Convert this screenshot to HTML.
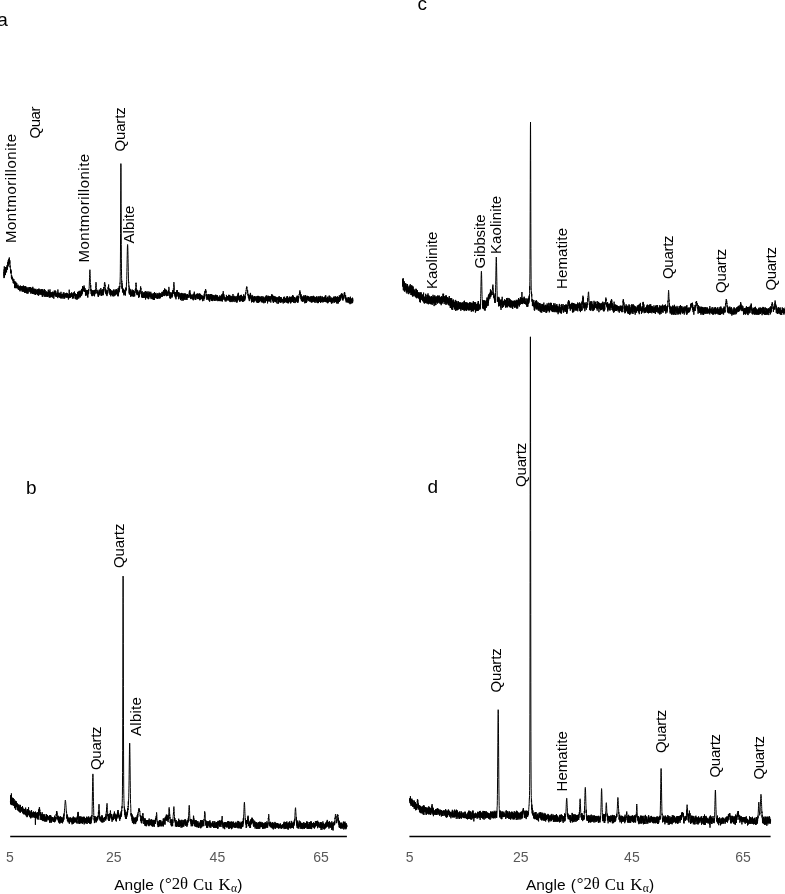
<!DOCTYPE html>
<html><head><meta charset="utf-8"><style>
html,body{margin:0;padding:0;background:#fff;width:785px;height:894px;overflow:hidden}
svg{position:absolute;left:0;top:0;display:block}
text{font-family:"Liberation Sans",sans-serif;fill:#000}
.tick{fill:#595959}
.ttl{fill:#000}
.serif{font-family:"Liberation Serif",serif}
</style></head><body>
<svg width="785" height="894" viewBox="0 0 785 894">
<defs><filter id="bl" x="-5%" y="-5%" width="110%" height="110%"><feGaussianBlur stdDeviation="0.35"/></filter></defs>
<g fill="none" stroke="#000" stroke-width="1.0" stroke-linejoin="round" filter="url(#bl)">
<polyline points="3.80,272.0 3.88,273.2 3.97,278.1 4.05,272.0 4.13,269.4 4.22,275.8 4.30,266.4 4.38,271.2 4.47,277.4 4.55,273.9 4.63,274.0 4.72,269.1 4.80,274.7 4.88,270.3 4.97,271.1 5.05,273.8 5.13,273.8 5.22,272.3 5.30,273.4 5.38,271.0 5.47,275.1 5.55,267.0 5.63,272.3 5.72,271.1 5.80,267.4 5.88,267.8 5.97,269.8 6.05,268.2 6.13,271.4 6.22,268.0 6.30,268.1 6.38,269.4 6.47,267.1 6.55,272.4 6.63,268.7 6.72,266.6 6.80,266.7 6.88,268.1 6.97,267.6 7.05,265.1 7.13,265.7 7.22,266.3 7.30,267.8 7.38,268.2 7.47,269.7 7.55,268.0 7.63,264.4 7.72,264.2 7.80,262.1 7.88,266.3 7.97,266.6 8.05,265.8 8.13,264.0 8.22,260.3 8.30,265.6 8.38,262.3 8.47,263.2 8.55,263.9 8.63,260.6 8.72,258.9 8.80,259.4 8.88,261.7 8.97,261.5 9.05,261.3 9.13,264.6 9.22,258.9 9.30,257.5 9.38,259.9 9.47,262.7 9.55,261.7 9.63,262.7 9.72,263.4 9.80,260.8 9.88,260.3 9.97,261.9 10.05,267.0 10.13,265.6 10.22,267.9 10.30,267.5 10.38,268.5 10.47,268.4 10.55,272.9 10.63,271.9 10.72,270.3 10.80,272.3 10.88,269.4 10.97,273.5 11.05,270.8 11.13,271.1 11.22,273.9 11.30,274.5 11.38,277.9 11.47,278.0 11.55,276.9 11.63,275.1 11.72,276.6 11.80,279.2 11.88,277.7 11.97,276.7 12.05,276.6 12.13,278.5 12.22,277.1 12.30,280.0 12.38,279.6 12.47,279.6 12.55,277.9 12.63,279.7 12.72,280.5 12.80,280.6 12.88,280.9 12.97,278.6 13.05,280.0 13.13,281.3 13.22,283.1 13.30,281.1 13.38,280.1 13.47,283.3 13.55,281.9 13.63,281.0 13.72,281.3 13.80,280.0 13.88,279.2 13.97,282.9 14.05,282.8 14.13,283.5 14.22,281.8 14.30,282.6 14.38,281.2 14.47,282.5 14.55,283.0 14.63,287.8 14.72,283.1 14.80,281.8 14.88,283.8 14.97,286.1 15.05,288.2 15.13,285.9 15.22,284.8 15.30,284.9 15.38,285.8 15.47,284.5 15.55,286.4 15.63,281.6 15.72,286.3 15.80,288.1 15.88,287.5 15.97,285.3 16.05,284.5 16.13,287.2 16.22,282.7 16.30,284.1 16.38,285.5 16.47,288.2 16.55,285.3 16.63,286.9 16.72,284.9 16.80,283.2 16.88,286.8 16.97,286.5 17.05,286.4 17.13,286.0 17.22,286.2 17.30,285.4 17.38,287.2 17.47,286.8 17.55,286.8 17.63,286.9 17.72,287.8 17.80,286.1 17.88,288.5 17.97,288.9 18.05,284.7 18.13,286.4 18.22,287.0 18.30,289.6 18.38,289.1 18.47,288.0 18.55,288.1 18.63,287.1 18.72,288.9 18.80,287.4 18.88,289.8 18.97,288.7 19.05,286.0 19.13,287.2 19.22,289.9 19.30,287.1 19.38,288.2 19.47,290.0 19.55,289.0 19.63,288.3 19.72,286.6 19.80,290.3 19.88,290.6 19.97,288.0 20.05,291.3 20.13,288.9 20.22,288.9 20.30,285.5 20.38,289.6 20.47,287.7 20.55,288.0 20.63,288.6 20.72,289.1 20.80,287.3 20.88,289.8 20.97,286.1 21.05,288.5 21.13,289.0 21.22,287.5 21.30,288.5 21.38,288.0 21.47,286.5 21.55,289.8 21.63,288.4 21.72,287.2 21.80,288.2 21.88,287.5 21.97,291.4 22.05,286.0 22.13,289.2 22.22,290.3 22.30,286.4 22.38,289.6 22.47,288.9 22.55,291.3 22.63,288.3 22.72,289.5 22.80,286.9 22.88,291.5 22.97,288.2 23.05,290.2 23.13,286.9 23.22,291.2 23.30,291.9 23.38,285.5 23.47,288.1 23.55,289.6 23.63,290.7 23.72,289.6 23.80,286.2 23.88,287.8 23.97,288.3 24.05,291.2 24.13,288.5 24.22,287.6 24.30,286.3 24.38,288.0 24.47,292.2 24.55,291.5 24.63,290.1 24.72,291.9 24.80,293.0 24.88,289.0 24.97,288.5 25.05,291.2 25.13,286.9 25.22,291.4 25.30,286.5 25.38,290.4 25.47,290.1 25.55,290.4 25.63,287.6 25.72,286.1 25.80,291.3 25.88,292.9 25.97,291.7 26.05,288.5 26.13,292.7 26.22,287.5 26.30,287.6 26.38,288.7 26.47,289.8 26.55,289.8 26.63,290.4 26.72,291.2 26.80,287.8 26.88,293.4 26.97,290.2 27.05,288.8 27.13,287.3 27.22,293.6 27.30,289.6 27.38,289.5 27.47,288.9 27.55,290.7 27.63,291.0 27.72,289.2 27.80,288.9 27.88,289.3 27.97,290.5 28.05,291.8 28.13,293.5 28.22,292.5 28.30,292.5 28.38,290.7 28.47,290.0 28.55,289.0 28.63,289.7 28.72,287.9 28.80,287.2 28.88,290.7 28.97,289.1 29.05,289.1 29.13,288.4 29.22,291.9 29.30,291.3 29.38,288.3 29.47,289.5 29.55,287.2 29.63,288.9 29.72,290.4 29.80,288.6 29.88,290.4 29.97,289.5 30.05,289.8 30.13,289.7 30.22,287.1 30.30,292.4 30.38,287.3 30.47,288.0 30.55,290.9 30.63,288.5 30.72,287.9 30.80,292.4 30.88,293.7 30.97,290.1 31.05,287.7 31.13,290.1 31.22,288.3 31.30,292.3 31.38,288.7 31.47,291.0 31.55,289.7 31.63,292.7 31.72,292.1 31.80,291.4 31.88,292.6 31.97,290.1 32.05,292.0 32.13,290.8 32.22,287.9 32.30,293.8 32.38,291.4 32.47,293.5 32.55,291.6 32.63,292.6 32.72,291.6 32.80,286.8 32.88,290.3 32.97,289.3 33.05,293.9 33.13,292.2 33.22,292.6 33.30,293.7 33.38,288.6 33.47,292.0 33.55,291.0 33.63,289.9 33.72,294.1 33.80,293.4 33.88,290.8 33.97,290.5 34.05,292.8 34.13,289.3 34.22,288.6 34.30,289.9 34.38,289.4 34.47,294.4 34.55,289.6 34.63,293.7 34.72,291.0 34.80,291.9 34.88,293.9 34.97,291.6 35.05,291.3 35.13,290.7 35.22,289.3 35.30,290.5 35.38,289.1 35.47,295.0 35.55,292.2 35.63,291.1 35.72,294.3 35.80,291.3 35.88,288.8 35.97,291.0 36.05,291.2 36.13,290.8 36.22,294.2 36.30,289.9 36.38,291.8 36.47,291.9 36.55,293.2 36.63,291.6 36.72,293.5 36.80,292.3 36.88,290.7 36.97,293.4 37.05,293.7 37.13,291.0 37.22,293.4 37.30,290.4 37.38,289.3 37.47,291.7 37.55,292.9 37.63,291.4 37.72,295.1 37.80,292.9 37.88,291.4 37.97,289.5 38.05,292.4 38.13,292.3 38.22,295.2 38.30,289.2 38.38,292.7 38.47,293.8 38.55,295.0 38.63,295.7 38.72,288.9 38.80,293.4 38.88,291.8 38.97,288.6 39.05,293.6 39.13,294.4 39.22,293.5 39.30,289.8 39.38,294.5 39.47,292.2 39.55,291.4 39.63,290.6 39.72,290.5 39.80,289.7 39.88,294.0 39.97,292.6 40.05,292.6 40.13,291.9 40.22,292.0 40.30,292.9 40.38,293.4 40.47,292.2 40.55,289.5 40.63,294.5 40.72,291.8 40.80,294.2 40.88,291.6 40.97,294.5 41.05,292.3 41.13,291.9 41.22,293.6 41.30,292.0 41.38,294.2 41.47,292.1 41.55,292.9 41.63,289.1 41.72,293.4 41.80,293.9 41.88,295.1 41.97,290.0 42.05,293.0 42.13,294.3 42.22,294.4 42.30,296.8 42.38,290.5 42.47,290.6 42.55,291.7 42.63,290.9 42.72,292.5 42.80,289.0 42.88,291.8 42.97,296.5 43.05,291.4 43.13,294.5 43.22,293.6 43.30,295.1 43.38,294.9 43.47,292.6 43.55,292.1 43.63,290.8 43.72,290.3 43.80,292.3 43.88,292.2 43.97,293.3 44.05,291.6 44.13,291.5 44.22,290.9 44.30,293.1 44.38,292.1 44.47,290.1 44.55,289.2 44.63,296.5 44.72,295.7 44.80,295.5 44.88,294.9 44.97,293.9 45.05,296.8 45.13,290.0 45.22,295.7 45.30,294.9 45.38,294.7 45.47,293.8 45.55,294.7 45.63,292.3 45.72,293.2 45.80,293.5 45.88,294.3 45.97,295.7 46.05,294.9 46.13,297.0 46.22,291.4 46.30,293.8 46.38,294.2 46.47,292.6 46.55,293.1 46.63,293.9 46.72,296.1 46.80,295.0 46.88,291.6 46.97,293.1 47.05,293.8 47.13,293.7 47.22,294.7 47.30,294.4 47.38,297.0 47.47,293.5 47.55,294.3 47.63,292.4 47.72,292.0 47.80,294.3 47.88,293.3 47.97,294.2 48.05,294.4 48.13,295.3 48.22,295.5 48.30,289.7 48.38,292.7 48.47,295.6 48.55,296.5 48.63,292.5 48.72,291.9 48.80,292.1 48.88,293.5 48.97,291.8 49.05,292.7 49.13,293.9 49.22,292.8 49.30,297.6 49.38,293.8 49.47,292.2 49.55,291.0 49.63,293.7 49.72,293.6 49.80,293.2 49.88,296.5 49.97,289.4 50.05,297.5 50.13,292.0 50.22,296.0 50.30,293.6 50.38,293.2 50.47,296.3 50.55,294.9 50.63,294.1 50.72,294.8 50.80,297.1 50.88,297.3 50.97,293.8 51.05,293.6 51.13,296.9 51.22,295.0 51.30,295.3 51.38,294.0 51.47,293.1 51.55,293.9 51.63,292.2 51.72,296.8 51.80,294.6 51.88,297.0 51.97,294.0 52.05,294.8 52.13,293.1 52.22,295.9 52.30,292.6 52.38,292.4 52.47,293.5 52.55,294.5 52.63,291.7 52.72,297.7 52.80,292.9 52.88,292.6 52.97,294.5 53.05,295.9 53.13,293.1 53.22,293.3 53.30,292.5 53.38,295.3 53.47,294.6 53.55,294.4 53.63,295.1 53.72,295.2 53.80,298.7 53.88,293.5 53.97,293.1 54.05,294.1 54.13,291.9 54.22,292.8 54.30,290.5 54.38,294.3 54.47,291.3 54.55,294.8 54.63,294.5 54.72,292.6 54.80,292.7 54.88,294.8 54.97,291.6 55.05,291.5 55.13,296.2 55.22,295.1 55.30,296.4 55.38,291.6 55.47,290.6 55.55,293.3 55.63,295.5 55.72,292.8 55.80,295.4 55.88,291.4 55.97,295.1 56.05,294.0 56.13,295.3 56.22,296.8 56.30,295.3 56.38,294.1 56.47,293.4 56.55,296.7 56.63,296.7 56.72,296.9 56.80,296.8 56.88,296.4 56.97,296.9 57.05,295.0 57.13,293.8 57.22,295.4 57.30,292.9 57.38,293.8 57.47,293.0 57.55,292.8 57.63,295.8 57.72,295.7 57.80,298.1 57.88,289.5 57.97,293.5 58.05,292.7 58.13,294.9 58.22,295.3 58.30,295.0 58.38,296.9 58.47,293.6 58.55,294.1 58.63,293.5 58.72,295.1 58.80,295.3 58.88,296.8 58.97,295.9 59.05,294.5 59.13,292.7 59.22,296.7 59.30,296.9 59.38,296.8 59.47,295.3 59.55,295.2 59.63,297.7 59.72,295.8 59.80,293.4 59.88,296.3 59.97,295.1 60.05,293.1 60.13,296.3 60.22,297.2 60.30,295.3 60.38,295.7 60.47,294.7 60.55,296.2 60.63,298.0 60.72,294.8 60.80,296.0 60.88,293.5 60.97,291.8 61.05,298.7 61.13,295.7 61.22,295.5 61.30,296.3 61.38,297.9 61.47,294.5 61.55,296.4 61.63,294.0 61.72,295.2 61.80,294.9 61.88,294.7 61.97,294.3 62.05,293.8 62.13,295.4 62.22,294.9 62.30,294.8 62.38,294.0 62.47,296.7 62.55,295.0 62.63,297.6 62.72,296.5 62.80,296.9 62.88,296.9 62.97,294.5 63.05,298.8 63.13,294.8 63.22,295.8 63.30,292.5 63.38,295.2 63.47,296.7 63.55,294.4 63.63,295.8 63.72,293.7 63.80,295.5 63.88,297.0 63.97,292.4 64.05,297.4 64.13,296.0 64.22,294.6 64.30,295.2 64.38,298.0 64.47,296.5 64.55,294.9 64.63,298.7 64.72,294.7 64.80,295.3 64.88,296.0 64.97,295.5 65.05,295.7 65.13,293.7 65.22,297.5 65.30,293.2 65.38,293.4 65.47,294.4 65.55,295.1 65.63,296.4 65.72,294.8 65.80,295.1 65.88,295.0 65.97,296.7 66.05,295.7 66.13,295.6 66.22,296.9 66.30,295.0 66.38,297.6 66.47,293.8 66.55,296.0 66.63,292.8 66.72,297.3 66.80,297.2 66.88,296.7 66.97,294.8 67.05,296.3 67.13,294.5 67.22,297.4 67.30,295.7 67.38,297.5 67.47,296.6 67.55,295.7 67.63,293.2 67.72,296.7 67.80,297.0 67.88,295.7 67.97,294.0 68.05,297.1 68.13,295.6 68.22,294.7 68.30,295.8 68.38,299.5 68.47,295.6 68.55,298.2 68.63,296.1 68.72,297.7 68.80,296.3 68.88,294.3 68.97,298.3 69.05,298.2 69.13,296.7 69.22,289.7 69.30,296.0 69.38,297.7 69.47,295.8 69.55,294.4 69.63,296.2 69.72,295.2 69.80,293.1 69.88,296.0 69.97,295.2 70.05,297.4 70.13,294.6 70.22,293.4 70.30,295.3 70.38,297.8 70.47,296.0 70.55,297.1 70.63,294.3 70.72,295.1 70.80,294.2 70.88,296.2 70.97,294.4 71.05,297.0 71.13,294.0 71.22,296.1 71.30,294.5 71.38,296.2 71.47,296.1 71.55,292.4 71.63,295.2 71.72,295.5 71.80,296.7 71.88,295.6 71.97,295.6 72.05,293.1 72.13,295.3 72.22,295.4 72.30,294.6 72.38,298.7 72.47,298.2 72.55,294.7 72.63,294.3 72.72,297.6 72.80,294.1 72.88,297.5 72.97,297.5 73.05,296.1 73.13,294.1 73.22,293.4 73.30,298.1 73.38,292.4 73.47,296.4 73.55,295.1 73.63,295.8 73.72,295.9 73.80,297.4 73.88,298.5 73.97,294.5 74.05,295.7 74.13,295.2 74.22,296.2 74.30,294.7 74.38,295.0 74.47,291.5 74.55,295.2 74.63,294.8 74.72,294.2 74.80,295.8 74.88,294.2 74.97,296.0 75.05,293.9 75.13,295.2 75.22,293.4 75.30,293.3 75.38,298.8 75.47,295.4 75.55,294.8 75.63,297.4 75.72,299.2 75.80,297.6 75.88,298.4 75.97,297.6 76.05,298.4 76.13,296.3 76.22,294.3 76.30,294.1 76.38,295.1 76.47,295.7 76.55,296.4 76.63,294.6 76.72,295.4 76.80,294.0 76.88,297.8 76.97,299.9 77.05,295.7 77.13,295.4 77.22,297.5 77.30,298.7 77.38,298.1 77.47,294.7 77.55,291.9 77.63,294.8 77.72,297.4 77.80,298.6 77.88,295.8 77.97,298.6 78.05,295.2 78.13,295.4 78.22,295.7 78.30,294.2 78.38,296.1 78.47,295.5 78.55,292.5 78.63,297.0 78.72,291.5 78.80,294.5 78.88,292.5 78.97,298.3 79.05,291.7 79.13,295.1 79.22,294.1 79.30,290.8 79.38,294.5 79.47,295.9 79.55,296.2 79.63,294.7 79.72,295.7 79.80,292.2 79.88,291.5 79.97,296.9 80.05,293.2 80.13,296.8 80.22,292.8 80.30,295.4 80.38,293.2 80.47,294.5 80.55,297.3 80.63,292.2 80.72,295.0 80.80,290.5 80.88,294.1 80.97,294.5 81.05,295.1 81.13,292.1 81.22,295.8 81.30,294.0 81.38,293.4 81.47,291.4 81.55,294.0 81.63,289.5 81.72,295.3 81.80,289.4 81.88,290.2 81.97,288.9 82.05,294.1 82.13,290.3 82.22,290.1 82.30,288.7 82.38,293.2 82.47,290.2 82.55,286.1 82.63,287.0 82.72,290.5 82.80,288.9 82.88,286.7 82.97,289.0 83.05,288.2 83.13,287.6 83.22,287.1 83.30,290.6 83.38,288.3 83.47,291.1 83.55,287.5 83.63,289.6 83.72,286.9 83.80,288.2 83.88,287.7 83.97,289.2 84.05,285.5 84.13,288.2 84.22,292.0 84.30,287.4 84.38,289.9 84.47,289.8 84.55,289.9 84.63,290.6 84.72,289.5 84.80,291.5 84.88,290.5 84.97,291.5 85.05,288.2 85.13,291.8 85.22,290.0 85.30,290.9 85.38,292.0 85.47,295.6 85.55,291.9 85.63,294.9 85.72,291.6 85.80,292.1 85.88,290.6 85.97,294.9 86.05,295.4 86.13,292.9 86.22,292.6 86.30,289.9 86.38,292.0 86.47,295.1 86.55,293.0 86.63,290.7 86.72,290.8 86.80,295.2 86.88,293.5 86.97,293.2 87.05,295.1 87.13,295.1 87.22,293.1 87.30,293.7 87.38,292.3 87.47,293.0 87.55,296.9 87.63,290.0 87.72,295.2 87.80,297.6 87.88,292.9 87.97,292.3 88.05,294.3 88.13,293.1 88.22,290.9 88.30,291.6 88.38,292.0 88.47,292.9 88.55,289.3 88.63,293.6 88.72,290.4 88.80,289.9 88.88,290.4 88.97,289.2 89.05,288.6 89.13,288.5 89.22,286.2 89.30,285.1 89.38,281.9 89.47,279.1 89.55,277.6 89.63,274.6 89.72,272.1 89.80,270.3 89.88,269.7 89.97,269.8 90.05,271.6 90.13,273.5 90.22,275.6 90.30,278.7 90.38,282.3 90.47,282.8 90.55,284.3 90.63,287.4 90.72,285.1 90.80,291.3 90.88,290.7 90.97,288.8 91.05,291.3 91.13,294.1 91.22,292.6 91.30,293.0 91.38,289.8 91.47,290.6 91.55,292.4 91.63,294.9 91.72,290.6 91.80,293.0 91.88,291.9 91.97,295.7 92.05,291.7 92.13,296.2 92.22,291.0 92.30,294.4 92.38,296.0 92.47,293.4 92.55,290.3 92.63,293.1 92.72,294.9 92.80,295.0 92.88,291.2 92.97,291.9 93.05,295.9 93.13,290.4 93.22,293.2 93.30,290.6 93.38,293.8 93.47,293.0 93.55,293.4 93.63,292.2 93.72,294.1 93.80,293.3 93.88,291.6 93.97,292.9 94.05,294.3 94.13,290.3 94.22,293.8 94.30,294.7 94.38,292.3 94.47,294.7 94.55,296.3 94.63,292.3 94.72,289.9 94.80,292.9 94.88,294.3 94.97,290.0 95.05,292.8 95.13,292.5 95.22,293.6 95.30,292.2 95.38,290.3 95.47,291.0 95.55,291.0 95.63,288.4 95.72,285.4 95.80,283.6 95.88,283.5 95.97,282.2 96.05,282.3 96.13,283.7 96.22,283.5 96.30,287.5 96.38,287.6 96.47,289.3 96.55,291.4 96.63,291.4 96.72,290.3 96.80,291.9 96.88,293.2 96.97,291.8 97.05,293.5 97.13,293.0 97.22,292.4 97.30,291.5 97.38,291.5 97.47,293.1 97.55,292.6 97.63,293.8 97.72,294.4 97.80,290.6 97.88,289.8 97.97,292.0 98.05,294.4 98.13,296.6 98.22,294.1 98.30,295.2 98.38,296.5 98.47,296.8 98.55,293.4 98.63,292.8 98.72,293.7 98.80,294.0 98.88,294.2 98.97,291.7 99.05,295.1 99.13,293.0 99.22,290.7 99.30,293.4 99.38,293.4 99.47,292.4 99.55,294.1 99.63,289.6 99.72,293.1 99.80,290.5 99.88,292.9 99.97,294.6 100.05,294.3 100.13,295.5 100.22,292.4 100.30,293.5 100.38,291.5 100.47,292.4 100.55,293.0 100.63,292.3 100.72,291.5 100.80,288.0 100.88,288.6 100.97,290.8 101.05,291.4 101.13,290.9 101.22,290.2 101.30,292.5 101.38,290.5 101.47,295.9 101.55,291.3 101.63,294.1 101.72,293.4 101.80,293.3 101.88,290.8 101.97,295.1 102.05,295.3 102.13,295.1 102.22,293.0 102.30,289.2 102.38,295.2 102.47,291.9 102.55,291.5 102.63,291.5 102.72,291.7 102.80,290.3 102.88,294.6 102.97,289.9 103.05,290.5 103.13,291.4 103.22,293.9 103.30,295.2 103.38,293.2 103.47,291.3 103.55,289.2 103.63,289.2 103.72,290.9 103.80,292.4 103.88,287.0 103.97,290.6 104.05,287.0 104.13,287.9 104.22,287.9 104.30,286.4 104.38,283.0 104.47,282.9 104.55,282.3 104.63,282.0 104.72,282.4 104.80,282.6 104.88,284.0 104.97,283.9 105.05,285.1 105.13,286.1 105.22,284.9 105.30,287.2 105.38,287.5 105.47,289.7 105.55,289.4 105.63,292.4 105.72,289.1 105.80,293.9 105.88,289.9 105.97,292.8 106.05,291.5 106.13,293.2 106.22,292.7 106.30,290.5 106.38,295.1 106.47,292.9 106.55,292.2 106.63,292.3 106.72,292.8 106.80,293.6 106.88,291.6 106.97,296.1 107.05,292.9 107.13,293.3 107.22,294.3 107.30,291.0 107.38,292.9 107.47,292.4 107.55,292.3 107.63,293.9 107.72,291.2 107.80,292.9 107.88,290.0 107.97,291.1 108.05,288.1 108.13,287.2 108.22,289.1 108.30,287.8 108.38,286.5 108.47,287.3 108.55,285.4 108.63,284.5 108.72,287.7 108.80,289.6 108.88,289.1 108.97,289.7 109.05,288.3 109.13,288.3 109.22,289.3 109.30,291.7 109.38,291.9 109.47,291.5 109.55,289.1 109.63,289.4 109.72,292.2 109.80,290.3 109.88,294.7 109.97,289.5 110.05,292.5 110.13,292.9 110.22,289.7 110.30,294.3 110.38,292.4 110.47,289.3 110.55,291.5 110.63,294.8 110.72,291.6 110.80,296.3 110.88,290.0 110.97,292.2 111.05,291.9 111.13,293.2 111.22,291.7 111.30,294.6 111.38,290.7 111.47,292.0 111.55,292.5 111.63,294.1 111.72,294.8 111.80,292.9 111.88,291.7 111.97,293.2 112.05,292.4 112.13,294.7 112.22,294.4 112.30,295.1 112.38,291.5 112.47,293.4 112.55,293.0 112.63,291.5 112.72,295.9 112.80,290.7 112.88,293.5 112.97,293.3 113.05,292.0 113.13,296.5 113.22,291.6 113.30,294.7 113.38,290.1 113.47,289.6 113.55,291.7 113.63,294.3 113.72,292.0 113.80,293.7 113.88,293.7 113.97,291.8 114.05,290.6 114.13,294.2 114.22,296.2 114.30,294.1 114.38,294.7 114.47,293.6 114.55,292.7 114.63,292.8 114.72,293.8 114.80,294.9 114.88,294.5 114.97,289.5 115.05,294.6 115.13,291.1 115.22,294.3 115.30,295.4 115.38,290.8 115.47,292.5 115.55,292.7 115.63,290.5 115.72,291.5 115.80,293.2 115.88,291.3 115.97,292.9 116.05,290.4 116.13,291.4 116.22,291.2 116.30,289.0 116.38,292.7 116.47,290.8 116.55,294.4 116.63,292.9 116.72,293.0 116.80,291.4 116.88,289.6 116.97,289.6 117.05,290.1 117.13,293.9 117.22,293.5 117.30,293.8 117.38,290.5 117.47,292.6 117.55,293.7 117.63,292.5 117.72,294.9 117.80,296.0 117.88,293.7 117.97,292.0 118.05,296.4 118.13,288.1 118.22,295.6 118.30,293.8 118.38,293.0 118.47,292.2 118.55,293.3 118.63,293.5 118.72,292.5 118.80,292.7 118.88,288.2 118.97,288.9 119.05,289.2 119.13,292.1 119.22,286.4 119.30,290.6 119.38,286.3 119.47,289.2 119.55,290.0 119.63,287.8 119.72,288.3 119.80,286.2 119.88,286.8 119.97,282.8 120.05,283.5 120.13,280.0 120.22,276.8 120.30,271.6 120.38,263.4 120.47,251.1 120.55,233.7 120.63,212.2 120.72,190.1 120.80,172.1 120.88,163.6 120.97,167.3 121.05,182.1 121.13,203.2 121.22,225.3 121.30,244.6 121.38,258.8 121.47,268.8 121.55,275.2 121.63,278.7 121.72,282.4 121.80,280.8 121.88,285.5 121.97,288.5 122.05,283.1 122.13,284.5 122.22,288.8 122.30,286.4 122.38,285.9 122.47,292.3 122.55,290.2 122.63,290.6 122.72,291.6 122.80,288.9 122.88,290.3 122.97,291.5 123.05,289.8 123.13,292.2 123.22,292.9 123.30,290.4 123.38,291.6 123.47,291.3 123.55,288.7 123.63,294.3 123.72,291.8 123.80,292.5 123.88,291.9 123.97,295.4 124.05,294.2 124.13,293.7 124.22,293.0 124.30,290.2 124.38,291.7 124.47,292.1 124.55,290.8 124.63,291.5 124.72,294.7 124.80,294.3 124.88,290.4 124.97,289.7 125.05,292.9 125.13,292.5 125.22,291.3 125.30,292.4 125.38,292.8 125.47,295.5 125.55,292.3 125.63,292.2 125.72,290.5 125.80,291.0 125.88,287.5 125.97,290.0 126.05,288.2 126.13,289.1 126.22,290.3 126.30,286.9 126.38,286.9 126.47,283.0 126.55,284.0 126.63,281.9 126.72,279.5 126.80,275.8 126.88,271.7 126.97,267.4 127.05,263.2 127.13,259.5 127.22,255.4 127.30,251.4 127.38,248.0 127.47,245.8 127.55,244.6 127.63,244.5 127.72,245.6 127.80,247.7 127.88,250.7 127.97,254.4 128.05,258.5 128.13,262.7 128.22,267.0 128.30,271.4 128.38,275.0 128.47,278.9 128.55,281.9 128.63,282.8 128.72,281.8 128.80,285.9 128.88,286.7 128.97,285.6 129.05,288.8 129.13,293.4 129.22,289.8 129.30,287.4 129.38,294.4 129.47,293.5 129.55,292.9 129.63,288.3 129.72,289.7 129.80,294.1 129.88,292.0 129.97,294.0 130.05,291.1 130.13,294.5 130.22,294.7 130.30,291.8 130.38,292.1 130.47,289.4 130.55,295.7 130.63,291.6 130.72,291.0 130.80,296.9 130.88,295.6 130.97,295.1 131.05,290.5 131.13,294.2 131.22,294.0 131.30,296.0 131.38,293.5 131.47,292.4 131.55,294.4 131.63,292.3 131.72,295.9 131.80,292.9 131.88,293.7 131.97,294.1 132.05,294.4 132.13,289.5 132.22,292.0 132.30,293.2 132.38,296.1 132.47,294.7 132.55,291.3 132.63,296.0 132.72,291.1 132.80,296.4 132.88,293.5 132.97,290.2 133.05,293.7 133.13,292.6 133.22,295.4 133.30,293.9 133.38,291.1 133.47,291.5 133.55,290.3 133.63,296.2 133.72,294.8 133.80,296.7 133.88,295.5 133.97,294.2 134.05,291.2 134.13,294.4 134.22,293.3 134.30,295.2 134.38,295.0 134.47,292.4 134.55,295.1 134.63,294.3 134.72,296.3 134.80,293.2 134.88,291.2 134.97,291.5 135.05,293.2 135.13,292.2 135.22,291.6 135.30,289.1 135.38,291.2 135.47,291.2 135.55,289.0 135.63,287.5 135.72,286.6 135.80,284.5 135.88,283.3 135.97,283.9 136.05,282.7 136.13,284.2 136.22,285.2 136.30,284.9 136.38,287.4 136.47,291.5 136.55,290.6 136.63,290.2 136.72,293.8 136.80,291.0 136.88,294.1 136.97,294.6 137.05,293.5 137.13,289.8 137.22,295.2 137.30,293.9 137.38,293.8 137.47,293.4 137.55,290.8 137.63,292.5 137.72,294.2 137.80,294.6 137.88,290.6 137.97,293.4 138.05,292.1 138.13,293.3 138.22,292.8 138.30,294.0 138.38,294.9 138.47,293.4 138.55,294.7 138.63,293.3 138.72,297.9 138.80,296.4 138.88,292.6 138.97,292.3 139.05,296.6 139.13,294.9 139.22,294.7 139.30,296.8 139.38,292.5 139.47,292.9 139.55,292.3 139.63,294.6 139.72,293.1 139.80,290.5 139.88,294.1 139.97,293.3 140.05,290.6 140.13,291.2 140.22,292.0 140.30,290.9 140.38,289.5 140.47,287.6 140.55,288.3 140.63,286.4 140.72,287.4 140.80,289.7 140.88,289.2 140.97,288.2 141.05,291.5 141.13,291.3 141.22,293.3 141.30,293.5 141.38,292.0 141.47,296.6 141.55,295.0 141.63,295.7 141.72,294.6 141.80,296.9 141.88,294.6 141.97,296.3 142.05,297.7 142.13,291.1 142.22,294.6 142.30,297.5 142.38,296.8 142.47,295.0 142.55,296.8 142.63,297.7 142.72,296.8 142.80,297.2 142.88,294.8 142.97,294.9 143.05,292.7 143.13,292.9 143.22,295.5 143.30,296.3 143.38,292.8 143.47,294.8 143.55,297.7 143.63,293.8 143.72,295.9 143.80,296.1 143.88,294.1 143.97,297.8 144.05,292.4 144.13,295.0 144.22,292.2 144.30,292.2 144.38,297.2 144.47,294.3 144.55,295.6 144.63,297.6 144.72,293.4 144.80,294.9 144.88,295.6 144.97,294.1 145.05,296.0 145.13,292.9 145.22,292.4 145.30,291.0 145.38,294.2 145.47,298.0 145.55,299.5 145.63,296.1 145.72,294.1 145.80,294.9 145.88,297.3 145.97,294.6 146.05,298.2 146.13,293.2 146.22,293.2 146.30,297.2 146.38,291.6 146.47,293.9 146.55,294.9 146.63,293.3 146.72,295.8 146.80,296.5 146.88,292.4 146.97,297.0 147.05,294.2 147.13,293.2 147.22,294.9 147.30,295.2 147.38,297.8 147.47,296.8 147.55,295.3 147.63,295.2 147.72,297.2 147.80,294.5 147.88,291.4 147.97,298.3 148.05,298.4 148.13,298.8 148.22,295.1 148.30,295.2 148.38,299.2 148.47,296.5 148.55,293.5 148.63,293.7 148.72,294.3 148.80,298.8 148.88,293.7 148.97,297.1 149.05,291.6 149.13,295.9 149.22,293.2 149.30,295.6 149.38,294.2 149.47,296.1 149.55,292.4 149.63,296.2 149.72,295.1 149.80,296.2 149.88,294.8 149.97,296.5 150.05,296.6 150.13,296.2 150.22,295.2 150.30,297.6 150.38,296.8 150.47,295.4 150.55,296.0 150.63,296.4 150.72,294.8 150.80,291.8 150.88,296.3 150.97,293.4 151.05,296.9 151.13,299.1 151.22,294.2 151.30,296.9 151.38,296.2 151.47,297.1 151.55,295.3 151.63,294.8 151.72,294.2 151.80,293.7 151.88,297.1 151.97,298.5 152.05,298.2 152.13,295.0 152.22,294.4 152.30,295.9 152.38,298.9 152.47,299.0 152.55,294.7 152.63,298.3 152.72,294.6 152.80,299.4 152.88,296.4 152.97,297.6 153.05,296.4 153.13,293.8 153.22,293.0 153.30,294.9 153.38,295.0 153.47,299.5 153.55,294.6 153.63,293.8 153.72,297.3 153.80,295.2 153.88,296.6 153.97,296.4 154.05,299.9 154.13,295.7 154.22,297.2 154.30,299.9 154.38,296.3 154.47,292.0 154.55,296.1 154.63,294.8 154.72,297.4 154.80,294.0 154.88,297.2 154.97,297.0 155.05,296.7 155.13,297.7 155.22,296.1 155.30,293.9 155.38,295.9 155.47,298.1 155.55,293.4 155.63,294.7 155.72,294.4 155.80,294.1 155.88,293.0 155.97,292.9 156.05,294.3 156.13,294.1 156.22,297.2 156.30,296.5 156.38,295.1 156.47,297.7 156.55,295.1 156.63,297.0 156.72,296.6 156.80,298.6 156.88,294.4 156.97,297.4 157.05,297.0 157.13,297.6 157.22,297.3 157.30,295.2 157.38,296.9 157.47,296.6 157.55,298.8 157.63,294.8 157.72,293.2 157.80,295.6 157.88,294.2 157.97,296.5 158.05,294.6 158.13,297.1 158.22,296.5 158.30,295.2 158.38,297.6 158.47,297.7 158.55,297.1 158.63,297.8 158.72,298.5 158.80,296.0 158.88,293.6 158.97,294.3 159.05,295.1 159.13,297.6 159.22,292.7 159.30,295.4 159.38,298.3 159.47,293.1 159.55,293.8 159.63,298.3 159.72,294.6 159.80,295.4 159.88,294.6 159.97,294.7 160.05,296.2 160.13,295.3 160.22,295.6 160.30,293.6 160.38,296.6 160.47,296.5 160.55,298.2 160.63,295.6 160.72,294.0 160.80,293.3 160.88,296.2 160.97,294.5 161.05,293.9 161.13,294.6 161.22,295.8 161.30,296.0 161.38,295.9 161.47,296.2 161.55,294.6 161.63,294.5 161.72,297.0 161.80,294.0 161.88,296.3 161.97,291.9 162.05,297.0 162.13,295.2 162.22,293.3 162.30,292.3 162.38,291.9 162.47,293.9 162.55,296.1 162.63,295.6 162.72,294.5 162.80,292.7 162.88,294.2 162.97,293.5 163.05,291.7 163.13,292.2 163.22,292.6 163.30,294.5 163.38,293.2 163.47,293.2 163.55,291.8 163.63,290.1 163.72,292.4 163.80,295.7 163.88,294.8 163.97,294.2 164.05,292.7 164.13,296.1 164.22,294.5 164.30,294.8 164.38,295.7 164.47,289.6 164.55,293.7 164.63,288.4 164.72,290.5 164.80,290.0 164.88,289.0 164.97,292.4 165.05,289.8 165.13,291.3 165.22,291.4 165.30,289.8 165.38,290.7 165.47,293.4 165.55,294.4 165.63,295.2 165.72,291.8 165.80,292.8 165.88,290.3 165.97,292.6 166.05,293.6 166.13,291.9 166.22,295.8 166.30,290.8 166.38,293.1 166.47,289.8 166.55,295.5 166.63,296.2 166.72,292.1 166.80,294.1 166.88,294.0 166.97,294.3 167.05,291.3 167.13,293.5 167.22,291.9 167.30,292.2 167.38,292.9 167.47,295.0 167.55,295.6 167.63,294.5 167.72,292.5 167.80,295.3 167.88,295.7 167.97,294.5 168.05,294.7 168.13,295.5 168.22,293.4 168.30,290.4 168.38,293.6 168.47,291.5 168.55,289.8 168.63,289.6 168.72,288.3 168.80,287.2 168.88,286.9 168.97,287.5 169.05,288.5 169.13,288.4 169.22,290.2 169.30,290.4 169.38,291.1 169.47,293.8 169.55,292.3 169.63,292.5 169.72,293.0 169.80,298.2 169.88,295.4 169.97,293.3 170.05,295.3 170.13,295.0 170.22,296.2 170.30,294.6 170.38,298.5 170.47,296.8 170.55,296.2 170.63,295.7 170.72,298.4 170.80,294.4 170.88,292.1 170.97,297.6 171.05,294.5 171.13,295.3 171.22,296.7 171.30,293.7 171.38,293.9 171.47,295.4 171.55,296.8 171.63,294.9 171.72,295.1 171.80,292.8 171.88,294.0 171.97,296.0 172.05,295.3 172.13,295.8 172.22,297.4 172.30,294.3 172.38,294.5 172.47,292.1 172.55,293.6 172.63,295.9 172.72,292.4 172.80,290.2 172.88,293.8 172.97,292.3 173.05,292.8 173.13,293.4 173.22,290.0 173.30,293.6 173.38,287.9 173.47,287.6 173.55,287.4 173.63,286.1 173.72,283.4 173.80,283.3 173.88,282.2 173.97,283.1 174.05,283.1 174.13,284.6 174.22,286.1 174.30,286.1 174.38,290.4 174.47,291.7 174.55,292.1 174.63,294.9 174.72,292.0 174.80,295.3 174.88,296.5 174.97,292.1 175.05,294.0 175.13,295.2 175.22,294.5 175.30,294.2 175.38,297.7 175.47,295.4 175.55,292.2 175.63,296.3 175.72,293.9 175.80,294.2 175.88,293.2 175.97,299.3 176.05,296.0 176.13,294.9 176.22,295.7 176.30,294.2 176.38,293.6 176.47,296.5 176.55,291.9 176.63,296.3 176.72,293.6 176.80,294.5 176.88,290.0 176.97,292.9 177.05,291.2 177.13,293.5 177.22,293.4 177.30,290.2 177.38,290.3 177.47,291.1 177.55,294.4 177.63,292.1 177.72,292.3 177.80,292.1 177.88,296.2 177.97,294.0 178.05,292.2 178.13,296.5 178.22,296.1 178.30,296.6 178.38,295.2 178.47,295.3 178.55,299.2 178.63,295.9 178.72,292.5 178.80,293.9 178.88,296.5 178.97,295.6 179.05,296.6 179.13,292.7 179.22,296.2 179.30,295.3 179.38,294.1 179.47,296.5 179.55,296.5 179.63,295.1 179.72,296.9 179.80,297.3 179.88,298.5 179.97,297.8 180.05,296.0 180.13,293.7 180.22,295.7 180.30,296.4 180.38,296.7 180.47,300.1 180.55,297.9 180.63,295.6 180.72,296.3 180.80,293.3 180.88,299.0 180.97,297.3 181.05,298.4 181.13,295.4 181.22,295.6 181.30,297.5 181.38,296.6 181.47,298.5 181.55,294.1 181.63,292.9 181.72,297.8 181.80,296.0 181.88,300.7 181.97,298.6 182.05,298.8 182.13,295.3 182.22,298.1 182.30,296.4 182.38,295.7 182.47,293.4 182.55,296.5 182.63,296.8 182.72,297.7 182.80,296.7 182.88,299.0 182.97,300.1 183.05,294.4 183.13,300.7 183.22,298.5 183.30,294.2 183.38,295.8 183.47,293.6 183.55,295.1 183.63,298.8 183.72,296.0 183.80,296.0 183.88,297.9 183.97,294.4 184.05,294.7 184.13,299.1 184.22,296.1 184.30,293.4 184.38,294.3 184.47,297.5 184.55,299.0 184.63,293.8 184.72,299.4 184.80,296.7 184.88,294.0 184.97,296.6 185.05,300.0 185.13,297.4 185.22,296.6 185.30,294.9 185.38,296.3 185.47,297.3 185.55,293.6 185.63,293.5 185.72,294.2 185.80,295.3 185.88,296.9 185.97,296.0 186.05,296.8 186.13,297.0 186.22,299.5 186.30,298.5 186.38,297.3 186.47,294.6 186.55,297.8 186.63,298.5 186.72,298.5 186.80,295.5 186.88,295.4 186.97,300.0 187.05,295.3 187.13,297.1 187.22,294.2 187.30,297.6 187.38,297.2 187.47,294.0 187.55,296.6 187.63,296.4 187.72,294.4 187.80,297.5 187.88,298.0 187.97,296.9 188.05,297.0 188.13,296.2 188.22,296.0 188.30,296.1 188.38,296.9 188.47,295.4 188.55,297.6 188.63,297.3 188.72,295.7 188.80,297.1 188.88,294.6 188.97,294.1 189.05,293.3 189.13,292.9 189.22,293.2 189.30,291.5 189.38,291.3 189.47,293.1 189.55,291.2 189.63,291.8 189.72,293.7 189.80,292.8 189.88,290.2 189.97,296.2 190.05,292.9 190.13,297.8 190.22,294.1 190.30,298.0 190.38,295.1 190.47,298.0 190.55,296.6 190.63,295.3 190.72,299.1 190.80,295.5 190.88,297.3 190.97,295.6 191.05,296.1 191.13,297.4 191.22,298.2 191.30,298.0 191.38,296.8 191.47,297.7 191.55,296.2 191.63,294.6 191.72,296.1 191.80,297.9 191.88,295.3 191.97,299.1 192.05,297.2 192.13,296.3 192.22,297.6 192.30,296.9 192.38,297.0 192.47,297.8 192.55,299.4 192.63,297.9 192.72,296.4 192.80,294.6 192.88,295.7 192.97,294.8 193.05,296.2 193.13,298.8 193.22,297.1 193.30,300.3 193.38,293.7 193.47,296.4 193.55,295.3 193.63,297.6 193.72,297.0 193.80,295.1 193.88,294.0 193.97,297.1 194.05,294.4 194.13,295.3 194.22,294.6 194.30,291.7 194.38,295.8 194.47,296.8 194.55,293.4 194.63,297.3 194.72,295.1 194.80,296.7 194.88,299.1 194.97,299.5 195.05,296.5 195.13,296.6 195.22,297.6 195.30,297.0 195.38,299.7 195.47,295.2 195.55,300.0 195.63,298.2 195.72,299.9 195.80,299.3 195.88,298.0 195.97,297.0 196.05,296.4 196.13,294.1 196.22,296.0 196.30,295.1 196.38,296.1 196.47,296.3 196.55,297.4 196.63,295.1 196.72,293.8 196.80,296.8 196.88,297.5 196.97,297.0 197.05,297.1 197.13,298.5 197.22,295.8 197.30,299.1 197.38,297.7 197.47,295.7 197.55,293.8 197.63,298.0 197.72,293.6 197.80,296.8 197.88,297.4 197.97,298.7 198.05,296.9 198.13,297.4 198.22,298.5 198.30,293.8 198.38,297.1 198.47,298.2 198.55,294.4 198.63,295.5 198.72,297.7 198.80,299.1 198.88,296.8 198.97,295.5 199.05,296.1 199.13,298.0 199.22,297.2 199.30,293.7 199.38,297.7 199.47,300.0 199.55,297.7 199.63,293.6 199.72,295.7 199.80,300.3 199.88,293.9 199.97,296.0 200.05,293.9 200.13,297.2 200.22,298.9 200.30,297.3 200.38,297.9 200.47,299.2 200.55,299.6 200.63,299.3 200.72,296.5 200.80,294.7 200.88,294.8 200.97,298.3 201.05,297.1 201.13,297.0 201.22,295.5 201.30,296.8 201.38,299.2 201.47,297.6 201.55,298.2 201.63,296.8 201.72,296.1 201.80,295.1 201.88,298.3 201.97,296.7 202.05,297.4 202.13,298.2 202.22,298.9 202.30,297.4 202.38,297.7 202.47,295.8 202.55,298.5 202.63,301.2 202.72,300.3 202.80,297.3 202.88,296.7 202.97,296.8 203.05,296.2 203.13,297.5 203.22,298.7 203.30,296.6 203.38,298.9 203.47,297.0 203.55,298.5 203.63,296.4 203.72,298.1 203.80,300.7 203.88,299.6 203.97,297.5 204.05,298.3 204.13,294.4 204.22,296.2 204.30,296.7 204.38,293.4 204.47,294.9 204.55,295.9 204.63,298.6 204.72,297.3 204.80,295.2 204.88,291.5 204.97,293.1 205.05,293.1 205.13,291.0 205.22,292.1 205.30,290.4 205.38,290.2 205.47,289.4 205.55,290.6 205.63,289.3 205.72,289.6 205.80,290.4 205.88,292.8 205.97,290.7 206.05,293.2 206.13,296.4 206.22,294.4 206.30,294.7 206.38,295.9 206.47,294.7 206.55,294.0 206.63,296.8 206.72,298.4 206.80,299.8 206.88,299.1 206.97,297.3 207.05,298.0 207.13,296.8 207.22,294.5 207.30,299.5 207.38,296.2 207.47,296.7 207.55,298.7 207.63,295.9 207.72,296.4 207.80,297.9 207.88,296.3 207.97,296.0 208.05,297.1 208.13,297.8 208.22,297.7 208.30,294.1 208.38,298.7 208.47,297.5 208.55,298.6 208.63,295.9 208.72,294.8 208.80,298.9 208.88,300.3 208.97,298.0 209.05,300.4 209.13,294.5 209.22,299.0 209.30,296.8 209.38,294.8 209.47,297.2 209.55,296.5 209.63,301.7 209.72,297.0 209.80,297.1 209.88,299.5 209.97,296.6 210.05,296.5 210.13,297.8 210.22,298.6 210.30,297.5 210.38,294.0 210.47,296.6 210.55,296.4 210.63,295.8 210.72,297.5 210.80,295.9 210.88,299.2 210.97,296.4 211.05,297.0 211.13,296.1 211.22,300.8 211.30,294.0 211.38,299.0 211.47,295.6 211.55,300.7 211.63,297.3 211.72,299.4 211.80,296.4 211.88,298.5 211.97,296.3 212.05,298.6 212.13,298.1 212.22,298.5 212.30,299.5 212.38,294.9 212.47,301.1 212.55,295.5 212.63,294.8 212.72,299.5 212.80,299.2 212.88,296.1 212.97,295.0 213.05,300.8 213.13,299.4 213.22,296.0 213.30,296.5 213.38,298.3 213.47,297.3 213.55,297.6 213.63,296.8 213.72,299.6 213.80,298.6 213.88,295.1 213.97,298.8 214.05,298.6 214.13,297.7 214.22,297.2 214.30,298.0 214.38,296.4 214.47,297.0 214.55,297.6 214.63,298.4 214.72,301.0 214.80,295.8 214.88,297.9 214.97,299.3 215.05,300.7 215.13,295.5 215.22,294.9 215.30,299.1 215.38,298.1 215.47,298.5 215.55,295.4 215.63,297.9 215.72,298.6 215.80,294.7 215.88,299.2 215.97,296.9 216.05,300.6 216.13,298.4 216.22,296.3 216.30,295.8 216.38,298.6 216.47,297.9 216.55,299.3 216.63,295.5 216.72,297.9 216.80,299.7 216.88,297.2 216.97,298.5 217.05,300.5 217.13,295.1 217.22,298.5 217.30,296.7 217.38,299.6 217.47,300.1 217.55,295.7 217.63,298.6 217.72,298.2 217.80,300.3 217.88,301.2 217.97,299.2 218.05,297.2 218.13,298.5 218.22,296.7 218.30,298.7 218.38,297.3 218.47,298.9 218.55,301.0 218.63,297.3 218.72,297.6 218.80,300.4 218.88,299.6 218.97,300.0 219.05,299.0 219.13,298.0 219.22,297.1 219.30,298.7 219.38,298.8 219.47,301.1 219.55,297.2 219.63,297.3 219.72,300.0 219.80,295.4 219.88,301.0 219.97,299.7 220.05,300.0 220.13,300.9 220.22,299.0 220.30,297.8 220.38,300.1 220.47,297.3 220.55,296.9 220.63,297.3 220.72,298.0 220.80,295.9 220.88,298.1 220.97,297.0 221.05,301.3 221.13,300.2 221.22,300.0 221.30,299.3 221.38,300.4 221.47,294.9 221.55,294.5 221.63,300.9 221.72,295.3 221.80,297.6 221.88,296.5 221.97,295.6 222.05,299.9 222.13,300.1 222.22,300.3 222.30,299.9 222.38,301.5 222.47,300.8 222.55,296.4 222.63,298.3 222.72,297.5 222.80,296.1 222.88,293.4 222.97,296.9 223.05,294.1 223.13,295.8 223.22,291.2 223.30,292.9 223.38,293.7 223.47,293.7 223.55,294.1 223.63,294.8 223.72,296.4 223.80,298.9 223.88,294.3 223.97,300.0 224.05,298.3 224.13,297.9 224.22,297.7 224.30,298.4 224.38,297.7 224.47,296.6 224.55,299.1 224.63,297.8 224.72,299.4 224.80,300.0 224.88,300.1 224.97,299.9 225.05,300.9 225.13,301.4 225.22,298.7 225.30,298.2 225.38,299.5 225.47,300.3 225.55,299.0 225.63,299.3 225.72,299.1 225.80,298.0 225.88,297.2 225.97,297.1 226.05,301.5 226.13,297.6 226.22,299.1 226.30,298.0 226.38,294.9 226.47,296.3 226.55,300.1 226.63,298.1 226.72,300.3 226.80,299.1 226.88,298.7 226.97,298.8 227.05,299.7 227.13,299.4 227.22,299.6 227.30,297.3 227.38,296.0 227.47,299.2 227.55,299.0 227.63,296.4 227.72,298.0 227.80,300.4 227.88,300.2 227.97,299.1 228.05,299.4 228.13,296.8 228.22,300.4 228.30,300.2 228.38,296.7 228.47,299.3 228.55,296.9 228.63,294.8 228.72,298.9 228.80,298.7 228.88,297.9 228.97,295.6 229.05,295.9 229.13,300.6 229.22,300.2 229.30,297.1 229.38,297.3 229.47,301.4 229.55,300.6 229.63,298.8 229.72,294.9 229.80,300.7 229.88,295.7 229.97,296.4 230.05,298.7 230.13,299.3 230.22,302.1 230.30,298.0 230.38,296.5 230.47,299.9 230.55,298.7 230.63,298.3 230.72,296.7 230.80,296.1 230.88,299.9 230.97,298.2 231.05,297.2 231.13,299.7 231.22,301.7 231.30,300.2 231.38,298.4 231.47,299.1 231.55,297.7 231.63,300.5 231.72,300.5 231.80,295.9 231.88,299.3 231.97,300.1 232.05,298.1 232.13,302.1 232.22,297.3 232.30,299.7 232.38,296.5 232.47,298.6 232.55,297.6 232.63,299.0 232.72,298.7 232.80,298.7 232.88,300.7 232.97,294.0 233.05,300.6 233.13,299.3 233.22,300.4 233.30,296.5 233.38,298.6 233.47,298.7 233.55,299.0 233.63,297.9 233.72,296.8 233.80,299.3 233.88,301.8 233.97,299.5 234.05,295.8 234.13,298.6 234.22,300.0 234.30,298.0 234.38,297.6 234.47,298.4 234.55,297.9 234.63,298.5 234.72,296.6 234.80,299.2 234.88,297.1 234.97,300.0 235.05,302.1 235.13,297.3 235.22,299.0 235.30,297.1 235.38,299.4 235.47,299.6 235.55,297.9 235.63,299.3 235.72,301.0 235.80,297.5 235.88,300.5 235.97,296.1 236.05,300.8 236.13,299.9 236.22,299.5 236.30,297.8 236.38,297.7 236.47,299.3 236.55,299.7 236.63,299.2 236.72,299.7 236.80,302.5 236.88,299.7 236.97,302.4 237.05,298.0 237.13,295.9 237.22,298.7 237.30,297.7 237.38,300.6 237.47,299.6 237.55,298.4 237.63,296.4 237.72,300.8 237.80,298.4 237.88,294.9 237.97,299.8 238.05,293.5 238.13,295.6 238.22,294.7 238.30,295.9 238.38,292.8 238.47,295.7 238.55,298.0 238.63,296.3 238.72,296.3 238.80,296.6 238.88,299.7 238.97,298.0 239.05,297.5 239.13,299.4 239.22,297.5 239.30,300.3 239.38,297.4 239.47,297.4 239.55,299.4 239.63,298.2 239.72,295.9 239.80,298.9 239.88,302.0 239.97,296.1 240.05,301.0 240.13,297.3 240.22,300.6 240.30,295.2 240.38,299.4 240.47,298.9 240.55,299.1 240.63,297.7 240.72,299.5 240.80,300.3 240.88,300.8 240.97,297.6 241.05,300.7 241.13,295.5 241.22,296.9 241.30,294.8 241.38,295.1 241.47,295.7 241.55,295.4 241.63,296.2 241.72,300.3 241.80,297.9 241.88,299.0 241.97,299.0 242.05,300.5 242.13,298.0 242.22,299.0 242.30,296.9 242.38,301.9 242.47,299.5 242.55,299.2 242.63,296.3 242.72,296.3 242.80,298.8 242.88,299.5 242.97,297.2 243.05,298.4 243.13,301.5 243.22,298.9 243.30,297.4 243.38,297.0 243.47,299.2 243.55,301.4 243.63,297.2 243.72,294.3 243.80,297.3 243.88,299.6 243.97,299.9 244.05,296.8 244.13,297.9 244.22,301.1 244.30,297.9 244.38,296.1 244.47,300.0 244.55,297.3 244.63,299.1 244.72,296.0 244.80,295.6 244.88,300.3 244.97,297.5 245.05,296.3 245.13,298.5 245.22,298.2 245.30,297.0 245.38,295.5 245.47,293.2 245.55,292.9 245.63,292.2 245.72,292.5 245.80,294.1 245.88,292.6 245.97,291.5 246.05,290.3 246.13,290.1 246.22,290.5 246.30,289.2 246.38,287.9 246.47,288.9 246.55,287.7 246.63,288.1 246.72,286.5 246.80,288.4 246.88,287.4 246.97,288.4 247.05,288.9 247.13,289.0 247.22,289.3 247.30,290.2 247.38,290.2 247.47,292.8 247.55,292.5 247.63,290.2 247.72,292.2 247.80,292.9 247.88,295.5 247.97,294.5 248.05,293.8 248.13,294.5 248.22,294.1 248.30,296.4 248.38,297.7 248.47,295.0 248.55,294.9 248.63,296.7 248.72,297.5 248.80,296.1 248.88,297.3 248.97,299.2 249.05,299.4 249.13,297.6 249.22,294.9 249.30,301.1 249.38,297.7 249.47,296.3 249.55,298.8 249.63,296.5 249.72,299.7 249.80,298.8 249.88,296.8 249.97,297.7 250.05,298.6 250.13,295.0 250.22,294.7 250.30,295.0 250.38,292.9 250.47,296.6 250.55,293.7 250.63,298.2 250.72,298.5 250.80,298.3 250.88,296.8 250.97,297.1 251.05,296.0 251.13,296.2 251.22,297.0 251.30,300.5 251.38,301.0 251.47,298.7 251.55,302.4 251.63,297.3 251.72,300.6 251.80,299.4 251.88,300.9 251.97,294.9 252.05,297.4 252.13,300.0 252.22,298.5 252.30,299.1 252.38,297.4 252.47,300.7 252.55,301.9 252.63,295.7 252.72,298.8 252.80,296.6 252.88,298.9 252.97,300.1 253.05,298.7 253.13,297.8 253.22,297.6 253.30,296.9 253.38,301.8 253.47,302.1 253.55,298.6 253.63,296.7 253.72,298.6 253.80,302.5 253.88,297.6 253.97,301.8 254.05,298.0 254.13,299.6 254.22,299.4 254.30,298.9 254.38,297.3 254.47,300.7 254.55,296.1 254.63,299.5 254.72,299.8 254.80,300.4 254.88,298.9 254.97,299.1 255.05,296.6 255.13,300.2 255.22,300.2 255.30,298.9 255.38,299.6 255.47,298.9 255.55,299.5 255.63,299.8 255.72,299.4 255.80,296.9 255.88,299.6 255.97,299.6 256.05,301.1 256.13,296.3 256.22,299.2 256.30,299.3 256.38,302.1 256.47,301.3 256.55,298.8 256.63,301.4 256.72,299.9 256.80,299.3 256.88,297.8 256.97,301.3 257.05,298.6 257.13,302.9 257.22,296.0 257.30,297.5 257.38,299.5 257.47,301.2 257.55,297.0 257.63,298.9 257.72,296.5 257.80,295.9 257.88,302.9 257.97,298.8 258.05,301.3 258.13,300.7 258.22,295.9 258.30,297.8 258.38,297.9 258.47,300.5 258.55,302.7 258.63,297.3 258.72,299.2 258.80,301.9 258.88,298.9 258.97,296.6 259.05,298.7 259.13,301.4 259.22,296.4 259.30,296.8 259.38,301.0 259.47,297.5 259.55,301.9 259.63,298.6 259.72,302.2 259.80,298.6 259.88,299.6 259.97,300.3 260.05,297.6 260.13,300.3 260.22,299.3 260.30,298.0 260.38,299.3 260.47,297.0 260.55,300.8 260.63,296.9 260.72,298.9 260.80,298.6 260.88,296.6 260.97,301.0 261.05,297.7 261.13,297.5 261.22,299.9 261.30,301.2 261.38,299.2 261.47,301.2 261.55,301.9 261.63,298.3 261.72,298.6 261.80,300.6 261.88,296.0 261.97,296.8 262.05,302.6 262.13,298.8 262.22,301.7 262.30,300.3 262.38,300.4 262.47,300.8 262.55,299.5 262.63,300.9 262.72,298.6 262.80,297.7 262.88,300.4 262.97,297.6 263.05,296.4 263.13,302.6 263.22,302.1 263.30,297.4 263.38,299.9 263.47,297.5 263.55,298.5 263.63,299.2 263.72,299.1 263.80,299.6 263.88,303.3 263.97,301.0 264.05,302.0 264.13,299.3 264.22,298.3 264.30,297.8 264.38,298.0 264.47,299.8 264.55,299.4 264.63,300.1 264.72,300.3 264.80,300.7 264.88,300.7 264.97,297.3 265.05,302.9 265.13,300.4 265.22,301.2 265.30,300.3 265.38,296.4 265.47,302.2 265.55,297.3 265.63,299.3 265.72,301.5 265.80,300.6 265.88,298.5 265.97,300.5 266.05,300.9 266.13,299.1 266.22,300.5 266.30,295.3 266.38,299.2 266.47,299.6 266.55,299.5 266.63,300.5 266.72,300.9 266.80,300.8 266.88,299.7 266.97,298.7 267.05,296.6 267.13,299.8 267.22,299.4 267.30,298.1 267.38,300.9 267.47,299.9 267.55,303.4 267.63,298.8 267.72,296.9 267.80,298.6 267.88,296.9 267.97,295.6 268.05,298.8 268.13,298.2 268.22,300.1 268.30,297.4 268.38,296.0 268.47,300.7 268.55,301.3 268.63,299.2 268.72,300.6 268.80,296.3 268.88,296.0 268.97,297.9 269.05,297.2 269.13,299.4 269.22,301.5 269.30,299.6 269.38,298.3 269.47,300.0 269.55,301.2 269.63,296.4 269.72,298.8 269.80,299.7 269.88,297.8 269.97,300.1 270.05,298.9 270.13,296.1 270.22,297.5 270.30,300.3 270.38,301.0 270.47,300.4 270.55,299.4 270.63,298.6 270.72,298.1 270.80,302.6 270.88,299.1 270.97,296.7 271.05,298.7 271.13,297.3 271.22,296.6 271.30,299.5 271.38,298.4 271.47,295.0 271.55,295.2 271.63,295.3 271.72,294.3 271.80,295.0 271.88,297.3 271.97,295.1 272.05,297.7 272.13,294.6 272.22,297.8 272.30,295.4 272.38,297.0 272.47,301.0 272.55,300.2 272.63,296.5 272.72,300.2 272.80,300.0 272.88,297.5 272.97,298.9 273.05,300.5 273.13,302.1 273.22,301.2 273.30,300.2 273.38,302.9 273.47,295.9 273.55,298.9 273.63,300.4 273.72,295.9 273.80,296.3 273.88,298.9 273.97,300.1 274.05,300.1 274.13,300.2 274.22,298.8 274.30,299.2 274.38,301.4 274.47,301.6 274.55,301.3 274.63,296.3 274.72,301.1 274.80,301.0 274.88,297.4 274.97,297.3 275.05,298.7 275.13,299.5 275.22,302.2 275.30,299.8 275.38,300.3 275.47,301.7 275.55,300.9 275.63,296.6 275.72,301.5 275.80,297.8 275.88,301.7 275.97,298.7 276.05,297.2 276.13,297.0 276.22,300.2 276.30,299.8 276.38,301.2 276.47,299.5 276.55,299.7 276.63,300.1 276.72,297.6 276.80,303.3 276.88,299.9 276.97,299.1 277.05,299.2 277.13,298.2 277.22,299.4 277.30,299.5 277.38,299.5 277.47,298.8 277.55,297.4 277.63,299.3 277.72,299.7 277.80,299.2 277.88,299.2 277.97,301.4 278.05,304.0 278.13,297.8 278.22,298.3 278.30,298.5 278.38,297.5 278.47,299.4 278.55,303.1 278.63,297.6 278.72,298.1 278.80,300.0 278.88,301.5 278.97,298.7 279.05,301.9 279.13,296.0 279.22,299.6 279.30,298.5 279.38,301.9 279.47,301.8 279.55,299.9 279.63,300.8 279.72,302.3 279.80,297.3 279.88,300.0 279.97,301.3 280.05,301.4 280.13,299.8 280.22,300.6 280.30,299.6 280.38,300.3 280.47,301.1 280.55,297.1 280.63,298.5 280.72,300.1 280.80,303.0 280.88,300.1 280.97,302.2 281.05,299.2 281.13,301.5 281.22,301.9 281.30,298.6 281.38,301.6 281.47,297.4 281.55,299.6 281.63,297.9 281.72,299.2 281.80,299.1 281.88,300.3 281.97,299.4 282.05,299.0 282.13,300.6 282.22,299.1 282.30,299.0 282.38,299.3 282.47,299.7 282.55,299.7 282.63,302.2 282.72,301.2 282.80,301.1 282.88,299.1 282.97,300.9 283.05,300.1 283.13,303.1 283.22,303.5 283.30,302.2 283.38,299.6 283.47,299.2 283.55,297.9 283.63,296.9 283.72,298.2 283.80,302.3 283.88,300.3 283.97,301.3 284.05,297.7 284.13,299.6 284.22,297.9 284.30,301.8 284.38,300.6 284.47,300.3 284.55,302.5 284.63,296.7 284.72,302.6 284.80,298.5 284.88,301.1 284.97,298.3 285.05,300.4 285.13,301.2 285.22,298.5 285.30,302.1 285.38,301.7 285.47,300.1 285.55,300.2 285.63,298.3 285.72,299.0 285.80,299.5 285.88,300.4 285.97,299.4 286.05,301.0 286.13,300.2 286.22,301.1 286.30,302.2 286.38,300.7 286.47,302.3 286.55,297.5 286.63,299.7 286.72,302.4 286.80,297.8 286.88,300.0 286.97,299.7 287.05,296.1 287.13,300.2 287.22,298.8 287.30,297.3 287.38,301.4 287.47,303.2 287.55,296.1 287.63,300.9 287.72,301.3 287.80,302.8 287.88,300.1 287.97,298.7 288.05,298.2 288.13,300.3 288.22,298.5 288.30,302.3 288.38,300.4 288.47,298.4 288.55,303.3 288.63,298.1 288.72,298.5 288.80,298.6 288.88,300.9 288.97,299.9 289.05,297.3 289.13,298.1 289.22,302.1 289.30,299.7 289.38,299.8 289.47,296.6 289.55,297.4 289.63,300.6 289.72,300.0 289.80,298.0 289.88,298.0 289.97,300.7 290.05,300.8 290.13,297.1 290.22,302.3 290.30,301.2 290.38,298.2 290.47,300.0 290.55,299.6 290.63,303.4 290.72,297.5 290.80,302.9 290.88,299.7 290.97,299.3 291.05,297.0 291.13,299.7 291.22,296.5 291.30,300.4 291.38,297.5 291.47,299.1 291.55,302.0 291.63,300.0 291.72,298.5 291.80,302.1 291.88,300.5 291.97,300.9 292.05,299.8 292.13,299.1 292.22,301.6 292.30,299.7 292.38,300.8 292.47,299.9 292.55,295.2 292.63,300.0 292.72,301.8 292.80,297.0 292.88,300.4 292.97,301.9 293.05,299.4 293.13,298.4 293.22,300.9 293.30,300.7 293.38,298.7 293.47,295.7 293.55,296.6 293.63,297.3 293.72,302.9 293.80,297.3 293.88,298.1 293.97,298.5 294.05,300.6 294.13,299.2 294.22,298.9 294.30,300.1 294.38,300.2 294.47,297.1 294.55,299.6 294.63,298.5 294.72,297.5 294.80,297.1 294.88,299.1 294.97,303.1 295.05,300.7 295.13,302.6 295.22,297.8 295.30,298.6 295.38,300.9 295.47,300.5 295.55,300.0 295.63,298.9 295.72,301.2 295.80,301.0 295.88,299.1 295.97,301.5 296.05,299.5 296.13,300.7 296.22,298.8 296.30,298.8 296.38,298.9 296.47,296.7 296.55,297.2 296.63,301.3 296.72,299.3 296.80,298.4 296.88,300.9 296.97,300.9 297.05,301.7 297.13,296.3 297.22,295.6 297.30,297.7 297.38,302.6 297.47,296.3 297.55,300.1 297.63,297.5 297.72,299.5 297.80,302.2 297.88,297.3 297.97,302.6 298.05,298.6 298.13,298.4 298.22,300.5 298.30,298.7 298.38,297.7 298.47,300.7 298.55,296.2 298.63,298.0 298.72,297.6 298.80,298.3 298.88,295.6 298.97,295.3 299.05,294.3 299.13,294.5 299.22,294.4 299.30,294.5 299.38,293.9 299.47,294.3 299.55,293.0 299.63,291.9 299.72,292.5 299.80,292.3 299.88,290.4 299.97,294.3 300.05,292.5 300.13,292.2 300.22,292.2 300.30,296.3 300.38,295.8 300.47,294.6 300.55,296.3 300.63,297.0 300.72,296.7 300.80,295.2 300.88,299.3 300.97,296.8 301.05,294.2 301.13,294.8 301.22,296.6 301.30,296.5 301.38,301.2 301.47,300.3 301.55,298.9 301.63,299.3 301.72,296.6 301.80,296.4 301.88,298.4 301.97,297.4 302.05,297.9 302.13,296.5 302.22,301.1 302.30,296.8 302.38,297.7 302.47,300.3 302.55,298.8 302.63,301.7 302.72,301.2 302.80,301.8 302.88,298.0 302.97,299.1 303.05,299.1 303.13,298.1 303.22,299.5 303.30,298.7 303.38,301.3 303.47,299.8 303.55,296.8 303.63,298.9 303.72,295.4 303.80,298.4 303.88,298.0 303.97,300.5 304.05,298.3 304.13,299.1 304.22,297.7 304.30,300.3 304.38,298.3 304.47,297.1 304.55,300.0 304.63,296.6 304.72,298.2 304.80,303.3 304.88,298.8 304.97,295.4 305.05,298.4 305.13,297.3 305.22,300.4 305.30,303.0 305.38,302.5 305.47,300.3 305.55,300.6 305.63,295.2 305.72,300.3 305.80,299.3 305.88,300.3 305.97,299.3 306.05,297.8 306.13,303.0 306.22,298.1 306.30,302.4 306.38,298.5 306.47,298.9 306.55,299.5 306.63,297.5 306.72,301.4 306.80,301.0 306.88,301.6 306.97,295.9 307.05,299.3 307.13,300.3 307.22,296.9 307.30,296.7 307.38,297.4 307.47,295.9 307.55,297.4 307.63,297.4 307.72,299.7 307.80,299.1 307.88,297.1 307.97,299.0 308.05,298.1 308.13,300.4 308.22,298.7 308.30,296.7 308.38,298.5 308.47,298.4 308.55,298.2 308.63,299.0 308.72,296.2 308.80,301.1 308.88,299.9 308.97,299.5 309.05,297.2 309.13,298.2 309.22,297.6 309.30,298.2 309.38,299.9 309.47,300.1 309.55,301.4 309.63,300.0 309.72,299.0 309.80,299.6 309.88,298.8 309.97,298.0 310.05,300.7 310.13,297.1 310.22,301.5 310.30,298.8 310.38,296.5 310.47,299.2 310.55,300.1 310.63,300.8 310.72,297.2 310.80,300.4 310.88,299.5 310.97,299.6 311.05,302.1 311.13,298.6 311.22,300.0 311.30,296.1 311.38,302.6 311.47,298.7 311.55,301.5 311.63,299.5 311.72,299.2 311.80,300.0 311.88,299.8 311.97,297.6 312.05,299.2 312.13,298.1 312.22,296.1 312.30,296.3 312.38,296.7 312.47,300.7 312.55,301.0 312.63,302.3 312.72,296.9 312.80,301.3 312.88,297.8 312.97,299.0 313.05,298.0 313.13,300.7 313.22,297.0 313.30,300.4 313.38,295.8 313.47,301.5 313.55,301.5 313.63,296.2 313.72,301.4 313.80,298.7 313.88,299.8 313.97,300.2 314.05,297.7 314.13,299.0 314.22,301.7 314.30,297.2 314.38,300.5 314.47,297.4 314.55,296.9 314.63,302.3 314.72,296.7 314.80,299.5 314.88,299.6 314.97,298.7 315.05,300.5 315.13,302.8 315.22,298.4 315.30,301.1 315.38,301.0 315.47,298.2 315.55,299.5 315.63,297.2 315.72,298.2 315.80,299.2 315.88,299.4 315.97,299.6 316.05,299.0 316.13,300.0 316.22,301.0 316.30,299.3 316.38,300.4 316.47,298.4 316.55,298.7 316.63,296.3 316.72,302.5 316.80,297.1 316.88,300.1 316.97,300.5 317.05,298.2 317.13,299.3 317.22,301.0 317.30,300.2 317.38,299.0 317.47,301.1 317.55,302.6 317.63,299.8 317.72,299.3 317.80,298.6 317.88,303.2 317.97,301.3 318.05,296.5 318.13,301.1 318.22,300.2 318.30,300.4 318.38,297.3 318.47,302.9 318.55,299.9 318.63,298.2 318.72,298.0 318.80,296.6 318.88,299.0 318.97,297.8 319.05,296.7 319.13,296.5 319.22,300.4 319.30,299.9 319.38,301.9 319.47,298.7 319.55,298.9 319.63,299.3 319.72,298.3 319.80,300.6 319.88,301.0 319.97,301.5 320.05,296.7 320.13,298.8 320.22,297.7 320.30,297.8 320.38,295.9 320.47,296.2 320.55,300.9 320.63,302.9 320.72,298.9 320.80,299.3 320.88,298.6 320.97,301.8 321.05,298.7 321.13,299.3 321.22,298.7 321.30,299.9 321.38,302.1 321.47,300.0 321.55,298.9 321.63,301.7 321.72,301.1 321.80,300.6 321.88,298.4 321.97,296.5 322.05,300.0 322.13,296.5 322.22,299.6 322.30,300.4 322.38,301.3 322.47,301.4 322.55,297.9 322.63,299.8 322.72,300.6 322.80,297.2 322.88,302.5 322.97,300.5 323.05,300.7 323.13,301.0 323.22,298.3 323.30,299.6 323.38,301.9 323.47,301.4 323.55,299.5 323.63,297.6 323.72,301.8 323.80,301.5 323.88,298.2 323.97,301.0 324.05,299.3 324.13,299.5 324.22,297.0 324.30,299.1 324.38,297.4 324.47,301.4 324.55,300.5 324.63,296.7 324.72,298.6 324.80,299.0 324.88,297.6 324.97,301.7 325.05,300.4 325.13,301.5 325.22,297.2 325.30,297.3 325.38,295.5 325.47,296.7 325.55,300.6 325.63,300.3 325.72,302.1 325.80,295.4 325.88,299.6 325.97,300.2 326.05,300.4 326.13,298.0 326.22,299.7 326.30,297.8 326.38,300.1 326.47,301.1 326.55,298.1 326.63,302.0 326.72,298.8 326.80,302.4 326.88,302.5 326.97,300.3 327.05,301.1 327.13,297.8 327.22,299.3 327.30,302.2 327.38,299.4 327.47,299.4 327.55,297.1 327.63,298.5 327.72,303.3 327.80,298.7 327.88,298.9 327.97,297.1 328.05,296.5 328.13,300.2 328.22,302.6 328.30,301.6 328.38,300.3 328.47,301.7 328.55,300.4 328.63,299.5 328.72,299.7 328.80,298.5 328.88,298.0 328.97,300.0 329.05,298.5 329.13,298.7 329.22,295.5 329.30,297.8 329.38,301.8 329.47,298.3 329.55,299.1 329.63,300.6 329.72,300.4 329.80,299.0 329.88,296.0 329.97,297.1 330.05,300.1 330.13,298.3 330.22,299.6 330.30,300.6 330.38,300.1 330.47,300.2 330.55,299.4 330.63,299.4 330.72,302.0 330.80,299.5 330.88,297.6 330.97,302.2 331.05,298.8 331.13,297.5 331.22,297.8 331.30,301.5 331.38,303.3 331.47,299.7 331.55,303.5 331.63,299.4 331.72,298.7 331.80,300.8 331.88,301.3 331.97,298.8 332.05,299.6 332.13,300.4 332.22,301.7 332.30,297.9 332.38,298.9 332.47,300.1 332.55,298.6 332.63,299.0 332.72,299.7 332.80,303.2 332.88,299.8 332.97,298.8 333.05,297.8 333.13,298.7 333.22,299.6 333.30,300.9 333.38,300.5 333.47,301.5 333.55,299.9 333.63,296.7 333.72,300.5 333.80,298.9 333.88,301.1 333.97,298.6 334.05,299.7 334.13,300.8 334.22,301.6 334.30,302.8 334.38,297.7 334.47,301.8 334.55,297.3 334.63,300.8 334.72,302.1 334.80,299.9 334.88,298.4 334.97,302.2 335.05,300.8 335.13,296.0 335.22,301.9 335.30,298.2 335.38,301.7 335.47,297.2 335.55,300.1 335.63,297.0 335.72,299.2 335.80,300.4 335.88,300.6 335.97,301.1 336.05,297.9 336.13,301.5 336.22,300.5 336.30,298.9 336.38,297.1 336.47,303.4 336.55,301.4 336.63,301.2 336.72,297.1 336.80,299.2 336.88,298.4 336.97,302.1 337.05,297.6 337.13,297.2 337.22,296.5 337.30,298.8 337.38,300.2 337.47,296.6 337.55,299.5 337.63,300.8 337.72,298.7 337.80,303.5 337.88,300.1 337.97,298.9 338.05,303.5 338.13,299.5 338.22,297.3 338.30,302.2 338.38,302.6 338.47,299.8 338.55,297.6 338.63,299.8 338.72,300.8 338.80,297.1 338.88,299.4 338.97,299.4 339.05,298.3 339.13,298.6 339.22,298.7 339.30,295.3 339.38,296.6 339.47,300.8 339.55,301.9 339.63,296.0 339.72,297.3 339.80,300.0 339.88,298.2 339.97,299.2 340.05,297.8 340.13,297.2 340.22,300.7 340.30,298.5 340.38,299.9 340.47,297.1 340.55,295.2 340.63,300.0 340.72,297.5 340.80,296.3 340.88,296.9 340.97,295.2 341.05,296.1 341.13,293.9 341.22,297.7 341.30,296.0 341.38,295.4 341.47,296.6 341.55,296.7 341.63,293.3 341.72,296.1 341.80,296.2 341.88,294.5 341.97,296.8 342.05,296.7 342.13,297.3 342.22,298.9 342.30,296.0 342.38,293.8 342.47,296.9 342.55,296.6 342.63,300.1 342.72,298.3 342.80,296.6 342.88,299.0 342.97,300.5 343.05,298.5 343.13,297.6 343.22,297.6 343.30,296.5 343.38,297.0 343.47,298.6 343.55,296.5 343.63,296.6 343.72,296.9 343.80,298.4 343.88,295.5 343.97,294.8 344.05,296.4 344.13,293.6 344.22,293.2 344.30,292.8 344.38,294.2 344.47,292.1 344.55,293.1 344.63,295.1 344.72,292.5 344.80,294.3 344.88,295.2 344.97,296.3 345.05,295.1 345.13,295.1 345.22,298.6 345.30,295.9 345.38,297.4 345.47,298.5 345.55,298.5 345.63,295.3 345.72,298.4 345.80,300.4 345.88,297.2 345.97,299.3 346.05,297.9 346.13,300.2 346.22,302.4 346.30,300.0 346.38,301.6 346.47,298.4 346.55,300.5 346.63,299.8 346.72,301.8 346.80,301.6 346.88,300.2 346.97,298.1 347.05,298.7 347.13,301.3 347.22,301.9 347.30,302.3 347.38,299.7 347.47,299.9 347.55,301.9 347.63,300.7 347.72,299.2 347.80,301.5 347.88,300.8 347.97,302.6 348.05,302.0 348.13,297.2 348.22,300.3 348.30,297.9 348.38,297.2 348.47,300.0 348.55,300.3 348.63,302.0 348.72,301.1 348.80,301.7 348.88,297.8 348.97,298.4 349.05,302.9 349.13,301.2 349.22,303.3 349.30,301.0 349.38,298.6 349.47,301.2 349.55,300.0 349.63,297.7 349.72,298.4 349.80,303.0 349.88,298.3 349.97,299.0 350.05,304.2 350.13,302.4 350.22,300.6 350.30,299.8 350.38,296.7 350.47,302.4 350.55,299.3 350.63,302.3 350.72,302.3 350.80,300.1 350.88,299.6 350.97,303.8 351.05,303.5 351.13,298.9 351.22,302.9 351.30,298.4 351.38,302.4 351.47,300.8 351.55,300.6 351.63,300.3 351.72,302.3 351.80,299.0 351.88,301.1 351.97,301.2 352.05,301.3 352.13,299.6 352.22,303.2 352.30,299.3 352.38,301.3 352.47,297.7 352.55,302.8 352.63,302.7 352.72,298.4 352.80,300.4 352.88,301.3 352.97,300.6"/>
<polyline points="402.60,278.9 402.68,286.6 402.77,284.4 402.85,279.5 402.93,278.9 403.02,285.0 403.10,282.2 403.18,278.2 403.27,286.8 403.35,290.3 403.43,280.8 403.52,285.5 403.60,281.3 403.68,287.2 403.77,281.8 403.85,286.1 403.93,281.5 404.02,285.9 404.10,281.4 404.18,286.7 404.27,283.8 404.35,291.2 404.43,285.9 404.52,290.6 404.60,285.9 404.68,291.6 404.77,286.2 404.85,289.8 404.93,283.5 405.02,283.0 405.10,289.9 405.18,290.5 405.27,285.5 405.35,285.9 405.43,286.3 405.52,290.0 405.60,285.4 405.68,288.8 405.77,283.3 405.85,287.2 405.93,287.2 406.02,284.8 406.10,284.0 406.18,288.2 406.27,292.5 406.35,286.6 406.43,285.9 406.52,290.1 406.60,286.7 406.68,287.7 406.77,291.5 406.85,288.9 406.93,289.0 407.02,293.6 407.10,291.8 407.18,287.8 407.27,291.2 407.35,292.1 407.43,290.6 407.52,284.0 407.60,287.4 407.68,287.7 407.77,287.2 407.85,286.2 407.93,289.4 408.02,290.8 408.10,290.1 408.18,290.8 408.27,289.7 408.35,287.4 408.43,289.6 408.52,292.6 408.60,294.0 408.68,294.2 408.77,289.1 408.85,289.9 408.93,287.7 409.02,288.9 409.10,289.7 409.18,286.4 409.27,285.5 409.35,292.5 409.43,289.5 409.52,290.9 409.60,287.9 409.68,292.8 409.77,292.0 409.85,293.3 409.93,290.8 410.02,289.8 410.10,286.5 410.18,289.3 410.27,284.2 410.35,291.1 410.43,286.1 410.52,290.4 410.60,288.5 410.68,292.2 410.77,290.9 410.85,289.3 410.93,295.0 411.02,289.5 411.10,291.6 411.18,286.4 411.27,288.5 411.35,286.3 411.43,286.1 411.52,289.3 411.60,294.8 411.68,293.3 411.77,285.1 411.85,289.8 411.93,290.2 412.02,295.3 412.10,293.7 412.18,290.9 412.27,292.4 412.35,292.3 412.43,293.6 412.52,292.4 412.60,287.3 412.68,296.6 412.77,286.1 412.85,289.8 412.93,290.7 413.02,286.8 413.10,288.7 413.18,294.7 413.27,296.2 413.35,294.7 413.43,288.9 413.52,291.8 413.60,289.2 413.68,294.5 413.77,293.5 413.85,288.9 413.93,291.4 414.02,293.3 414.10,292.7 414.18,290.3 414.27,290.9 414.35,293.0 414.43,290.4 414.52,294.6 414.60,292.8 414.68,295.0 414.77,292.0 414.85,291.0 414.93,296.2 415.02,293.4 415.10,294.1 415.18,296.4 415.27,295.2 415.35,295.6 415.43,294.6 415.52,295.1 415.60,297.1 415.68,292.5 415.77,291.9 415.85,293.1 415.93,288.7 416.02,295.4 416.10,297.6 416.18,296.5 416.27,293.7 416.35,289.2 416.43,296.9 416.52,296.6 416.60,291.0 416.68,295.9 416.77,298.3 416.85,291.9 416.93,292.2 417.02,290.2 417.10,294.8 417.18,294.6 417.27,290.3 417.35,292.0 417.43,293.6 417.52,296.2 417.60,293.6 417.68,297.6 417.77,296.4 417.85,295.4 417.93,297.5 418.02,296.5 418.10,292.9 418.18,293.4 418.27,294.7 418.35,293.6 418.43,296.4 418.52,292.3 418.60,296.9 418.68,296.4 418.77,296.4 418.85,298.1 418.93,294.7 419.02,299.1 419.10,294.1 419.18,298.1 419.27,293.1 419.35,292.4 419.43,297.7 419.52,298.7 419.60,296.0 419.68,295.3 419.77,302.1 419.85,298.6 419.93,300.2 420.02,295.8 420.10,301.1 420.18,295.7 420.27,300.1 420.35,297.1 420.43,302.5 420.52,300.2 420.60,299.0 420.68,293.4 420.77,299.8 420.85,292.1 420.93,293.8 421.02,296.6 421.10,292.7 421.18,296.9 421.27,298.9 421.35,296.6 421.43,296.8 421.52,295.9 421.60,295.7 421.68,299.1 421.77,300.1 421.85,300.0 421.93,295.5 422.02,298.9 422.10,297.0 422.18,298.4 422.27,299.2 422.35,297.0 422.43,294.6 422.52,301.1 422.60,297.9 422.68,296.6 422.77,298.3 422.85,295.7 422.93,294.6 423.02,297.2 423.10,296.7 423.18,301.5 423.27,298.5 423.35,297.0 423.43,299.8 423.52,301.3 423.60,292.6 423.68,299.7 423.77,296.6 423.85,300.9 423.93,297.1 424.02,302.9 424.10,300.5 424.18,296.6 424.27,297.5 424.35,303.6 424.43,300.1 424.52,300.2 424.60,298.1 424.68,297.3 424.77,299.7 424.85,301.8 424.93,299.0 425.02,299.8 425.10,300.0 425.18,299.6 425.27,300.7 425.35,300.4 425.43,298.0 425.52,303.1 425.60,299.7 425.68,293.8 425.77,297.7 425.85,299.5 425.93,297.5 426.02,297.8 426.10,301.8 426.18,296.5 426.27,297.9 426.35,297.3 426.43,300.7 426.52,301.1 426.60,298.7 426.68,303.4 426.77,298.8 426.85,298.8 426.93,296.2 427.02,295.1 427.10,296.2 427.18,296.3 427.27,294.8 427.35,296.4 427.43,301.2 427.52,303.6 427.60,303.2 427.68,295.3 427.77,298.1 427.85,299.2 427.93,295.3 428.02,293.4 428.10,298.9 428.18,300.8 428.27,300.8 428.35,304.3 428.43,299.0 428.52,296.8 428.60,298.9 428.68,302.3 428.77,295.5 428.85,302.3 428.93,295.7 429.02,301.4 429.10,299.6 429.18,303.9 429.27,296.5 429.35,300.7 429.43,300.0 429.52,302.8 429.60,300.8 429.68,301.2 429.77,297.4 429.85,296.5 429.93,300.2 430.02,301.4 430.10,297.1 430.18,300.1 430.27,298.2 430.35,302.6 430.43,304.2 430.52,300.7 430.60,297.1 430.68,302.7 430.77,302.1 430.85,298.4 430.93,301.7 431.02,299.6 431.10,300.7 431.18,301.7 431.27,296.3 431.35,303.8 431.43,296.0 431.52,298.9 431.60,301.0 431.68,301.1 431.77,304.2 431.85,300.1 431.93,302.5 432.02,298.7 432.10,298.3 432.18,304.9 432.27,301.4 432.35,297.2 432.43,301.8 432.52,301.1 432.60,300.1 432.68,299.9 432.77,300.1 432.85,302.8 432.93,301.5 433.02,294.8 433.10,299.1 433.18,302.1 433.27,296.5 433.35,298.6 433.43,296.9 433.52,301.4 433.60,303.4 433.68,299.5 433.77,296.9 433.85,301.7 433.93,298.6 434.02,301.7 434.10,306.1 434.18,299.0 434.27,302.7 434.35,296.9 434.43,300.6 434.52,299.7 434.60,298.8 434.68,299.8 434.77,295.3 434.85,303.3 434.93,296.6 435.02,300.5 435.10,301.6 435.18,305.2 435.27,296.6 435.35,296.8 435.43,300.5 435.52,297.9 435.60,302.2 435.68,297.9 435.77,299.5 435.85,299.0 435.93,305.0 436.02,298.6 436.10,301.1 436.18,300.5 436.27,296.8 436.35,297.8 436.43,298.6 436.52,301.8 436.60,299.3 436.68,302.2 436.77,302.0 436.85,300.8 436.93,296.2 437.02,298.8 437.10,302.9 437.18,297.3 437.27,300.2 437.35,301.7 437.43,299.0 437.52,297.8 437.60,303.6 437.68,299.9 437.77,298.6 437.85,295.4 437.93,299.7 438.02,295.8 438.10,297.5 438.18,302.8 438.27,296.3 438.35,298.8 438.43,300.4 438.52,300.2 438.60,299.2 438.68,298.7 438.77,298.3 438.85,297.9 438.93,301.1 439.02,302.4 439.10,300.6 439.18,300.3 439.27,297.3 439.35,295.6 439.43,299.6 439.52,299.4 439.60,300.8 439.68,299.3 439.77,299.0 439.85,303.6 439.93,297.6 440.02,301.5 440.10,301.1 440.18,302.6 440.27,300.5 440.35,301.0 440.43,298.6 440.52,300.5 440.60,303.7 440.68,298.0 440.77,299.8 440.85,297.2 440.93,300.8 441.02,297.1 441.10,301.5 441.18,305.2 441.27,297.6 441.35,296.1 441.43,301.7 441.52,303.8 441.60,297.8 441.68,302.6 441.77,300.1 441.85,299.3 441.93,298.8 442.02,298.3 442.10,300.8 442.18,301.3 442.27,303.5 442.35,301.5 442.43,302.4 442.52,301.0 442.60,297.3 442.68,300.5 442.77,300.9 442.85,299.3 442.93,293.7 443.02,295.4 443.10,299.0 443.18,298.4 443.27,295.7 443.35,300.2 443.43,299.1 443.52,295.3 443.60,293.8 443.68,298.7 443.77,302.2 443.85,299.1 443.93,298.8 444.02,301.2 444.10,298.2 444.18,304.1 444.27,297.1 444.35,299.5 444.43,297.6 444.52,299.5 444.60,300.0 444.68,302.1 444.77,301.9 444.85,296.0 444.93,299.3 445.02,296.7 445.10,296.5 445.18,296.9 445.27,297.5 445.35,296.8 445.43,298.7 445.52,302.3 445.60,298.1 445.68,297.5 445.77,304.7 445.85,295.3 445.93,296.1 446.02,303.0 446.10,296.9 446.18,296.6 446.27,296.6 446.35,298.1 446.43,295.6 446.52,300.2 446.60,300.6 446.68,299.1 446.77,299.6 446.85,304.6 446.93,298.2 447.02,300.7 447.10,300.3 447.18,303.6 447.27,302.1 447.35,302.7 447.43,299.3 447.52,297.3 447.60,301.5 447.68,301.9 447.77,298.7 447.85,298.2 447.93,302.6 448.02,297.5 448.10,302.9 448.18,301.7 448.27,299.3 448.35,300.4 448.43,305.0 448.52,304.4 448.60,302.2 448.68,299.6 448.77,302.7 448.85,298.5 448.93,301.8 449.02,301.3 449.10,305.5 449.18,301.6 449.27,296.0 449.35,300.5 449.43,302.8 449.52,301.2 449.60,300.5 449.68,302.5 449.77,300.3 449.85,302.0 449.93,300.6 450.02,304.0 450.10,305.7 450.18,302.7 450.27,307.9 450.35,298.1 450.43,306.6 450.52,306.5 450.60,300.0 450.68,305.8 450.77,302.2 450.85,307.9 450.93,305.5 451.02,300.9 451.10,303.0 451.18,298.2 451.27,298.9 451.35,303.8 451.43,307.4 451.52,309.4 451.60,302.0 451.68,305.3 451.77,298.4 451.85,305.0 451.93,300.6 452.02,301.8 452.10,305.0 452.18,302.0 452.27,306.1 452.35,304.1 452.43,301.6 452.52,300.6 452.60,303.0 452.68,310.0 452.77,301.8 452.85,307.1 452.93,302.4 453.02,305.3 453.10,303.8 453.18,302.7 453.27,306.5 453.35,299.5 453.43,305.0 453.52,306.9 453.60,304.9 453.68,306.3 453.77,305.6 453.85,300.4 453.93,307.5 454.02,304.8 454.10,305.2 454.18,306.8 454.27,304.3 454.35,303.9 454.43,309.2 454.52,303.4 454.60,301.9 454.68,309.4 454.77,305.2 454.85,302.5 454.93,302.3 455.02,302.7 455.10,307.7 455.18,305.9 455.27,304.1 455.35,304.2 455.43,307.3 455.52,308.6 455.60,303.0 455.68,299.9 455.77,311.0 455.85,306.2 455.93,308.2 456.02,303.8 456.10,306.9 456.18,301.4 456.27,301.0 456.35,303.2 456.43,310.1 456.52,309.4 456.60,304.4 456.68,306.9 456.77,301.6 456.85,305.5 456.93,309.5 457.02,305.0 457.10,310.1 457.18,305.4 457.27,303.5 457.35,307.0 457.43,307.1 457.52,306.8 457.60,310.2 457.68,307.5 457.77,307.8 457.85,303.3 457.93,308.6 458.02,309.8 458.10,301.1 458.18,309.2 458.27,304.9 458.35,301.6 458.43,305.3 458.52,305.2 458.60,305.8 458.68,307.1 458.77,306.7 458.85,307.1 458.93,305.9 459.02,305.8 459.10,302.2 459.18,303.8 459.27,305.1 459.35,308.7 459.43,307.8 459.52,306.8 459.60,308.1 459.68,303.9 459.77,305.9 459.85,302.5 459.93,309.1 460.02,308.5 460.10,302.9 460.18,309.1 460.27,307.3 460.35,303.8 460.43,302.8 460.52,304.7 460.60,302.6 460.68,305.1 460.77,307.2 460.85,310.8 460.93,307.4 461.02,304.7 461.10,306.4 461.18,306.3 461.27,308.9 461.35,302.9 461.43,302.7 461.52,307.8 461.60,305.8 461.68,306.3 461.77,307.4 461.85,304.5 461.93,303.0 462.02,309.4 462.10,306.5 462.18,305.8 462.27,307.1 462.35,310.0 462.43,305.6 462.52,307.8 462.60,302.5 462.68,305.3 462.77,305.6 462.85,304.0 462.93,306.2 463.02,307.5 463.10,302.3 463.18,309.6 463.27,306.2 463.35,307.4 463.43,308.4 463.52,305.7 463.60,309.5 463.68,309.9 463.77,303.6 463.85,306.8 463.93,304.3 464.02,308.4 464.10,301.1 464.18,311.1 464.27,304.0 464.35,309.9 464.43,300.7 464.52,305.8 464.60,306.8 464.68,304.5 464.77,302.2 464.85,303.2 464.93,307.3 465.02,304.6 465.10,304.0 465.18,306.4 465.27,302.2 465.35,307.2 465.43,304.8 465.52,304.4 465.60,309.7 465.68,304.0 465.77,309.9 465.85,303.3 465.93,310.0 466.02,310.7 466.10,306.2 466.18,307.8 466.27,304.1 466.35,306.4 466.43,308.6 466.52,302.4 466.60,310.9 466.68,302.8 466.77,309.5 466.85,305.9 466.93,310.1 467.02,304.0 467.10,304.3 467.18,303.0 467.27,306.8 467.35,308.1 467.43,302.7 467.52,309.2 467.60,307.1 467.68,307.1 467.77,308.8 467.85,303.1 467.93,305.4 468.02,307.4 468.10,307.9 468.18,307.4 468.27,303.4 468.35,305.1 468.43,307.4 468.52,310.4 468.60,309.1 468.68,308.4 468.77,306.8 468.85,309.1 468.93,307.4 469.02,308.2 469.10,307.8 469.18,306.8 469.27,308.9 469.35,307.2 469.43,302.4 469.52,307.4 469.60,310.4 469.68,306.7 469.77,306.6 469.85,302.5 469.93,305.2 470.02,303.4 470.10,305.4 470.18,306.8 470.27,303.6 470.35,303.8 470.43,310.0 470.52,306.6 470.60,304.5 470.68,309.6 470.77,304.9 470.85,302.3 470.93,310.2 471.02,306.6 471.10,309.9 471.18,308.4 471.27,311.8 471.35,311.7 471.43,309.3 471.52,303.0 471.60,309.0 471.68,309.8 471.77,308.1 471.85,310.3 471.93,306.1 472.02,306.0 472.10,309.7 472.18,303.8 472.27,311.0 472.35,306.3 472.43,308.0 472.52,305.6 472.60,305.6 472.68,307.4 472.77,307.9 472.85,302.9 472.93,304.0 473.02,304.6 473.10,303.6 473.18,311.5 473.27,301.4 473.35,311.0 473.43,301.6 473.52,303.3 473.60,305.1 473.68,310.3 473.77,305.1 473.85,302.2 473.93,308.4 474.02,308.1 474.10,303.3 474.18,308.7 474.27,304.2 474.35,309.4 474.43,308.2 474.52,305.8 474.60,304.2 474.68,309.2 474.77,302.0 474.85,303.5 474.93,303.0 475.02,307.4 475.10,309.7 475.18,307.6 475.27,307.3 475.35,307.7 475.43,312.6 475.52,302.7 475.60,307.8 475.68,302.5 475.77,310.9 475.85,307.4 475.93,310.3 476.02,304.9 476.10,305.6 476.18,311.2 476.27,307.1 476.35,305.3 476.43,304.1 476.52,307.3 476.60,308.0 476.68,309.8 476.77,304.7 476.85,305.3 476.93,304.5 477.02,310.1 477.10,304.4 477.18,308.7 477.27,308.4 477.35,307.1 477.43,311.0 477.52,303.6 477.60,305.8 477.68,307.7 477.77,307.0 477.85,305.0 477.93,307.9 478.02,307.5 478.10,301.3 478.18,307.4 478.27,303.2 478.35,308.8 478.43,310.7 478.52,301.0 478.60,308.5 478.68,303.4 478.77,305.7 478.85,309.7 478.93,307.3 479.02,308.0 479.10,305.7 479.18,307.9 479.27,304.6 479.35,306.6 479.43,306.6 479.52,307.5 479.60,307.1 479.68,305.7 479.77,307.5 479.85,309.6 479.93,307.8 480.02,305.2 480.10,304.9 480.18,304.4 480.27,308.8 480.35,304.6 480.43,305.1 480.52,304.8 480.60,298.7 480.68,296.5 480.77,293.4 480.85,290.9 480.93,286.6 481.02,283.0 481.10,279.2 481.18,275.7 481.27,273.0 481.35,271.3 481.43,271.3 481.52,272.4 481.60,274.6 481.68,278.3 481.77,281.9 481.85,286.5 481.93,290.9 482.02,294.4 482.10,296.5 482.18,298.4 482.27,299.9 482.35,300.0 482.43,305.2 482.52,303.2 482.60,303.8 482.68,308.4 482.77,303.9 482.85,302.9 482.93,300.3 483.02,305.4 483.10,303.6 483.18,300.1 483.27,301.5 483.35,309.1 483.43,301.8 483.52,304.0 483.60,301.4 483.68,308.0 483.77,304.6 483.85,303.4 483.93,301.9 484.02,308.7 484.10,304.4 484.18,305.9 484.27,309.2 484.35,303.9 484.43,310.3 484.52,309.0 484.60,308.1 484.68,300.4 484.77,305.2 484.85,300.6 484.93,308.7 485.02,303.4 485.10,300.9 485.18,310.6 485.27,305.2 485.35,303.2 485.43,303.7 485.52,305.6 485.60,303.5 485.68,302.4 485.77,303.4 485.85,304.6 485.93,307.2 486.02,302.9 486.10,304.4 486.18,301.9 486.27,307.9 486.35,302.1 486.43,302.6 486.52,302.3 486.60,302.1 486.68,300.9 486.77,299.9 486.85,306.4 486.93,299.9 487.02,299.2 487.10,297.4 487.18,303.7 487.27,298.0 487.35,302.3 487.43,300.4 487.52,299.8 487.60,302.6 487.68,304.5 487.77,305.8 487.85,300.7 487.93,298.5 488.02,299.8 488.10,305.6 488.18,301.7 488.27,296.8 488.35,295.6 488.43,303.0 488.52,294.5 488.60,298.7 488.68,296.6 488.77,300.4 488.85,299.6 488.93,296.0 489.02,297.7 489.10,298.0 489.18,297.6 489.27,298.4 489.35,295.6 489.43,293.5 489.52,295.2 489.60,296.3 489.68,296.6 489.77,296.5 489.85,293.9 489.93,298.7 490.02,292.7 490.10,293.0 490.18,292.8 490.27,296.7 490.35,293.4 490.43,289.4 490.52,291.8 490.60,296.6 490.68,296.0 490.77,296.6 490.85,296.6 490.93,293.3 491.02,292.2 491.10,290.4 491.18,292.7 491.27,292.5 491.35,293.0 491.43,295.2 491.52,295.0 491.60,295.2 491.68,294.6 491.77,294.2 491.85,295.0 491.93,291.7 492.02,295.0 492.10,292.6 492.18,293.1 492.27,291.4 492.35,290.5 492.43,290.2 492.52,286.9 492.60,288.5 492.68,285.4 492.77,285.2 492.85,284.7 492.93,284.6 493.02,284.9 493.10,286.1 493.18,287.6 493.27,288.0 493.35,292.3 493.43,293.8 493.52,294.8 493.60,292.5 493.68,292.9 493.77,297.2 493.85,293.7 493.93,298.1 494.02,296.4 494.10,296.0 494.18,295.8 494.27,298.4 494.35,299.5 494.43,296.3 494.52,297.5 494.60,300.7 494.68,300.8 494.77,301.1 494.85,298.7 494.93,302.8 495.02,295.8 495.10,303.0 495.18,297.8 495.27,294.8 495.35,294.3 495.43,296.1 495.52,292.5 495.60,287.9 495.68,284.5 495.77,280.1 495.85,275.9 495.93,270.8 496.02,265.7 496.10,261.5 496.18,258.4 496.27,257.0 496.35,257.3 496.43,259.2 496.52,262.4 496.60,266.9 496.68,272.1 496.77,277.1 496.85,281.4 496.93,285.6 497.02,290.5 497.10,292.0 497.18,295.9 497.27,299.6 497.35,301.8 497.43,299.0 497.52,300.7 497.60,298.6 497.68,298.2 497.77,299.6 497.85,301.1 497.93,296.9 498.02,299.5 498.10,301.2 498.18,299.8 498.27,298.4 498.35,299.1 498.43,302.4 498.52,305.5 498.60,301.1 498.68,306.4 498.77,301.0 498.85,296.9 498.93,302.1 499.02,306.1 499.10,300.2 499.18,302.5 499.27,298.4 499.35,303.5 499.43,305.5 499.52,305.5 499.60,301.2 499.68,301.1 499.77,304.3 499.85,305.6 499.93,303.3 500.02,301.5 500.10,300.9 500.18,305.0 500.27,301.4 500.35,302.2 500.43,302.8 500.52,299.7 500.60,304.8 500.68,302.3 500.77,300.2 500.85,307.6 500.93,302.0 501.02,309.9 501.10,301.3 501.18,301.1 501.27,301.8 501.35,301.5 501.43,299.5 501.52,305.1 501.60,304.5 501.68,305.0 501.77,303.5 501.85,300.7 501.93,304.7 502.02,301.3 502.10,300.7 502.18,296.8 502.27,304.7 502.35,304.9 502.43,304.7 502.52,307.6 502.60,307.9 502.68,305.6 502.77,304.0 502.85,302.0 502.93,306.6 503.02,305.7 503.10,301.9 503.18,303.8 503.27,300.8 503.35,306.9 503.43,301.8 503.52,301.3 503.60,302.9 503.68,304.8 503.77,302.5 503.85,303.1 503.93,302.5 504.02,304.1 504.10,301.9 504.18,303.6 504.27,302.5 504.35,300.5 504.43,302.8 504.52,301.1 504.60,303.0 504.68,299.2 504.77,305.1 504.85,301.9 504.93,300.5 505.02,302.9 505.10,303.4 505.18,303.7 505.27,306.1 505.35,300.4 505.43,306.8 505.52,303.5 505.60,305.4 505.68,300.2 505.77,307.8 505.85,305.2 505.93,306.2 506.02,305.8 506.10,306.8 506.18,302.6 506.27,307.0 506.35,303.2 506.43,301.9 506.52,303.9 506.60,301.7 506.68,298.0 506.77,306.5 506.85,301.0 506.93,302.2 507.02,303.4 507.10,307.3 507.18,299.0 507.27,301.1 507.35,305.9 507.43,302.4 507.52,307.2 507.60,304.3 507.68,305.8 507.77,303.0 507.85,297.9 507.93,303.5 508.02,301.1 508.10,302.2 508.18,303.1 508.27,301.5 508.35,301.7 508.43,306.0 508.52,305.1 508.60,305.3 508.68,303.0 508.77,303.5 508.85,304.8 508.93,299.5 509.02,298.0 509.10,305.4 509.18,301.9 509.27,307.1 509.35,304.2 509.43,299.0 509.52,303.8 509.60,303.9 509.68,302.6 509.77,300.8 509.85,307.0 509.93,301.5 510.02,302.1 510.10,301.9 510.18,307.2 510.27,307.5 510.35,299.4 510.43,306.7 510.52,304.4 510.60,307.3 510.68,304.2 510.77,306.5 510.85,304.9 510.93,302.9 511.02,301.7 511.10,302.7 511.18,305.7 511.27,305.2 511.35,300.7 511.43,300.9 511.52,301.5 511.60,300.6 511.68,304.8 511.77,303.9 511.85,306.6 511.93,300.9 512.02,308.1 512.10,300.8 512.18,303.2 512.27,306.3 512.35,301.1 512.43,305.0 512.52,301.5 512.60,304.4 512.68,308.9 512.77,305.3 512.85,301.2 512.93,302.8 513.02,304.1 513.10,305.9 513.18,303.8 513.27,304.0 513.35,302.2 513.43,303.7 513.52,302.4 513.60,306.5 513.68,301.8 513.77,303.9 513.85,300.8 513.93,304.8 514.02,303.8 514.10,303.9 514.18,304.9 514.27,300.6 514.35,303.6 514.43,302.2 514.52,307.6 514.60,300.8 514.68,305.2 514.77,307.3 514.85,304.0 514.93,303.4 515.02,306.1 515.10,306.9 515.18,301.1 515.27,302.3 515.35,300.8 515.43,301.1 515.52,305.4 515.60,306.3 515.68,302.6 515.77,303.7 515.85,302.5 515.93,301.7 516.02,304.5 516.10,307.9 516.18,306.1 516.27,299.8 516.35,307.3 516.43,303.2 516.52,303.8 516.60,302.7 516.68,307.6 516.77,303.0 516.85,308.7 516.93,306.8 517.02,300.4 517.10,303.8 517.18,304.4 517.27,305.6 517.35,300.9 517.43,304.2 517.52,302.5 517.60,301.1 517.68,308.4 517.77,301.7 517.85,300.7 517.93,304.2 518.02,299.6 518.10,302.3 518.18,305.0 518.27,303.6 518.35,302.5 518.43,302.6 518.52,303.2 518.60,298.0 518.68,302.9 518.77,303.7 518.85,304.9 518.93,304.7 519.02,305.6 519.10,299.5 519.18,302.8 519.27,306.6 519.35,301.9 519.43,302.3 519.52,303.8 519.60,301.9 519.68,299.6 519.77,300.1 519.85,303.6 519.93,302.2 520.02,302.0 520.10,304.9 520.18,303.0 520.27,302.3 520.35,297.4 520.43,300.3 520.52,301.3 520.60,303.4 520.68,301.9 520.77,300.9 520.85,297.4 520.93,301.4 521.02,299.3 521.10,301.4 521.18,301.0 521.27,301.6 521.35,301.1 521.43,302.4 521.52,304.0 521.60,302.1 521.68,298.0 521.77,299.1 521.85,298.1 521.93,292.0 522.02,300.4 522.10,303.3 522.18,299.5 522.27,299.3 522.35,303.6 522.43,298.5 522.52,300.5 522.60,297.9 522.68,304.1 522.77,299.5 522.85,299.2 522.93,301.1 523.02,299.4 523.10,300.4 523.18,298.7 523.27,300.0 523.35,300.1 523.43,299.8 523.52,303.0 523.60,299.6 523.68,303.2 523.77,299.8 523.85,299.7 523.93,301.7 524.02,297.5 524.10,301.8 524.18,296.7 524.27,303.4 524.35,302.6 524.43,298.3 524.52,301.9 524.60,303.4 524.68,302.8 524.77,304.0 524.85,298.8 524.93,298.3 525.02,303.9 525.10,301.8 525.18,301.0 525.27,301.7 525.35,303.3 525.43,300.9 525.52,304.4 525.60,301.8 525.68,301.3 525.77,303.8 525.85,300.6 525.93,298.6 526.02,300.6 526.10,304.0 526.18,303.9 526.27,303.6 526.35,304.1 526.43,303.5 526.52,305.4 526.60,304.0 526.68,302.7 526.77,302.3 526.85,306.8 526.93,302.7 527.02,298.4 527.10,302.8 527.18,302.3 527.27,303.9 527.35,299.7 527.43,304.8 527.52,306.6 527.60,302.0 527.68,299.6 527.77,302.3 527.85,306.6 527.93,305.7 528.02,302.3 528.10,302.7 528.18,299.7 528.27,299.1 528.35,298.8 528.43,301.8 528.52,300.5 528.60,303.9 528.68,300.3 528.77,297.8 528.85,300.7 528.93,297.9 529.02,302.6 529.10,296.2 529.18,297.5 529.27,299.4 529.35,295.2 529.43,297.8 529.52,294.0 529.60,293.7 529.68,286.3 529.77,290.0 529.85,281.3 529.93,273.8 530.02,259.7 530.10,238.9 530.18,211.3 530.27,179.3 530.35,148.9 530.43,127.4 530.52,122.0 530.60,134.5 530.68,160.6 530.77,192.5 530.85,223.3 530.93,248.6 531.02,266.8 531.10,279.4 531.18,287.1 531.27,290.4 531.35,293.9 531.43,293.8 531.52,291.9 531.60,296.4 531.68,293.8 531.77,294.0 531.85,299.0 531.93,301.6 532.02,301.7 532.10,299.1 532.18,300.3 532.27,299.7 532.35,300.7 532.43,306.1 532.52,299.9 532.60,303.2 532.68,304.5 532.77,299.7 532.85,305.4 532.93,301.6 533.02,302.9 533.10,302.9 533.18,303.7 533.27,306.0 533.35,305.4 533.43,302.8 533.52,302.7 533.60,305.0 533.68,303.5 533.77,303.5 533.85,300.0 533.93,307.2 534.02,302.2 534.10,304.4 534.18,306.3 534.27,310.2 534.35,306.6 534.43,307.6 534.52,303.5 534.60,310.6 534.68,304.8 534.77,306.2 534.85,305.2 534.93,306.5 535.02,309.3 535.10,304.8 535.18,303.9 535.27,305.8 535.35,304.6 535.43,305.2 535.52,300.8 535.60,307.7 535.68,306.2 535.77,302.1 535.85,305.1 535.93,304.9 536.02,302.1 536.10,304.0 536.18,306.5 536.27,303.1 536.35,304.9 536.43,300.3 536.52,308.2 536.60,309.0 536.68,306.8 536.77,305.1 536.85,301.1 536.93,309.7 537.02,306.6 537.10,304.8 537.18,305.6 537.27,304.3 537.35,304.5 537.43,303.0 537.52,306.9 537.60,303.0 537.68,308.3 537.77,305.9 537.85,308.7 537.93,307.9 538.02,302.1 538.10,307.6 538.18,309.3 538.27,308.7 538.35,310.7 538.43,307.4 538.52,308.7 538.60,307.2 538.68,307.9 538.77,306.4 538.85,309.2 538.93,309.8 539.02,303.1 539.10,307.4 539.18,306.6 539.27,305.8 539.35,305.1 539.43,305.3 539.52,303.0 539.60,305.5 539.68,309.2 539.77,309.0 539.85,308.3 539.93,311.4 540.02,307.0 540.10,307.7 540.18,303.4 540.27,311.3 540.35,306.2 540.43,308.5 540.52,307.2 540.60,311.9 540.68,307.8 540.77,307.3 540.85,312.4 540.93,306.3 541.02,306.8 541.10,304.4 541.18,306.9 541.27,308.1 541.35,307.3 541.43,308.0 541.52,306.7 541.60,310.1 541.68,309.2 541.77,312.7 541.85,308.4 541.93,303.9 542.02,306.2 542.10,307.8 542.18,307.1 542.27,309.4 542.35,311.0 542.43,306.3 542.52,306.4 542.60,304.1 542.68,308.6 542.77,305.4 542.85,307.8 542.93,307.5 543.02,304.8 543.10,308.0 543.18,305.1 543.27,307.5 543.35,311.7 543.43,305.6 543.52,307.4 543.60,308.8 543.68,305.2 543.77,303.9 543.85,302.6 543.93,306.5 544.02,309.6 544.10,306.1 544.18,309.3 544.27,312.0 544.35,305.6 544.43,307.9 544.52,307.8 544.60,308.1 544.68,310.1 544.77,310.3 544.85,309.8 544.93,305.9 545.02,306.7 545.10,305.7 545.18,305.6 545.27,309.0 545.35,309.9 545.43,308.5 545.52,304.8 545.60,306.7 545.68,310.2 545.77,309.8 545.85,305.9 545.93,312.6 546.02,307.1 546.10,305.1 546.18,307.4 546.27,307.7 546.35,312.7 546.43,310.8 546.52,311.3 546.60,311.8 546.68,306.1 546.77,308.0 546.85,312.3 546.93,307.3 547.02,308.1 547.10,303.4 547.18,308.6 547.27,307.3 547.35,308.6 547.43,308.4 547.52,307.5 547.60,304.7 547.68,307.8 547.77,310.7 547.85,306.6 547.93,309.9 548.02,308.7 548.10,307.4 548.18,310.6 548.27,308.2 548.35,309.4 548.43,308.9 548.52,306.3 548.60,307.7 548.68,309.6 548.77,302.8 548.85,307.7 548.93,307.1 549.02,310.7 549.10,306.4 549.18,309.1 549.27,312.4 549.35,308.6 549.43,307.2 549.52,310.9 549.60,311.5 549.68,307.6 549.77,309.1 549.85,305.5 549.93,303.5 550.02,304.5 550.10,309.4 550.18,309.3 550.27,303.3 550.35,303.9 550.43,309.4 550.52,303.6 550.60,309.8 550.68,305.6 550.77,302.7 550.85,307.6 550.93,303.6 551.02,310.5 551.10,304.1 551.18,304.7 551.27,307.7 551.35,305.7 551.43,303.1 551.52,308.8 551.60,310.8 551.68,308.0 551.77,311.0 551.85,310.5 551.93,306.5 552.02,309.2 552.10,308.6 552.18,310.6 552.27,312.0 552.35,305.2 552.43,311.1 552.52,309.1 552.60,311.1 552.68,311.5 552.77,310.0 552.85,308.6 552.93,307.1 553.02,309.9 553.10,307.4 553.18,312.1 553.27,308.2 553.35,310.6 553.43,309.8 553.52,305.9 553.60,308.4 553.68,303.9 553.77,303.2 553.85,308.2 553.93,307.9 554.02,306.9 554.10,310.6 554.18,307.0 554.27,311.5 554.35,304.8 554.43,308.7 554.52,308.6 554.60,307.0 554.68,309.7 554.77,306.9 554.85,312.2 554.93,312.1 555.02,303.4 555.10,311.4 555.18,307.9 555.27,307.7 555.35,308.7 555.43,305.6 555.52,307.3 555.60,310.9 555.68,309.4 555.77,307.8 555.85,307.4 555.93,306.3 556.02,305.6 556.10,311.6 556.18,309.3 556.27,312.3 556.35,308.1 556.43,305.1 556.52,306.7 556.60,309.4 556.68,306.5 556.77,308.3 556.85,304.0 556.93,308.6 557.02,308.8 557.10,306.7 557.18,310.8 557.27,310.4 557.35,307.0 557.43,311.8 557.52,311.0 557.60,305.8 557.68,312.3 557.77,306.2 557.85,309.3 557.93,310.6 558.02,307.6 558.10,314.2 558.18,309.3 558.27,312.0 558.35,309.6 558.43,310.7 558.52,308.6 558.60,307.3 558.68,307.5 558.77,308.1 558.85,307.0 558.93,312.6 559.02,307.1 559.10,306.9 559.18,305.7 559.27,311.0 559.35,303.9 559.43,307.7 559.52,311.5 559.60,307.9 559.68,310.1 559.77,310.4 559.85,310.1 559.93,307.1 560.02,308.1 560.10,310.5 560.18,307.7 560.27,310.1 560.35,312.8 560.43,311.0 560.52,313.1 560.60,308.5 560.68,311.4 560.77,311.1 560.85,307.3 560.93,307.5 561.02,310.6 561.10,304.8 561.18,313.2 561.27,310.5 561.35,313.6 561.43,309.7 561.52,309.9 561.60,309.0 561.68,304.9 561.77,304.1 561.85,306.6 561.93,308.5 562.02,306.3 562.10,306.7 562.18,308.3 562.27,308.4 562.35,309.7 562.43,309.5 562.52,308.2 562.60,306.9 562.68,308.0 562.77,305.8 562.85,308.1 562.93,310.3 563.02,309.0 563.10,304.1 563.18,308.1 563.27,312.4 563.35,308.4 563.43,311.4 563.52,308.3 563.60,312.5 563.68,310.5 563.77,307.7 563.85,308.4 563.93,309.4 564.02,308.2 564.10,309.1 564.18,311.6 564.27,309.7 564.35,306.6 564.43,308.6 564.52,305.0 564.60,309.5 564.68,306.3 564.77,308.3 564.85,310.0 564.93,306.5 565.02,307.7 565.10,308.6 565.18,309.5 565.27,307.9 565.35,305.7 565.43,308.2 565.52,311.8 565.60,310.6 565.68,305.0 565.77,307.4 565.85,309.4 565.93,304.3 566.02,306.6 566.10,307.9 566.18,309.8 566.27,309.9 566.35,308.7 566.43,304.8 566.52,313.4 566.60,310.1 566.68,307.5 566.77,307.8 566.85,313.9 566.93,306.7 567.02,309.3 567.10,305.2 567.18,305.2 567.27,312.4 567.35,311.8 567.43,309.8 567.52,309.1 567.60,305.8 567.68,308.9 567.77,306.5 567.85,309.2 567.93,307.2 568.02,305.4 568.10,302.4 568.18,306.2 568.27,301.3 568.35,303.2 568.43,301.8 568.52,300.9 568.60,300.1 568.68,302.4 568.77,301.1 568.85,303.1 568.93,300.8 569.02,301.1 569.10,303.6 569.18,302.0 569.27,303.2 569.35,305.9 569.43,303.3 569.52,306.1 569.60,307.5 569.68,306.5 569.77,308.5 569.85,306.1 569.93,308.2 570.02,305.4 570.10,305.7 570.18,306.9 570.27,310.7 570.35,303.9 570.43,304.8 570.52,305.9 570.60,306.6 570.68,309.6 570.77,309.6 570.85,308.3 570.93,308.3 571.02,307.3 571.10,308.5 571.18,306.8 571.27,306.9 571.35,308.4 571.43,304.4 571.52,306.4 571.60,307.2 571.68,302.9 571.77,303.2 571.85,308.4 571.93,307.6 572.02,309.1 572.10,306.9 572.18,304.8 572.27,302.8 572.35,308.4 572.43,312.0 572.52,308.4 572.60,309.3 572.68,312.6 572.77,303.8 572.85,305.3 572.93,308.9 573.02,305.9 573.10,306.6 573.18,306.9 573.27,312.2 573.35,306.6 573.43,303.5 573.52,311.1 573.60,303.0 573.68,307.5 573.77,311.9 573.85,303.2 573.93,306.9 574.02,305.7 574.10,306.5 574.18,310.5 574.27,304.6 574.35,306.7 574.43,304.2 574.52,306.3 574.60,306.1 574.68,305.4 574.77,308.3 574.85,303.9 574.93,303.8 575.02,307.6 575.10,309.0 575.18,304.1 575.27,310.3 575.35,309.0 575.43,309.5 575.52,308.2 575.60,305.4 575.68,307.6 575.77,309.1 575.85,305.8 575.93,305.1 576.02,307.0 576.10,310.7 576.18,307.5 576.27,310.3 576.35,307.5 576.43,307.2 576.52,306.9 576.60,306.0 576.68,304.2 576.77,309.6 576.85,306.5 576.93,309.6 577.02,305.7 577.10,305.4 577.18,306.8 577.27,308.5 577.35,306.7 577.43,303.6 577.52,307.3 577.60,309.9 577.68,302.5 577.77,311.3 577.85,306.8 577.93,304.7 578.02,304.9 578.10,304.6 578.18,303.4 578.27,303.9 578.35,308.1 578.43,306.5 578.52,308.1 578.60,305.0 578.68,304.8 578.77,306.3 578.85,305.5 578.93,305.7 579.02,307.6 579.10,307.3 579.18,304.1 579.27,303.4 579.35,305.7 579.43,305.5 579.52,307.9 579.60,302.4 579.68,310.9 579.77,308.0 579.85,309.3 579.93,308.9 580.02,307.6 580.10,304.7 580.18,304.3 580.27,308.1 580.35,303.8 580.43,312.1 580.52,305.4 580.60,310.3 580.68,309.4 580.77,304.3 580.85,304.3 580.93,303.4 581.02,305.4 581.10,307.4 581.18,308.3 581.27,307.3 581.35,306.8 581.43,308.1 581.52,307.9 581.60,310.8 581.68,309.3 581.77,307.4 581.85,305.8 581.93,301.9 582.02,305.7 582.10,310.3 582.18,305.4 582.27,300.7 582.35,304.2 582.43,301.3 582.52,301.7 582.60,301.7 582.68,302.1 582.77,298.0 582.85,299.5 582.93,295.7 583.02,298.5 583.10,298.1 583.18,300.0 583.27,301.4 583.35,297.1 583.43,304.4 583.52,303.3 583.60,302.5 583.68,305.1 583.77,306.4 583.85,308.4 583.93,304.0 584.02,307.6 584.10,303.9 584.18,307.5 584.27,305.3 584.35,305.3 584.43,302.7 584.52,305.7 584.60,305.9 584.68,304.2 584.77,307.0 584.85,311.2 584.93,304.9 585.02,305.4 585.10,306.8 585.18,305.6 585.27,306.7 585.35,307.0 585.43,303.6 585.52,306.0 585.60,306.6 585.68,306.3 585.77,307.9 585.85,308.3 585.93,303.3 586.02,303.6 586.10,302.1 586.18,307.1 586.27,309.8 586.35,304.5 586.43,306.1 586.52,305.5 586.60,307.5 586.68,307.8 586.77,304.4 586.85,305.6 586.93,305.7 587.02,307.6 587.10,304.7 587.18,304.0 587.27,305.3 587.35,305.2 587.43,303.2 587.52,303.7 587.60,304.0 587.68,305.0 587.77,298.0 587.85,301.5 587.93,299.5 588.02,296.2 588.10,296.1 588.18,296.4 588.27,292.8 588.35,293.0 588.43,292.6 588.52,292.1 588.60,291.8 588.68,292.5 588.77,294.7 588.85,295.8 588.93,296.3 589.02,298.4 589.10,300.8 589.18,300.9 589.27,302.4 589.35,304.2 589.43,303.9 589.52,307.3 589.60,309.0 589.68,310.1 589.77,304.4 589.85,302.6 589.93,303.5 590.02,304.6 590.10,309.4 590.18,305.1 590.27,309.2 590.35,303.7 590.43,310.6 590.52,304.5 590.60,301.8 590.68,301.6 590.77,310.2 590.85,304.7 590.93,306.1 591.02,301.2 591.10,305.2 591.18,303.2 591.27,308.5 591.35,305.2 591.43,306.0 591.52,304.0 591.60,303.9 591.68,302.5 591.77,305.3 591.85,301.4 591.93,309.5 592.02,310.4 592.10,307.7 592.18,306.4 592.27,304.5 592.35,306.4 592.43,304.2 592.52,307.5 592.60,307.4 592.68,308.1 592.77,304.6 592.85,309.1 592.93,311.1 593.02,308.3 593.10,305.2 593.18,307.4 593.27,309.7 593.35,307.2 593.43,305.5 593.52,307.5 593.60,310.5 593.68,306.3 593.77,306.6 593.85,309.8 593.93,306.0 594.02,300.8 594.10,306.0 594.18,305.8 594.27,303.4 594.35,305.9 594.43,304.9 594.52,309.4 594.60,308.1 594.68,306.0 594.77,302.4 594.85,304.2 594.93,305.0 595.02,307.2 595.10,304.8 595.18,306.5 595.27,304.0 595.35,307.2 595.43,302.1 595.52,305.5 595.60,307.7 595.68,306.7 595.77,301.7 595.85,303.6 595.93,306.1 596.02,307.5 596.10,307.9 596.18,305.9 596.27,305.8 596.35,304.0 596.43,308.6 596.52,306.0 596.60,307.3 596.68,306.7 596.77,305.9 596.85,307.8 596.93,307.1 597.02,305.9 597.10,309.7 597.18,310.6 597.27,301.1 597.35,307.2 597.43,308.1 597.52,308.7 597.60,307.1 597.68,306.4 597.77,303.6 597.85,304.5 597.93,306.1 598.02,305.7 598.10,308.1 598.18,307.6 598.27,308.2 598.35,304.2 598.43,303.0 598.52,306.6 598.60,303.2 598.68,301.9 598.77,306.8 598.85,307.2 598.93,312.2 599.02,308.9 599.10,309.0 599.18,306.5 599.27,306.5 599.35,308.8 599.43,307.1 599.52,305.3 599.60,303.0 599.68,305.7 599.77,303.0 599.85,308.1 599.93,305.5 600.02,305.9 600.10,307.0 600.18,304.7 600.27,305.5 600.35,303.8 600.43,303.9 600.52,305.3 600.60,310.3 600.68,304.9 600.77,309.1 600.85,304.8 600.93,308.4 601.02,303.7 601.10,306.6 601.18,305.0 601.27,309.4 601.35,306.8 601.43,309.1 601.52,309.0 601.60,306.5 601.68,309.8 601.77,302.9 601.85,303.8 601.93,305.8 602.02,304.8 602.10,304.5 602.18,308.0 602.27,307.7 602.35,305.3 602.43,305.6 602.52,309.3 602.60,307.6 602.68,304.9 602.77,301.7 602.85,305.3 602.93,304.8 603.02,306.2 603.10,305.3 603.18,305.3 603.27,306.1 603.35,311.0 603.43,307.4 603.52,309.0 603.60,303.7 603.68,304.3 603.77,311.0 603.85,311.5 603.93,302.4 604.02,309.6 604.10,307.9 604.18,306.1 604.27,308.9 604.35,310.8 604.43,304.1 604.52,304.0 604.60,307.4 604.68,307.4 604.77,307.7 604.85,309.6 604.93,305.8 605.02,302.1 605.10,303.4 605.18,304.5 605.27,303.8 605.35,304.0 605.43,302.1 605.52,300.3 605.60,301.2 605.68,300.1 605.77,300.5 605.85,297.6 605.93,297.6 606.02,300.7 606.10,299.0 606.18,301.7 606.27,302.7 606.35,304.0 606.43,303.1 606.52,302.9 606.60,306.4 606.68,303.0 606.77,303.7 606.85,303.0 606.93,305.1 607.02,307.0 607.10,307.5 607.18,306.3 607.27,305.0 607.35,303.1 607.43,302.8 607.52,310.1 607.60,302.1 607.68,306.1 607.77,309.0 607.85,311.4 607.93,307.0 608.02,310.0 608.10,305.5 608.18,305.3 608.27,305.2 608.35,308.6 608.43,305.4 608.52,303.9 608.60,305.9 608.68,304.6 608.77,303.9 608.85,307.1 608.93,307.2 609.02,303.8 609.10,307.1 609.18,307.0 609.27,306.8 609.35,308.5 609.43,307.5 609.52,305.3 609.60,304.3 609.68,303.8 609.77,310.2 609.85,307.7 609.93,309.7 610.02,310.5 610.10,310.0 610.18,306.1 610.27,307.0 610.35,303.0 610.43,307.7 610.52,305.9 610.60,303.7 610.68,302.0 610.77,305.1 610.85,300.9 610.93,303.3 611.02,301.9 611.10,300.7 611.18,303.3 611.27,303.2 611.35,302.6 611.43,299.5 611.52,303.0 611.60,299.2 611.68,307.6 611.77,300.3 611.85,307.3 611.93,303.0 612.02,310.0 612.10,305.4 612.18,303.3 612.27,308.1 612.35,304.7 612.43,307.5 612.52,309.7 612.60,307.1 612.68,306.5 612.77,303.9 612.85,304.7 612.93,309.3 613.02,311.3 613.10,306.6 613.18,307.4 613.27,308.8 613.35,307.5 613.43,308.8 613.52,306.0 613.60,308.0 613.68,312.7 613.77,308.0 613.85,305.7 613.93,309.3 614.02,309.9 614.10,301.7 614.18,307.2 614.27,307.3 614.35,311.8 614.43,309.8 614.52,309.2 614.60,306.3 614.68,304.5 614.77,310.6 614.85,308.8 614.93,308.5 615.02,309.8 615.10,310.4 615.18,307.8 615.27,310.7 615.35,308.7 615.43,306.6 615.52,308.1 615.60,309.2 615.68,304.5 615.77,310.5 615.85,305.5 615.93,309.5 616.02,309.4 616.10,311.0 616.18,305.5 616.27,307.2 616.35,310.9 616.43,305.3 616.52,309.6 616.60,307.7 616.68,309.3 616.77,309.7 616.85,308.6 616.93,305.0 617.02,308.9 617.10,308.6 617.18,309.9 617.27,308.3 617.35,308.6 617.43,307.0 617.52,309.3 617.60,309.3 617.68,306.2 617.77,308.3 617.85,306.4 617.93,310.5 618.02,309.4 618.10,306.2 618.18,311.5 618.27,311.0 618.35,307.9 618.43,306.7 618.52,308.4 618.60,307.9 618.68,307.1 618.77,307.7 618.85,309.9 618.93,306.5 619.02,307.8 619.10,306.6 619.18,309.5 619.27,312.7 619.35,308.3 619.43,306.7 619.52,308.3 619.60,310.9 619.68,309.0 619.77,310.8 619.85,308.2 619.93,308.0 620.02,308.9 620.10,309.9 620.18,311.1 620.27,305.5 620.35,307.4 620.43,307.0 620.52,308.3 620.60,306.1 620.68,309.0 620.77,310.1 620.85,307.7 620.93,306.5 621.02,309.1 621.10,308.5 621.18,306.9 621.27,311.1 621.35,306.5 621.43,307.6 621.52,307.1 621.60,311.3 621.68,308.3 621.77,312.1 621.85,311.5 621.93,305.7 622.02,307.9 622.10,305.9 622.18,312.2 622.27,309.9 622.35,307.1 622.43,305.8 622.52,310.0 622.60,307.3 622.68,307.7 622.77,306.7 622.85,308.6 622.93,308.8 623.02,301.0 623.10,300.6 623.18,302.7 623.27,299.2 623.35,300.0 623.43,300.6 623.52,299.8 623.60,302.0 623.68,305.1 623.77,305.1 623.85,304.9 623.93,302.4 624.02,303.0 624.10,306.6 624.18,312.0 624.27,310.9 624.35,308.1 624.43,306.1 624.52,309.5 624.60,305.4 624.68,310.5 624.77,312.4 624.85,313.3 624.93,309.1 625.02,308.8 625.10,310.2 625.18,307.6 625.27,310.4 625.35,312.0 625.43,312.8 625.52,311.0 625.60,312.1 625.68,306.5 625.77,311.8 625.85,305.9 625.93,311.1 626.02,309.2 626.10,304.3 626.18,305.1 626.27,310.5 626.35,311.0 626.43,307.1 626.52,306.9 626.60,310.3 626.68,308.2 626.77,308.6 626.85,310.0 626.93,305.6 627.02,306.4 627.10,309.0 627.18,309.5 627.27,311.2 627.35,309.1 627.43,310.8 627.52,313.0 627.60,309.8 627.68,310.4 627.77,306.4 627.85,308.6 627.93,305.8 628.02,307.3 628.10,312.4 628.18,314.0 628.27,309.8 628.35,311.6 628.43,313.2 628.52,311.3 628.60,308.5 628.68,307.6 628.77,313.3 628.85,309.4 628.93,313.4 629.02,304.3 629.10,309.4 629.18,313.3 629.27,311.4 629.35,305.3 629.43,312.9 629.52,311.2 629.60,306.3 629.68,307.2 629.77,314.9 629.85,308.0 629.93,311.1 630.02,313.3 630.10,310.0 630.18,309.5 630.27,311.7 630.35,309.5 630.43,310.4 630.52,312.2 630.60,309.9 630.68,313.6 630.77,311.8 630.85,307.2 630.93,309.9 631.02,310.0 631.10,311.4 631.18,305.1 631.27,307.1 631.35,310.2 631.43,308.4 631.52,305.7 631.60,308.8 631.68,309.7 631.77,307.0 631.85,312.5 631.93,304.0 632.02,310.6 632.10,308.4 632.18,313.6 632.27,308.9 632.35,305.1 632.43,308.3 632.52,308.5 632.60,310.5 632.68,307.8 632.77,309.4 632.85,307.9 632.93,310.0 633.02,314.0 633.10,311.2 633.18,308.5 633.27,309.1 633.35,304.4 633.43,308.1 633.52,307.5 633.60,309.0 633.68,309.3 633.77,310.2 633.85,311.8 633.93,308.6 634.02,308.5 634.10,307.3 634.18,305.7 634.27,309.8 634.35,309.1 634.43,305.8 634.52,307.7 634.60,312.4 634.68,308.7 634.77,308.8 634.85,309.5 634.93,306.2 635.02,307.5 635.10,307.3 635.18,314.7 635.27,309.5 635.35,309.2 635.43,306.6 635.52,309.3 635.60,307.6 635.68,307.5 635.77,310.1 635.85,310.2 635.93,307.5 636.02,312.9 636.10,310.0 636.18,309.5 636.27,310.9 636.35,309.5 636.43,308.4 636.52,310.2 636.60,312.3 636.68,310.3 636.77,309.2 636.85,308.6 636.93,308.1 637.02,306.8 637.10,309.6 637.18,308.3 637.27,309.8 637.35,305.7 637.43,307.7 637.52,310.9 637.60,309.0 637.68,310.3 637.77,306.5 637.85,306.2 637.93,308.5 638.02,306.3 638.10,310.5 638.18,305.0 638.27,307.9 638.35,308.6 638.43,312.5 638.52,308.7 638.60,305.2 638.68,311.6 638.77,310.9 638.85,308.7 638.93,309.3 639.02,309.6 639.10,310.8 639.18,304.4 639.27,314.2 639.35,308.3 639.43,306.5 639.52,307.1 639.60,308.2 639.68,308.5 639.77,310.8 639.85,309.3 639.93,304.1 640.02,306.0 640.10,308.7 640.18,307.9 640.27,308.4 640.35,302.9 640.43,309.4 640.52,310.6 640.60,307.7 640.68,308.8 640.77,310.1 640.85,310.7 640.93,307.5 641.02,310.2 641.10,308.8 641.18,311.2 641.27,310.9 641.35,308.1 641.43,313.9 641.52,313.4 641.60,308.5 641.68,307.6 641.77,311.3 641.85,313.0 641.93,309.5 642.02,309.1 642.10,312.1 642.18,306.2 642.27,307.8 642.35,307.8 642.43,305.8 642.52,309.2 642.60,308.3 642.68,310.8 642.77,309.3 642.85,310.0 642.93,302.4 643.02,302.8 643.10,304.7 643.18,301.9 643.27,305.0 643.35,302.9 643.43,303.4 643.52,305.8 643.60,305.4 643.68,309.9 643.77,310.8 643.85,309.9 643.93,304.4 644.02,311.8 644.10,308.7 644.18,313.2 644.27,311.0 644.35,308.0 644.43,309.6 644.52,309.6 644.60,310.5 644.68,310.8 644.77,308.4 644.85,308.5 644.93,312.6 645.02,311.9 645.10,308.3 645.18,312.2 645.27,312.9 645.35,309.9 645.43,311.7 645.52,307.9 645.60,309.6 645.68,311.2 645.77,308.4 645.85,309.9 645.93,307.1 646.02,310.1 646.10,310.3 646.18,307.9 646.27,311.3 646.35,311.5 646.43,308.2 646.52,311.2 646.60,305.8 646.68,310.2 646.77,311.2 646.85,307.4 646.93,309.3 647.02,309.8 647.10,305.3 647.18,309.1 647.27,313.0 647.35,304.6 647.43,309.8 647.52,310.3 647.60,309.0 647.68,305.0 647.77,310.6 647.85,312.5 647.93,307.8 648.02,311.0 648.10,305.3 648.18,311.9 648.27,311.5 648.35,310.2 648.43,313.4 648.52,306.8 648.60,310.5 648.68,308.0 648.77,308.8 648.85,311.4 648.93,309.2 649.02,311.9 649.10,311.3 649.18,304.9 649.27,309.9 649.35,307.8 649.43,312.8 649.52,306.0 649.60,311.5 649.68,309.2 649.77,306.3 649.85,311.6 649.93,307.4 650.02,304.2 650.10,312.8 650.18,307.5 650.27,310.1 650.35,308.3 650.43,309.7 650.52,308.8 650.60,311.1 650.68,309.9 650.77,304.4 650.85,312.7 650.93,309.7 651.02,310.5 651.10,306.3 651.18,308.9 651.27,306.9 651.35,309.3 651.43,309.6 651.52,306.0 651.60,310.2 651.68,311.4 651.77,306.0 651.85,313.3 651.93,309.2 652.02,310.8 652.10,308.8 652.18,310.2 652.27,306.4 652.35,306.7 652.43,309.9 652.52,311.9 652.60,306.7 652.68,312.0 652.77,307.2 652.85,309.6 652.93,307.3 653.02,312.1 653.10,311.9 653.18,312.2 653.27,309.5 653.35,310.6 653.43,310.8 653.52,308.5 653.60,313.0 653.68,308.3 653.77,312.1 653.85,309.2 653.93,305.4 654.02,306.8 654.10,310.6 654.18,308.5 654.27,307.9 654.35,310.7 654.43,307.5 654.52,308.8 654.60,312.8 654.68,309.7 654.77,307.5 654.85,309.1 654.93,308.3 655.02,309.1 655.10,311.5 655.18,309.2 655.27,307.2 655.35,314.0 655.43,306.0 655.52,307.9 655.60,305.6 655.68,307.4 655.77,308.1 655.85,309.5 655.93,308.6 656.02,309.9 656.10,311.1 656.18,311.8 656.27,310.0 656.35,312.1 656.43,311.3 656.52,308.4 656.60,309.6 656.68,309.3 656.77,309.6 656.85,305.9 656.93,305.0 657.02,309.3 657.10,305.6 657.18,308.3 657.27,308.2 657.35,309.5 657.43,308.6 657.52,308.4 657.60,305.3 657.68,311.9 657.77,312.3 657.85,307.4 657.93,310.3 658.02,308.7 658.10,308.0 658.18,313.2 658.27,309.6 658.35,310.3 658.43,308.3 658.52,309.3 658.60,310.7 658.68,311.6 658.77,309.7 658.85,310.0 658.93,310.0 659.02,307.4 659.10,313.3 659.18,311.2 659.27,311.7 659.35,313.6 659.43,313.4 659.52,308.9 659.60,306.6 659.68,305.4 659.77,306.2 659.85,314.6 659.93,305.7 660.02,306.5 660.10,310.4 660.18,309.3 660.27,311.9 660.35,312.4 660.43,311.3 660.52,312.7 660.60,306.2 660.68,310.0 660.77,306.6 660.85,309.6 660.93,310.8 661.02,314.0 661.10,308.4 661.18,310.5 661.27,310.3 661.35,305.7 661.43,306.9 661.52,312.1 661.60,309.8 661.68,309.4 661.77,310.0 661.85,310.7 661.93,309.7 662.02,311.2 662.10,306.7 662.18,312.4 662.27,309.4 662.35,309.3 662.43,311.4 662.52,311.4 662.60,304.6 662.68,309.6 662.77,309.4 662.85,309.1 662.93,308.6 663.02,306.3 663.10,312.7 663.18,312.0 663.27,308.5 663.35,307.1 663.43,306.0 663.52,308.1 663.60,307.1 663.68,306.6 663.77,308.4 663.85,307.0 663.93,307.9 664.02,305.8 664.10,307.8 664.18,305.2 664.27,309.9 664.35,309.8 664.43,308.9 664.52,310.9 664.60,307.3 664.68,308.2 664.77,310.9 664.85,311.1 664.93,305.3 665.02,306.9 665.10,310.2 665.18,309.4 665.27,311.2 665.35,305.8 665.43,304.5 665.52,307.3 665.60,309.5 665.68,309.9 665.77,313.6 665.85,308.6 665.93,310.6 666.02,310.9 666.10,308.1 666.18,309.6 666.27,310.5 666.35,310.1 666.43,309.4 666.52,310.5 666.60,306.4 666.68,308.0 666.77,308.3 666.85,308.3 666.93,312.7 667.02,310.6 667.10,311.3 667.18,305.8 667.27,310.5 667.35,309.8 667.43,307.6 667.52,308.2 667.60,305.6 667.68,306.9 667.77,306.5 667.85,306.7 667.93,300.7 668.02,302.3 668.10,300.3 668.18,299.9 668.27,296.1 668.35,294.3 668.43,292.7 668.52,291.5 668.60,290.3 668.68,291.4 668.77,292.5 668.85,293.9 668.93,296.4 669.02,299.6 669.10,300.5 669.18,299.7 669.27,302.6 669.35,307.3 669.43,303.0 669.52,307.1 669.60,307.8 669.68,309.1 669.77,305.6 669.85,309.1 669.93,312.1 670.02,311.6 670.10,312.7 670.18,313.5 670.27,306.7 670.35,308.0 670.43,310.8 670.52,308.2 670.60,310.4 670.68,313.1 670.77,307.2 670.85,306.5 670.93,309.4 671.02,312.1 671.10,308.5 671.18,308.3 671.27,307.4 671.35,309.9 671.43,314.4 671.52,311.7 671.60,311.4 671.68,309.0 671.77,306.8 671.85,314.5 671.93,310.3 672.02,310.1 672.10,308.3 672.18,310.9 672.27,310.9 672.35,307.9 672.43,308.6 672.52,309.4 672.60,313.7 672.68,305.5 672.77,310.5 672.85,311.4 672.93,309.9 673.02,306.2 673.10,309.0 673.18,314.9 673.27,312.5 673.35,310.2 673.43,307.2 673.52,308.3 673.60,312.2 673.68,313.7 673.77,313.2 673.85,310.4 673.93,312.5 674.02,312.4 674.10,306.1 674.18,314.7 674.27,309.2 674.35,304.8 674.43,313.8 674.52,305.5 674.60,307.1 674.68,312.1 674.77,307.8 674.85,309.9 674.93,306.9 675.02,308.8 675.10,308.7 675.18,311.2 675.27,306.6 675.35,310.0 675.43,309.0 675.52,308.8 675.60,311.1 675.68,309.6 675.77,315.0 675.85,313.8 675.93,309.7 676.02,310.0 676.10,307.2 676.18,307.8 676.27,310.5 676.35,308.8 676.43,310.0 676.52,309.3 676.60,310.8 676.68,310.0 676.77,309.4 676.85,313.1 676.93,308.1 677.02,305.9 677.10,314.4 677.18,309.6 677.27,308.0 677.35,307.8 677.43,310.1 677.52,307.5 677.60,310.6 677.68,310.5 677.77,311.7 677.85,311.5 677.93,313.2 678.02,309.0 678.10,314.5 678.18,313.3 678.27,308.7 678.35,311.1 678.43,310.1 678.52,309.6 678.60,313.7 678.68,310.1 678.77,313.2 678.85,311.4 678.93,307.9 679.02,314.2 679.10,312.1 679.18,306.1 679.27,310.7 679.35,310.7 679.43,306.7 679.52,312.9 679.60,310.1 679.68,310.4 679.77,308.1 679.85,309.5 679.93,311.9 680.02,310.6 680.10,311.4 680.18,306.6 680.27,313.9 680.35,309.0 680.43,305.0 680.52,308.7 680.60,314.4 680.68,306.3 680.77,311.3 680.85,313.1 680.93,310.1 681.02,308.0 681.10,310.3 681.18,308.1 681.27,311.5 681.35,310.4 681.43,307.4 681.52,310.1 681.60,309.7 681.68,306.1 681.77,306.1 681.85,309.2 681.93,310.3 682.02,306.6 682.10,309.8 682.18,312.3 682.27,310.9 682.35,311.9 682.43,310.2 682.52,313.5 682.60,308.4 682.68,308.8 682.77,311.0 682.85,308.4 682.93,313.3 683.02,312.6 683.10,308.8 683.18,311.5 683.27,310.0 683.35,308.3 683.43,309.2 683.52,310.3 683.60,312.9 683.68,311.0 683.77,309.9 683.85,312.4 683.93,307.2 684.02,308.9 684.10,306.6 684.18,312.2 684.27,314.6 684.35,310.3 684.43,312.2 684.52,308.5 684.60,312.2 684.68,309.8 684.77,311.9 684.85,308.2 684.93,309.6 685.02,309.7 685.10,307.9 685.18,306.3 685.27,308.4 685.35,308.8 685.43,308.4 685.52,309.1 685.60,309.9 685.68,307.2 685.77,308.2 685.85,310.8 685.93,308.8 686.02,310.7 686.10,310.1 686.18,313.4 686.27,310.9 686.35,308.2 686.43,306.1 686.52,311.2 686.60,312.2 686.68,310.7 686.77,314.9 686.85,305.1 686.93,310.6 687.02,307.8 687.10,308.8 687.18,308.5 687.27,310.6 687.35,313.7 687.43,312.2 687.52,309.6 687.60,309.4 687.68,312.2 687.77,310.8 687.85,307.8 687.93,310.4 688.02,308.8 688.10,312.3 688.18,311.4 688.27,308.5 688.35,309.4 688.43,310.7 688.52,312.5 688.60,310.5 688.68,307.6 688.77,311.0 688.85,311.2 688.93,312.3 689.02,312.1 689.10,309.3 689.18,310.4 689.27,309.0 689.35,311.4 689.43,310.8 689.52,312.1 689.60,310.9 689.68,309.6 689.77,307.5 689.85,311.2 689.93,308.7 690.02,308.5 690.10,308.6 690.18,309.5 690.27,308.5 690.35,309.0 690.43,307.4 690.52,308.9 690.60,309.1 690.68,307.2 690.77,303.9 690.85,306.2 690.93,307.5 691.02,304.7 691.10,307.3 691.18,304.2 691.27,303.2 691.35,304.2 691.43,304.9 691.52,303.9 691.60,303.5 691.68,303.4 691.77,305.2 691.85,305.6 691.93,304.6 692.02,303.2 692.10,304.0 692.18,304.1 692.27,307.5 692.35,307.0 692.43,302.7 692.52,307.3 692.60,308.8 692.68,309.9 692.77,304.6 692.85,308.0 692.93,308.3 693.02,309.0 693.10,312.1 693.18,307.4 693.27,308.5 693.35,308.6 693.43,307.5 693.52,309.8 693.60,309.6 693.68,310.2 693.77,309.2 693.85,314.7 693.93,309.9 694.02,307.1 694.10,309.8 694.18,309.2 694.27,311.1 694.35,308.4 694.43,310.0 694.52,310.1 694.60,309.4 694.68,309.4 694.77,308.5 694.85,308.8 694.93,305.2 695.02,306.4 695.10,308.4 695.18,311.0 695.27,308.7 695.35,305.5 695.43,305.6 695.52,305.3 695.60,305.3 695.68,306.8 695.77,306.1 695.85,305.7 695.93,302.4 696.02,303.0 696.10,301.7 696.18,302.2 696.27,302.9 696.35,302.3 696.43,302.8 696.52,301.1 696.60,301.0 696.68,301.9 696.77,303.9 696.85,303.6 696.93,306.1 697.02,303.0 697.10,304.5 697.18,303.9 697.27,308.1 697.35,307.5 697.43,309.2 697.52,308.7 697.60,307.1 697.68,307.0 697.77,308.1 697.85,307.5 697.93,308.3 698.02,309.5 698.10,313.7 698.18,307.9 698.27,310.6 698.35,305.2 698.43,309.4 698.52,310.3 698.60,308.0 698.68,306.3 698.77,311.0 698.85,310.4 698.93,308.0 699.02,312.3 699.10,312.6 699.18,311.2 699.27,308.0 699.35,309.7 699.43,310.7 699.52,312.9 699.60,309.7 699.68,310.8 699.77,308.7 699.85,306.3 699.93,311.4 700.02,308.4 700.10,312.8 700.18,307.2 700.27,312.7 700.35,309.7 700.43,308.6 700.52,307.9 700.60,308.9 700.68,313.1 700.77,307.8 700.85,308.1 700.93,314.7 701.02,309.1 701.10,311.5 701.18,308.8 701.27,313.3 701.35,310.2 701.43,310.7 701.52,307.3 701.60,309.1 701.68,306.7 701.77,309.9 701.85,309.5 701.93,312.8 702.02,310.1 702.10,310.2 702.18,307.7 702.27,314.6 702.35,309.7 702.43,312.1 702.52,311.7 702.60,307.0 702.68,311.8 702.77,311.2 702.85,311.7 702.93,309.3 703.02,309.2 703.10,308.0 703.18,309.6 703.27,312.7 703.35,307.4 703.43,314.7 703.52,315.0 703.60,308.5 703.68,314.6 703.77,309.8 703.85,310.7 703.93,310.7 704.02,313.7 704.10,309.9 704.18,310.8 704.27,311.1 704.35,311.6 704.43,313.1 704.52,307.5 704.60,308.7 704.68,311.2 704.77,307.5 704.85,312.6 704.93,308.9 705.02,309.9 705.10,308.0 705.18,311.6 705.27,313.9 705.35,309.0 705.43,311.2 705.52,310.7 705.60,310.8 705.68,307.1 705.77,309.6 705.85,310.6 705.93,309.5 706.02,311.6 706.10,309.2 706.18,310.9 706.27,309.6 706.35,313.7 706.43,308.3 706.52,307.6 706.60,308.0 706.68,310.4 706.77,309.7 706.85,310.8 706.93,309.7 707.02,309.7 707.10,312.3 707.18,310.3 707.27,311.0 707.35,312.6 707.43,307.5 707.52,308.3 707.60,310.6 707.68,308.3 707.77,313.8 707.85,310.1 707.93,310.6 708.02,309.5 708.10,311.3 708.18,309.5 708.27,309.7 708.35,311.5 708.43,309.8 708.52,311.8 708.60,312.0 708.68,312.8 708.77,309.9 708.85,310.5 708.93,312.1 709.02,313.0 709.10,313.5 709.18,310.6 709.27,308.8 709.35,310.0 709.43,308.0 709.52,312.8 709.60,311.4 709.68,310.9 709.77,314.4 709.85,306.1 709.93,312.1 710.02,311.9 710.10,310.6 710.18,311.1 710.27,311.7 710.35,310.2 710.43,308.7 710.52,308.9 710.60,311.0 710.68,312.6 710.77,312.7 710.85,310.8 710.93,312.3 711.02,311.5 711.10,311.3 711.18,312.0 711.27,312.9 711.35,312.2 711.43,310.5 711.52,308.7 711.60,309.7 711.68,313.2 711.77,308.7 711.85,310.1 711.93,313.8 712.02,310.3 712.10,309.1 712.18,307.0 712.27,312.1 712.35,310.6 712.43,313.9 712.52,314.3 712.60,311.8 712.68,310.2 712.77,310.0 712.85,311.8 712.93,311.7 713.02,311.4 713.10,314.7 713.18,311.2 713.27,313.9 713.35,308.9 713.43,310.9 713.52,314.2 713.60,309.2 713.68,311.7 713.77,311.0 713.85,314.2 713.93,311.8 714.02,307.6 714.10,307.5 714.18,309.4 714.27,310.5 714.35,307.7 714.43,310.0 714.52,312.6 714.60,311.9 714.68,310.6 714.77,309.2 714.85,309.0 714.93,312.2 715.02,310.0 715.10,311.4 715.18,314.0 715.27,309.3 715.35,314.3 715.43,307.4 715.52,310.1 715.60,307.4 715.68,310.5 715.77,313.2 715.85,307.9 715.93,314.0 716.02,309.6 716.10,312.7 716.18,311.6 716.27,310.7 716.35,313.0 716.43,312.1 716.52,309.4 716.60,312.0 716.68,311.8 716.77,313.4 716.85,311.1 716.93,313.0 717.02,310.9 717.10,308.5 717.18,311.0 717.27,311.7 717.35,313.2 717.43,312.1 717.52,307.4 717.60,310.3 717.68,311.8 717.77,309.7 717.85,309.5 717.93,314.3 718.02,311.1 718.10,309.8 718.18,313.7 718.27,309.8 718.35,309.0 718.43,312.3 718.52,314.4 718.60,311.9 718.68,311.7 718.77,312.1 718.85,309.5 718.93,311.1 719.02,311.2 719.10,307.4 719.18,310.9 719.27,311.9 719.35,313.2 719.43,309.3 719.52,314.9 719.60,309.6 719.68,312.9 719.77,310.2 719.85,309.2 719.93,311.3 720.02,309.2 720.10,312.6 720.18,307.1 720.27,306.8 720.35,311.8 720.43,311.2 720.52,310.9 720.60,314.9 720.68,307.2 720.77,313.2 720.85,310.1 720.93,306.6 721.02,309.1 721.10,313.1 721.18,310.9 721.27,313.9 721.35,311.0 721.43,310.9 721.52,312.2 721.60,313.3 721.68,309.6 721.77,308.3 721.85,313.4 721.93,312.2 722.02,312.7 722.10,310.6 722.18,310.5 722.27,310.0 722.35,310.9 722.43,310.8 722.52,311.9 722.60,309.8 722.68,312.0 722.77,313.1 722.85,308.5 722.93,308.5 723.02,310.3 723.10,314.2 723.18,310.2 723.27,310.2 723.35,311.5 723.43,309.6 723.52,307.8 723.60,314.5 723.68,312.0 723.77,310.9 723.85,312.7 723.93,311.4 724.02,307.8 724.10,306.5 724.18,310.8 724.27,311.2 724.35,309.7 724.43,312.1 724.52,310.2 724.60,307.3 724.68,309.8 724.77,310.7 724.85,312.1 724.93,312.7 725.02,309.7 725.10,311.9 725.18,309.7 725.27,309.1 725.35,306.1 725.43,305.9 725.52,303.1 725.60,304.2 725.68,304.5 725.77,304.0 725.85,302.9 725.93,300.9 726.02,300.4 726.10,299.7 726.18,299.4 726.27,299.6 726.35,299.0 726.43,299.5 726.52,300.8 726.60,302.8 726.68,300.6 726.77,302.1 726.85,303.9 726.93,303.1 727.02,305.8 727.10,305.3 727.18,307.2 727.27,305.8 727.35,307.9 727.43,311.5 727.52,309.4 727.60,312.4 727.68,307.9 727.77,306.6 727.85,312.2 727.93,310.5 728.02,311.5 728.10,309.1 728.18,312.0 728.27,307.7 728.35,312.2 728.43,309.9 728.52,310.0 728.60,313.3 728.68,312.3 728.77,312.9 728.85,311.6 728.93,309.2 729.02,311.8 729.10,307.8 729.18,311.5 729.27,306.9 729.35,310.3 729.43,312.9 729.52,312.4 729.60,310.7 729.68,310.5 729.77,309.6 729.85,306.6 729.93,307.6 730.02,310.4 730.10,311.1 730.18,314.1 730.27,310.5 730.35,307.8 730.43,311.9 730.52,310.4 730.60,311.7 730.68,309.2 730.77,309.7 730.85,312.4 730.93,309.3 731.02,311.3 731.10,310.4 731.18,311.4 731.27,313.7 731.35,307.3 731.43,311.6 731.52,307.6 731.60,313.9 731.68,313.4 731.77,310.9 731.85,315.6 731.93,313.5 732.02,308.5 732.10,310.1 732.18,310.2 732.27,312.4 732.35,310.6 732.43,312.4 732.52,313.3 732.60,314.0 732.68,311.1 732.77,314.4 732.85,312.4 732.93,312.3 733.02,310.9 733.10,313.4 733.18,314.4 733.27,312.2 733.35,309.4 733.43,312.9 733.52,314.3 733.60,310.7 733.68,312.9 733.77,310.7 733.85,314.2 733.93,311.1 734.02,307.4 734.10,310.4 734.18,307.7 734.27,311.7 734.35,314.4 734.43,313.8 734.52,311.4 734.60,310.1 734.68,311.3 734.77,312.9 734.85,311.8 734.93,311.7 735.02,309.4 735.10,311.6 735.18,308.4 735.27,310.7 735.35,310.7 735.43,310.8 735.52,309.1 735.60,313.0 735.68,313.5 735.77,314.4 735.85,311.2 735.93,311.3 736.02,312.1 736.10,311.2 736.18,311.5 736.27,313.7 736.35,308.5 736.43,313.1 736.52,312.1 736.60,312.5 736.68,307.7 736.77,312.8 736.85,307.7 736.93,307.5 737.02,309.0 737.10,310.5 737.18,307.6 737.27,311.1 737.35,307.6 737.43,309.3 737.52,309.8 737.60,309.6 737.68,308.3 737.77,311.8 737.85,307.2 737.93,306.5 738.02,311.2 738.10,307.0 738.18,309.4 738.27,310.1 738.35,306.7 738.43,311.6 738.52,308.0 738.60,309.1 738.68,305.8 738.77,309.7 738.85,311.5 738.93,310.6 739.02,311.1 739.10,309.8 739.18,307.5 739.27,310.5 739.35,308.1 739.43,306.9 739.52,307.0 739.60,309.8 739.68,308.6 739.77,310.8 739.85,309.6 739.93,305.4 740.02,308.5 740.10,309.1 740.18,308.4 740.27,304.7 740.35,309.5 740.43,306.3 740.52,305.3 740.60,306.8 740.68,302.1 740.77,305.5 740.85,303.6 740.93,304.7 741.02,304.9 741.10,304.7 741.18,306.2 741.27,306.6 741.35,307.5 741.43,308.3 741.52,308.9 741.60,305.6 741.68,306.3 741.77,311.1 741.85,310.7 741.93,308.1 742.02,309.6 742.10,305.5 742.18,309.0 742.27,309.9 742.35,309.2 742.43,308.7 742.52,310.4 742.60,308.6 742.68,310.5 742.77,310.9 742.85,309.8 742.93,306.3 743.02,309.4 743.10,311.2 743.18,309.1 743.27,310.9 743.35,311.6 743.43,311.7 743.52,314.7 743.60,314.1 743.68,309.7 743.77,311.3 743.85,313.1 743.93,308.7 744.02,310.1 744.10,308.5 744.18,312.6 744.27,313.8 744.35,308.0 744.43,308.2 744.52,309.4 744.60,308.7 744.68,311.8 744.77,308.5 744.85,314.2 744.93,313.4 745.02,308.0 745.10,312.4 745.18,310.0 745.27,309.6 745.35,308.4 745.43,310.5 745.52,311.9 745.60,314.6 745.68,311.2 745.77,311.3 745.85,310.1 745.93,312.6 746.02,311.6 746.10,312.0 746.18,309.2 746.27,306.7 746.35,311.9 746.43,310.9 746.52,306.4 746.60,312.1 746.68,308.7 746.77,308.5 746.85,313.5 746.93,310.6 747.02,311.2 747.10,312.1 747.18,313.2 747.27,313.0 747.35,314.0 747.43,313.0 747.52,307.1 747.60,309.5 747.68,310.5 747.77,314.5 747.85,311.6 747.93,313.9 748.02,315.1 748.10,313.3 748.18,311.2 748.27,310.0 748.35,312.1 748.43,310.7 748.52,312.3 748.60,308.4 748.68,307.0 748.77,310.7 748.85,312.4 748.93,309.6 749.02,311.6 749.10,313.5 749.18,311.0 749.27,306.6 749.35,312.1 749.43,309.9 749.52,311.9 749.60,308.9 749.68,311.3 749.77,311.6 749.85,309.6 749.93,308.1 750.02,312.9 750.10,307.6 750.18,308.0 750.27,309.3 750.35,305.6 750.43,309.4 750.52,308.8 750.60,306.8 750.68,308.2 750.77,305.4 750.85,305.6 750.93,305.5 751.02,305.3 751.10,307.1 751.18,303.5 751.27,307.5 751.35,307.4 751.43,304.1 751.52,307.3 751.60,308.4 751.68,310.6 751.77,307.3 751.85,313.0 751.93,313.6 752.02,313.4 752.10,312.8 752.18,311.4 752.27,310.7 752.35,311.1 752.43,314.4 752.52,310.9 752.60,310.5 752.68,312.3 752.77,309.1 752.85,310.0 752.93,308.8 753.02,309.0 753.10,310.0 753.18,311.2 753.27,307.8 753.35,310.5 753.43,311.3 753.52,311.6 753.60,312.6 753.68,311.7 753.77,313.6 753.85,308.2 753.93,312.1 754.02,313.8 754.10,310.9 754.18,312.1 754.27,314.8 754.35,312.9 754.43,309.5 754.52,311.0 754.60,307.4 754.68,310.1 754.77,310.0 754.85,311.1 754.93,311.3 755.02,310.8 755.10,311.8 755.18,311.4 755.27,309.7 755.35,314.4 755.43,312.8 755.52,306.8 755.60,312.9 755.68,310.9 755.77,314.3 755.85,310.7 755.93,308.3 756.02,308.0 756.10,313.8 756.18,312.3 756.27,309.8 756.35,314.2 756.43,312.8 756.52,310.9 756.60,310.7 756.68,314.6 756.77,311.3 756.85,308.9 756.93,311.1 757.02,310.0 757.10,313.3 757.18,311.6 757.27,312.0 757.35,314.7 757.43,313.7 757.52,310.3 757.60,312.0 757.68,311.1 757.77,310.1 757.85,314.1 757.93,313.1 758.02,309.3 758.10,311.4 758.18,312.3 758.27,312.7 758.35,314.2 758.43,310.7 758.52,308.5 758.60,311.2 758.68,308.7 758.77,310.9 758.85,315.0 758.93,311.2 759.02,313.2 759.10,311.9 759.18,307.5 759.27,313.6 759.35,313.0 759.43,309.0 759.52,309.7 759.60,313.7 759.68,312.0 759.77,312.2 759.85,310.3 759.93,309.4 760.02,310.4 760.10,310.5 760.18,312.9 760.27,310.2 760.35,308.2 760.43,313.9 760.52,310.7 760.60,313.6 760.68,307.5 760.77,309.7 760.85,312.9 760.93,310.9 761.02,312.2 761.10,309.4 761.18,311.1 761.27,310.5 761.35,310.1 761.43,310.3 761.52,310.5 761.60,308.3 761.68,310.2 761.77,311.2 761.85,308.5 761.93,308.3 762.02,314.0 762.10,315.2 762.18,311.0 762.27,312.1 762.35,313.2 762.43,309.8 762.52,309.8 762.60,307.9 762.68,308.6 762.77,309.6 762.85,310.2 762.93,306.9 763.02,309.5 763.10,311.8 763.18,311.2 763.27,314.2 763.35,307.2 763.43,313.3 763.52,313.8 763.60,311.4 763.68,313.6 763.77,311.7 763.85,311.4 763.93,308.0 764.02,309.4 764.10,308.8 764.18,310.1 764.27,312.5 764.35,309.8 764.43,311.4 764.52,310.8 764.60,314.8 764.68,314.9 764.77,312.4 764.85,313.9 764.93,313.8 765.02,311.9 765.10,307.2 765.18,309.4 765.27,308.2 765.35,313.4 765.43,311.7 765.52,312.3 765.60,311.6 765.68,311.9 765.77,315.0 765.85,310.9 765.93,311.3 766.02,312.0 766.10,310.5 766.18,308.1 766.27,309.2 766.35,309.9 766.43,309.4 766.52,308.8 766.60,314.4 766.68,312.4 766.77,310.3 766.85,311.5 766.93,309.0 767.02,314.5 767.10,308.9 767.18,310.5 767.27,311.7 767.35,314.5 767.43,309.4 767.52,313.4 767.60,311.5 767.68,310.1 767.77,309.6 767.85,313.9 767.93,312.3 768.02,308.9 768.10,311.3 768.18,312.0 768.27,308.1 768.35,312.4 768.43,309.9 768.52,311.4 768.60,311.5 768.68,311.3 768.77,315.1 768.85,313.7 768.93,312.0 769.02,310.6 769.10,309.2 769.18,311.0 769.27,310.4 769.35,310.9 769.43,308.9 769.52,311.1 769.60,310.2 769.68,308.5 769.77,309.9 769.85,310.3 769.93,313.0 770.02,307.5 770.10,308.3 770.18,307.1 770.27,307.4 770.35,307.0 770.43,307.8 770.52,314.3 770.60,306.4 770.68,310.6 770.77,310.3 770.85,307.4 770.93,311.5 771.02,309.2 771.10,312.5 771.18,310.2 771.27,306.7 771.35,310.2 771.43,309.8 771.52,311.3 771.60,306.8 771.68,307.9 771.77,308.1 771.85,304.0 771.93,305.5 772.02,304.7 772.10,304.1 772.18,302.3 772.27,302.8 772.35,303.7 772.43,302.8 772.52,304.3 772.60,305.3 772.68,305.0 772.77,304.9 772.85,304.5 772.93,307.7 773.02,309.1 773.10,308.3 773.18,306.7 773.27,307.4 773.35,311.8 773.43,310.3 773.52,311.4 773.60,307.5 773.68,309.3 773.77,308.3 773.85,306.6 773.93,309.1 774.02,307.0 774.10,308.8 774.18,309.8 774.27,307.6 774.35,309.0 774.43,307.0 774.52,308.7 774.60,303.5 774.68,304.0 774.77,303.2 774.85,302.8 774.93,302.2 775.02,302.2 775.10,300.5 775.18,301.5 775.27,302.5 775.35,301.9 775.43,305.4 775.52,304.6 775.60,305.4 775.68,303.9 775.77,306.3 775.85,307.3 775.93,305.6 776.02,309.5 776.10,309.3 776.18,305.7 776.27,312.9 776.35,307.9 776.43,308.7 776.52,311.5 776.60,309.7 776.68,310.6 776.77,308.9 776.85,310.2 776.93,309.9 777.02,310.2 777.10,308.9 777.18,310.8 777.27,313.9 777.35,310.8 777.43,311.0 777.52,308.9 777.60,312.5 777.68,309.1 777.77,314.0 777.85,308.4 777.93,310.1 778.02,311.4 778.10,311.1 778.18,312.7 778.27,307.0 778.35,313.0 778.43,308.3 778.52,312.2 778.60,312.2 778.68,311.1 778.77,312.0 778.85,312.9 778.93,311.1 779.02,310.7 779.10,313.5 779.18,308.7 779.27,310.3 779.35,312.0 779.43,308.3 779.52,309.2 779.60,310.4 779.68,311.4 779.77,308.1 779.85,310.5 779.93,311.4 780.02,314.2 780.10,307.4 780.18,309.3 780.27,309.1 780.35,312.9 780.43,314.1 780.52,310.8 780.60,311.2 780.68,314.7 780.77,311.9 780.85,309.8 780.93,310.2 781.02,312.1 781.10,311.9 781.18,310.6 781.27,310.1 781.35,313.2 781.43,312.4 781.52,310.7 781.60,313.2 781.68,315.0 781.77,314.7 781.85,312.0 781.93,310.8 782.02,310.3 782.10,312.9 782.18,309.0 782.27,307.4 782.35,311.5 782.43,312.3 782.52,310.4 782.60,311.8 782.68,310.4 782.77,308.8 782.85,309.7 782.93,312.4 783.02,313.0 783.10,311.7 783.18,311.5 783.27,311.3 783.35,312.5 783.43,310.1 783.52,309.7 783.60,308.3 783.68,309.0 783.77,313.5 783.85,309.0 783.93,314.6 784.02,311.2 784.10,309.5 784.18,311.5 784.27,312.5 784.35,313.0 784.43,312.0 784.52,309.2 784.60,313.1 784.68,312.7 784.77,312.4 784.85,309.0 784.93,307.5"/>
<polyline points="10.40,802.2 10.48,800.8 10.57,804.4 10.65,800.2 10.73,795.1 10.82,802.6 10.90,798.3 10.98,797.4 11.07,799.0 11.15,801.9 11.23,795.9 11.32,801.5 11.40,793.4 11.48,797.3 11.57,802.6 11.65,805.1 11.73,798.2 11.82,798.1 11.90,802.7 11.98,802.7 12.07,801.1 12.15,804.5 12.23,803.7 12.32,798.9 12.40,800.1 12.48,804.2 12.57,797.7 12.65,801.4 12.73,805.3 12.82,801.3 12.90,801.0 12.98,800.7 13.07,803.0 13.15,799.9 13.23,802.6 13.32,798.1 13.40,804.7 13.48,799.9 13.57,803.0 13.65,805.4 13.73,804.8 13.82,799.7 13.90,805.6 13.98,805.3 14.07,799.1 14.15,806.0 14.23,804.8 14.32,803.3 14.40,802.2 14.48,808.2 14.57,806.0 14.65,807.2 14.73,801.8 14.82,805.0 14.90,804.4 14.98,807.0 15.07,802.5 15.15,806.8 15.23,806.5 15.32,800.7 15.40,805.5 15.48,803.4 15.57,807.6 15.65,802.8 15.73,809.8 15.82,805.1 15.90,803.7 15.98,802.3 16.07,807.1 16.15,801.1 16.23,806.7 16.32,805.1 16.40,806.3 16.48,803.4 16.57,804.0 16.65,803.9 16.73,802.9 16.82,806.2 16.90,807.0 16.98,804.8 17.07,806.4 17.15,807.3 17.23,803.3 17.32,808.4 17.40,810.0 17.48,807.1 17.57,805.0 17.65,810.3 17.73,806.5 17.82,809.9 17.90,807.4 17.98,809.3 18.07,804.4 18.15,809.0 18.23,806.2 18.32,807.4 18.40,810.9 18.48,807.3 18.57,805.0 18.65,806.3 18.73,805.0 18.82,806.5 18.90,804.5 18.98,809.7 19.07,811.7 19.15,805.5 19.23,808.0 19.32,810.7 19.40,811.0 19.48,810.5 19.57,807.8 19.65,806.9 19.73,808.4 19.82,812.0 19.90,812.3 19.98,806.3 20.07,806.4 20.15,807.1 20.23,807.2 20.32,812.7 20.40,806.9 20.48,804.9 20.57,810.8 20.65,809.2 20.73,808.3 20.82,808.7 20.90,809.3 20.98,807.6 21.07,808.4 21.15,810.1 21.23,808.6 21.32,811.5 21.40,807.0 21.48,809.1 21.57,807.8 21.65,808.9 21.73,808.1 21.82,811.2 21.90,810.7 21.98,809.8 22.07,808.1 22.15,811.6 22.23,808.1 22.32,809.8 22.40,810.7 22.48,806.0 22.57,811.4 22.65,813.3 22.73,813.3 22.82,810.9 22.90,807.6 22.98,811.2 23.07,811.3 23.15,809.7 23.23,811.0 23.32,810.5 23.40,812.5 23.48,809.6 23.57,812.1 23.65,813.8 23.73,813.7 23.82,808.8 23.90,814.4 23.98,812.1 24.07,813.7 24.15,813.4 24.23,812.4 24.32,809.9 24.40,812.8 24.48,814.2 24.57,812.3 24.65,809.0 24.73,812.4 24.82,813.5 24.90,809.3 24.98,811.1 25.07,811.7 25.15,813.9 25.23,809.8 25.32,810.2 25.40,814.9 25.48,815.0 25.57,811.3 25.65,807.6 25.73,811.5 25.82,811.5 25.90,809.6 25.98,812.3 26.07,814.8 26.15,815.8 26.23,816.2 26.32,812.2 26.40,811.3 26.48,812.4 26.57,812.0 26.65,814.7 26.73,814.9 26.82,814.4 26.90,816.2 26.98,817.2 27.07,812.5 27.15,809.4 27.23,812.2 27.32,816.3 27.40,811.7 27.48,816.5 27.57,814.6 27.65,814.0 27.73,809.0 27.82,814.5 27.90,810.8 27.98,814.9 28.07,811.0 28.15,811.1 28.23,813.6 28.32,814.9 28.40,812.4 28.48,809.5 28.57,807.2 28.65,810.9 28.73,812.6 28.82,811.8 28.90,811.9 28.98,815.5 29.07,815.2 29.15,815.3 29.23,813.2 29.32,811.3 29.40,811.2 29.48,816.7 29.57,812.1 29.65,816.1 29.73,810.4 29.82,812.4 29.90,814.3 29.98,811.5 30.07,815.0 30.15,814.2 30.23,816.5 30.32,813.7 30.40,818.1 30.48,813.2 30.57,814.1 30.65,817.1 30.73,813.4 30.82,818.3 30.90,814.6 30.98,814.3 31.07,811.4 31.15,817.1 31.23,812.3 31.32,812.7 31.40,813.9 31.48,812.6 31.57,810.1 31.65,816.4 31.73,815.6 31.82,812.1 31.90,811.9 31.98,812.9 32.07,817.7 32.15,814.5 32.23,815.9 32.32,814.7 32.40,815.6 32.48,812.7 32.57,814.5 32.65,815.2 32.73,816.1 32.82,815.3 32.90,812.7 32.98,813.8 33.07,817.1 33.15,815.1 33.23,813.8 33.32,814.4 33.40,815.2 33.48,813.4 33.57,811.5 33.65,817.4 33.73,815.2 33.82,816.1 33.90,814.2 33.98,816.0 34.07,814.3 34.15,812.3 34.23,813.0 34.32,814.7 34.40,813.3 34.48,813.8 34.57,815.8 34.65,812.3 34.73,817.3 34.82,815.6 34.90,813.8 34.98,818.0 35.07,815.9 35.15,814.5 35.23,817.0 35.32,818.4 35.40,824.8 35.48,811.6 35.57,815.8 35.65,817.2 35.73,812.9 35.82,815.1 35.90,815.0 35.98,813.7 36.07,816.3 36.15,816.5 36.23,815.4 36.32,817.8 36.40,813.9 36.48,816.8 36.57,812.7 36.65,815.6 36.73,816.2 36.82,815.3 36.90,817.4 36.98,817.4 37.07,813.8 37.15,813.7 37.23,819.2 37.32,814.6 37.40,817.0 37.48,818.0 37.57,812.2 37.65,815.7 37.73,813.4 37.82,815.0 37.90,818.6 37.98,813.9 38.07,813.1 38.15,819.7 38.23,817.8 38.32,816.9 38.40,812.9 38.48,816.2 38.57,814.7 38.65,815.4 38.73,816.1 38.82,809.9 38.90,815.1 38.98,808.9 39.07,812.4 39.15,810.3 39.23,810.1 39.32,807.3 39.40,807.6 39.48,807.8 39.57,807.4 39.65,810.1 39.73,811.4 39.82,809.7 39.90,814.2 39.98,815.4 40.07,813.0 40.15,812.8 40.23,819.9 40.32,816.7 40.40,812.0 40.48,816.4 40.57,816.2 40.65,814.0 40.73,813.4 40.82,815.3 40.90,815.5 40.98,817.2 41.07,817.5 41.15,818.8 41.23,816.2 41.32,814.4 41.40,814.3 41.48,820.1 41.57,814.7 41.65,816.8 41.73,814.2 41.82,816.3 41.90,815.5 41.98,820.0 42.07,818.4 42.15,812.2 42.23,816.0 42.32,818.4 42.40,815.9 42.48,814.9 42.57,815.6 42.65,814.6 42.73,816.1 42.82,818.0 42.90,820.8 42.98,817.6 43.07,821.1 43.15,814.5 43.23,816.5 43.32,814.5 43.40,814.6 43.48,814.6 43.57,819.2 43.65,815.7 43.73,819.4 43.82,818.5 43.90,819.8 43.98,816.5 44.07,817.2 44.15,821.1 44.23,816.5 44.32,814.6 44.40,816.7 44.48,814.6 44.57,814.6 44.65,818.6 44.73,820.0 44.82,819.1 44.90,817.2 44.98,821.8 45.07,817.7 45.15,820.8 45.23,816.9 45.32,819.9 45.40,820.5 45.48,820.4 45.57,819.9 45.65,817.3 45.73,820.1 45.82,816.4 45.90,816.8 45.98,817.0 46.07,821.7 46.15,817.8 46.23,814.0 46.32,821.1 46.40,819.1 46.48,818.6 46.57,817.7 46.65,814.7 46.73,817.7 46.82,821.3 46.90,818.1 46.98,817.9 47.07,817.1 47.15,816.6 47.23,816.6 47.32,815.0 47.40,817.9 47.48,815.2 47.57,818.1 47.65,815.8 47.73,815.8 47.82,819.7 47.90,817.9 47.98,817.2 48.07,819.5 48.15,816.3 48.23,819.4 48.32,817.1 48.40,817.1 48.48,818.6 48.57,817.3 48.65,818.2 48.73,817.5 48.82,818.6 48.90,819.3 48.98,820.3 49.07,816.9 49.15,818.2 49.23,816.2 49.32,819.7 49.40,817.4 49.48,818.2 49.57,820.0 49.65,822.7 49.73,816.8 49.82,815.1 49.90,818.6 49.98,820.0 50.07,815.8 50.15,822.5 50.23,816.8 50.32,815.2 50.40,817.7 50.48,816.8 50.57,818.9 50.65,818.3 50.73,818.8 50.82,819.4 50.90,820.9 50.98,815.7 51.07,819.2 51.15,822.2 51.23,822.9 51.32,817.9 51.40,821.8 51.48,821.4 51.57,817.4 51.65,817.8 51.73,822.0 51.82,817.2 51.90,817.8 51.98,820.2 52.07,818.8 52.15,820.0 52.23,818.6 52.32,820.6 52.40,820.3 52.48,819.3 52.57,817.0 52.65,817.6 52.73,819.2 52.82,818.1 52.90,818.0 52.98,817.7 53.07,819.4 53.15,819.5 53.23,819.8 53.32,821.9 53.40,819.5 53.48,821.6 53.57,821.5 53.65,820.8 53.73,819.2 53.82,820.2 53.90,820.2 53.98,817.4 54.07,818.9 54.15,821.8 54.23,818.1 54.32,820.7 54.40,817.9 54.48,818.4 54.57,822.3 54.65,815.7 54.73,819.4 54.82,818.3 54.90,821.8 54.98,820.1 55.07,821.3 55.15,819.3 55.23,817.4 55.32,819.1 55.40,819.3 55.48,817.4 55.57,820.3 55.65,820.7 55.73,818.1 55.82,817.5 55.90,819.7 55.98,816.9 56.07,818.9 56.15,814.0 56.23,815.3 56.32,815.9 56.40,815.9 56.48,811.3 56.57,812.6 56.65,815.0 56.73,813.1 56.82,811.2 56.90,811.4 56.98,812.3 57.07,812.3 57.15,814.0 57.23,813.6 57.32,815.3 57.40,817.6 57.48,818.4 57.57,818.7 57.65,817.4 57.73,819.4 57.82,818.6 57.90,815.5 57.98,819.0 58.07,819.3 58.15,820.4 58.23,816.1 58.32,821.0 58.40,821.0 58.48,821.9 58.57,820.3 58.65,818.3 58.73,822.5 58.82,819.9 58.90,821.7 58.98,817.8 59.07,818.7 59.15,820.3 59.23,816.8 59.32,819.2 59.40,823.2 59.48,817.9 59.57,817.5 59.65,819.9 59.73,819.6 59.82,823.6 59.90,823.3 59.98,817.3 60.07,819.2 60.15,820.8 60.23,820.7 60.32,816.2 60.40,820.0 60.48,821.8 60.57,819.3 60.65,822.6 60.73,817.7 60.82,821.2 60.90,818.2 60.98,819.8 61.07,818.4 61.15,816.9 61.23,817.8 61.32,821.7 61.40,822.7 61.48,818.9 61.57,820.3 61.65,817.7 61.73,821.4 61.82,821.2 61.90,820.1 61.98,818.8 62.07,819.1 62.15,817.6 62.23,819.8 62.32,819.0 62.40,822.1 62.48,820.4 62.57,823.3 62.65,818.3 62.73,818.4 62.82,821.3 62.90,818.8 62.98,821.4 63.07,821.8 63.15,816.8 63.23,818.0 63.32,819.3 63.40,820.5 63.48,818.4 63.57,819.1 63.65,819.3 63.73,815.0 63.82,817.8 63.90,819.6 63.98,813.6 64.07,815.7 64.15,814.3 64.23,814.2 64.32,812.9 64.40,812.0 64.48,810.2 64.57,808.4 64.65,807.6 64.73,806.6 64.82,805.4 64.90,805.2 64.98,803.6 65.07,802.5 65.15,801.4 65.23,800.9 65.32,800.1 65.40,800.5 65.48,800.7 65.57,801.3 65.65,801.6 65.73,802.9 65.82,803.9 65.90,804.5 65.98,805.3 66.07,807.2 66.15,809.0 66.23,810.6 66.32,810.4 66.40,812.7 66.48,811.6 66.57,812.1 66.65,813.7 66.73,814.6 66.82,818.5 66.90,817.2 66.98,818.0 67.07,814.3 67.15,816.5 67.23,818.8 67.32,815.2 67.40,820.9 67.48,816.5 67.57,821.3 67.65,817.2 67.73,818.1 67.82,818.7 67.90,818.1 67.98,816.8 68.07,817.5 68.15,818.9 68.23,822.4 68.32,821.1 68.40,821.3 68.48,818.1 68.57,819.9 68.65,821.1 68.73,820.9 68.82,818.9 68.90,821.1 68.98,820.8 69.07,818.8 69.15,821.5 69.23,821.1 69.32,823.8 69.40,821.0 69.48,822.9 69.57,818.5 69.65,819.4 69.73,822.5 69.82,817.5 69.90,819.0 69.98,820.6 70.07,818.2 70.15,818.8 70.23,819.1 70.32,818.9 70.40,818.8 70.48,817.5 70.57,819.6 70.65,818.3 70.73,821.9 70.82,821.6 70.90,821.8 70.98,820.6 71.07,821.0 71.15,820.4 71.23,818.2 71.32,820.3 71.40,822.3 71.48,819.2 71.57,819.8 71.65,822.2 71.73,821.6 71.82,820.6 71.90,820.0 71.98,819.6 72.07,824.4 72.15,817.7 72.23,819.4 72.32,822.7 72.40,818.5 72.48,820.7 72.57,823.8 72.65,822.0 72.73,823.4 72.82,821.5 72.90,821.2 72.98,821.7 73.07,819.4 73.15,817.4 73.23,823.6 73.32,816.5 73.40,818.3 73.48,818.4 73.57,823.4 73.65,820.4 73.73,819.8 73.82,820.8 73.90,822.4 73.98,818.2 74.07,821.9 74.15,821.1 74.23,819.9 74.32,820.6 74.40,821.7 74.48,817.5 74.57,822.2 74.65,822.6 74.73,820.4 74.82,819.0 74.90,818.2 74.98,821.3 75.07,821.5 75.15,818.7 75.23,818.7 75.32,818.6 75.40,820.6 75.48,821.7 75.57,819.3 75.65,820.2 75.73,818.5 75.82,819.2 75.90,817.5 75.98,818.8 76.07,822.6 76.15,820.0 76.23,820.1 76.32,821.9 76.40,820.8 76.48,820.4 76.57,820.4 76.65,819.9 76.73,818.4 76.82,821.0 76.90,822.9 76.98,820.5 77.07,823.7 77.15,816.6 77.23,819.4 77.32,818.5 77.40,818.7 77.48,816.0 77.57,819.3 77.65,814.9 77.73,815.7 77.82,815.4 77.90,814.3 77.98,812.4 78.07,815.0 78.15,811.9 78.23,815.9 78.32,816.3 78.40,814.1 78.48,816.8 78.57,816.8 78.65,820.5 78.73,820.9 78.82,822.8 78.90,819.7 78.98,820.9 79.07,823.8 79.15,816.2 79.23,819.4 79.32,824.0 79.40,818.3 79.48,823.3 79.57,817.2 79.65,819.4 79.73,816.9 79.82,820.3 79.90,823.9 79.98,823.5 80.07,820.7 80.15,822.1 80.23,818.9 80.32,819.3 80.40,822.8 80.48,820.5 80.57,820.7 80.65,817.8 80.73,820.2 80.82,816.2 80.90,818.3 80.98,817.8 81.07,822.5 81.15,817.7 81.23,819.6 81.32,822.1 81.40,820.0 81.48,823.2 81.57,820.3 81.65,820.1 81.73,822.0 81.82,817.9 81.90,820.3 81.98,816.9 82.07,818.7 82.15,817.5 82.23,822.1 82.32,820.0 82.40,823.8 82.48,821.1 82.57,819.5 82.65,821.1 82.73,818.7 82.82,818.4 82.90,817.5 82.98,820.2 83.07,820.2 83.15,818.6 83.23,821.0 83.32,816.7 83.40,822.4 83.48,821.6 83.57,817.1 83.65,818.2 83.73,819.5 83.82,821.4 83.90,821.3 83.98,819.4 84.07,817.2 84.15,824.4 84.23,818.4 84.32,819.5 84.40,816.8 84.48,820.8 84.57,821.2 84.65,819.4 84.73,821.6 84.82,820.8 84.90,823.4 84.98,819.0 85.07,818.1 85.15,819.0 85.23,820.7 85.32,818.5 85.40,822.7 85.48,818.5 85.57,822.8 85.65,819.8 85.73,820.1 85.82,819.1 85.90,819.1 85.98,822.3 86.07,821.3 86.15,820.7 86.23,823.5 86.32,819.9 86.40,817.5 86.48,817.9 86.57,821.5 86.65,816.7 86.73,819.3 86.82,818.3 86.90,818.4 86.98,821.6 87.07,819.7 87.15,824.0 87.23,818.9 87.32,818.5 87.40,820.4 87.48,819.2 87.57,820.4 87.65,817.8 87.73,822.0 87.82,821.7 87.90,821.3 87.98,817.4 88.07,816.8 88.15,821.9 88.23,817.9 88.32,820.8 88.40,822.3 88.48,820.2 88.57,822.8 88.65,816.5 88.73,819.2 88.82,820.7 88.90,822.6 88.98,821.9 89.07,819.4 89.15,821.1 89.23,822.6 89.32,819.8 89.40,817.7 89.48,817.9 89.57,823.6 89.65,820.4 89.73,821.6 89.82,820.9 89.90,823.3 89.98,822.9 90.07,818.6 90.15,821.0 90.23,820.6 90.32,816.8 90.40,819.4 90.48,820.3 90.57,820.2 90.65,819.8 90.73,824.1 90.82,818.7 90.90,818.4 90.98,818.1 91.07,820.2 91.15,822.9 91.23,819.5 91.32,816.3 91.40,817.0 91.48,818.7 91.57,818.3 91.65,820.3 91.73,817.4 91.82,818.7 91.90,815.1 91.98,816.5 92.07,814.5 92.15,809.2 92.23,806.4 92.32,801.4 92.40,797.0 92.48,791.5 92.57,786.2 92.65,781.3 92.73,777.5 92.82,774.8 92.90,773.9 92.98,774.8 93.07,777.3 93.15,781.4 93.23,786.1 93.32,791.3 93.40,797.2 93.48,801.2 93.57,805.8 93.65,808.3 93.73,812.8 93.82,815.5 93.90,817.0 93.98,816.1 94.07,820.3 94.15,819.2 94.23,817.8 94.32,819.6 94.40,823.1 94.48,819.7 94.57,816.3 94.65,819.7 94.73,818.9 94.82,823.0 94.90,819.7 94.98,820.6 95.07,817.3 95.15,816.2 95.23,821.6 95.32,820.4 95.40,820.5 95.48,820.3 95.57,819.6 95.65,820.2 95.73,818.2 95.82,820.2 95.90,820.3 95.98,821.1 96.07,816.8 96.15,816.9 96.23,819.4 96.32,817.7 96.40,817.9 96.48,822.3 96.57,820.5 96.65,821.3 96.73,818.3 96.82,817.9 96.90,820.8 96.98,818.9 97.07,818.2 97.15,818.7 97.23,817.1 97.32,819.0 97.40,817.0 97.48,816.8 97.57,816.7 97.65,820.1 97.73,815.9 97.82,818.8 97.90,818.7 97.98,817.8 98.07,817.1 98.15,817.2 98.23,815.7 98.32,816.8 98.40,811.9 98.48,813.9 98.57,813.9 98.65,809.7 98.73,809.2 98.82,805.9 98.90,804.9 98.98,804.1 99.07,804.5 99.15,804.9 99.23,808.2 99.32,809.4 99.40,811.0 99.48,813.1 99.57,812.5 99.65,818.5 99.73,819.1 99.82,817.3 99.90,818.0 99.98,816.3 100.07,820.6 100.15,817.4 100.23,818.2 100.32,820.0 100.40,818.4 100.48,820.3 100.57,818.5 100.65,817.7 100.73,818.1 100.82,818.1 100.90,821.5 100.98,818.6 101.07,819.3 101.15,817.7 101.23,817.4 101.32,818.4 101.40,821.8 101.48,822.3 101.57,818.1 101.65,819.6 101.73,820.6 101.82,815.2 101.90,820.4 101.98,821.7 102.07,817.1 102.15,821.1 102.23,821.6 102.32,819.3 102.40,815.7 102.48,820.1 102.57,817.9 102.65,818.0 102.73,817.3 102.82,822.7 102.90,819.1 102.98,820.5 103.07,819.2 103.15,821.7 103.23,821.4 103.32,820.1 103.40,819.7 103.48,821.1 103.57,820.6 103.65,820.3 103.73,818.0 103.82,819.8 103.90,819.8 103.98,818.7 104.07,821.6 104.15,822.0 104.23,818.0 104.32,817.5 104.40,817.8 104.48,819.1 104.57,817.0 104.65,819.4 104.73,818.4 104.82,819.6 104.90,818.3 104.98,817.7 105.07,817.9 105.15,818.5 105.23,819.0 105.32,817.8 105.40,816.6 105.48,820.2 105.57,815.9 105.65,817.4 105.73,820.5 105.82,820.4 105.90,818.3 105.98,815.8 106.07,813.8 106.15,818.8 106.23,813.7 106.32,811.8 106.40,811.2 106.48,811.9 106.57,807.8 106.65,808.6 106.73,806.4 106.82,804.6 106.90,804.2 106.98,803.4 107.07,803.4 107.15,804.1 107.23,805.8 107.32,807.8 107.40,809.3 107.48,810.6 107.57,810.5 107.65,811.9 107.73,815.8 107.82,814.8 107.90,816.3 107.98,814.2 108.07,814.9 108.15,819.6 108.23,817.2 108.32,814.6 108.40,816.8 108.48,818.6 108.57,817.6 108.65,820.2 108.73,818.7 108.82,814.2 108.90,820.6 108.98,816.3 109.07,821.0 109.15,817.1 109.23,818.2 109.32,820.9 109.40,817.4 109.48,817.5 109.57,819.7 109.65,820.1 109.73,815.4 109.82,813.4 109.90,817.8 109.98,818.1 110.07,815.1 110.15,814.1 110.23,812.9 110.32,812.4 110.40,810.5 110.48,812.3 110.57,812.4 110.65,812.4 110.73,815.8 110.82,816.9 110.90,815.2 110.98,816.0 111.07,816.1 111.15,814.0 111.23,818.6 111.32,816.3 111.40,818.3 111.48,816.0 111.57,819.1 111.65,818.0 111.73,814.2 111.82,818.3 111.90,817.5 111.98,818.7 112.07,821.8 112.15,817.9 112.23,819.5 112.32,817.3 112.40,818.7 112.48,819.0 112.57,819.8 112.65,816.7 112.73,818.9 112.82,819.9 112.90,817.9 112.98,820.3 113.07,819.4 113.15,816.9 113.23,816.5 113.32,814.7 113.40,820.0 113.48,817.9 113.57,819.6 113.65,815.1 113.73,815.8 113.82,818.3 113.90,814.1 113.98,816.8 114.07,815.4 114.15,818.9 114.23,813.1 114.32,814.6 114.40,811.5 114.48,813.8 114.57,813.7 114.65,812.9 114.73,813.2 114.82,815.3 114.90,817.0 114.98,817.0 115.07,813.8 115.15,814.1 115.23,814.2 115.32,817.6 115.40,815.9 115.48,815.9 115.57,816.8 115.65,814.8 115.73,819.8 115.82,816.1 115.90,818.3 115.98,820.9 116.07,819.5 116.15,815.3 116.23,816.4 116.32,821.5 116.40,818.5 116.48,820.4 116.57,816.4 116.65,818.1 116.73,814.5 116.82,817.8 116.90,814.9 116.98,818.7 117.07,815.9 117.15,815.8 117.23,816.4 117.32,816.8 117.40,812.6 117.48,816.7 117.57,815.5 117.65,814.5 117.73,812.0 117.82,813.1 117.90,810.3 117.98,811.8 118.07,810.1 118.15,811.4 118.23,813.9 118.32,812.2 118.40,813.1 118.48,814.5 118.57,813.4 118.65,817.2 118.73,813.4 118.82,814.8 118.90,817.2 118.98,816.9 119.07,814.8 119.15,818.6 119.23,818.5 119.32,816.9 119.40,816.8 119.48,817.5 119.57,817.2 119.65,817.2 119.73,820.8 119.82,818.0 119.90,815.4 119.98,819.1 120.07,816.1 120.15,815.6 120.23,816.9 120.32,817.8 120.40,816.0 120.48,818.8 120.57,818.2 120.65,814.3 120.73,814.1 120.82,816.8 120.90,815.7 120.98,812.4 121.07,816.9 121.15,816.0 121.23,811.0 121.32,812.6 121.40,814.7 121.48,812.6 121.57,815.4 121.65,810.1 121.73,811.2 121.82,807.8 121.90,807.3 121.98,806.4 122.07,808.2 122.15,804.8 122.23,802.7 122.32,798.7 122.40,795.7 122.48,786.2 122.57,772.5 122.65,750.3 122.73,718.4 122.82,678.3 122.90,634.9 122.98,597.3 123.07,576.1 123.15,578.6 123.23,603.8 123.32,643.3 123.40,686.6 123.48,725.4 123.57,755.1 123.65,775.4 123.73,788.2 123.82,794.2 123.90,798.5 123.98,800.5 124.07,803.2 124.15,805.8 124.23,807.6 124.32,806.7 124.40,811.2 124.48,809.4 124.57,808.1 124.65,811.7 124.73,810.1 124.82,815.0 124.90,811.7 124.98,809.7 125.07,812.2 125.15,815.9 125.23,816.7 125.32,813.5 125.40,817.4 125.48,818.5 125.57,813.6 125.65,812.6 125.73,818.5 125.82,814.9 125.90,818.3 125.98,812.2 126.07,815.5 126.15,814.9 126.23,817.3 126.32,816.7 126.40,819.0 126.48,816.1 126.57,814.7 126.65,814.9 126.73,817.0 126.82,816.5 126.90,814.0 126.98,813.9 127.07,812.5 127.15,815.3 127.23,811.3 127.32,812.6 127.40,813.4 127.48,814.2 127.57,808.5 127.65,812.6 127.73,808.5 127.82,810.0 127.90,809.2 127.98,808.6 128.07,809.9 128.15,806.0 128.23,807.2 128.32,801.4 128.40,804.7 128.48,804.6 128.57,802.9 128.65,798.2 128.73,796.9 128.82,792.7 128.90,788.8 128.98,785.8 129.07,780.2 129.15,774.4 129.23,767.9 129.32,761.0 129.40,754.6 129.48,749.1 129.57,745.0 129.65,743.1 129.73,743.5 129.82,746.3 129.90,751.3 129.98,757.9 130.07,765.4 130.15,773.0 130.23,780.8 130.32,787.7 130.40,793.6 130.48,799.3 130.57,803.6 130.65,804.3 130.73,806.0 130.82,808.7 130.90,812.5 130.98,813.2 131.07,815.1 131.15,813.1 131.23,816.3 131.32,813.5 131.40,816.6 131.48,814.0 131.57,817.0 131.65,815.5 131.73,817.5 131.82,818.7 131.90,817.6 131.98,818.3 132.07,820.7 132.15,817.2 132.23,814.5 132.32,815.9 132.40,822.5 132.48,817.2 132.57,816.7 132.65,822.6 132.73,819.7 132.82,821.1 132.90,822.1 132.98,821.7 133.07,816.6 133.15,820.3 133.23,823.2 133.32,821.5 133.40,818.1 133.48,821.3 133.57,818.9 133.65,824.1 133.73,823.5 133.82,821.9 133.90,820.1 133.98,818.6 134.07,820.0 134.15,818.8 134.23,817.6 134.32,820.8 134.40,818.6 134.48,820.5 134.57,821.2 134.65,818.0 134.73,822.6 134.82,820.0 134.90,822.5 134.98,821.3 135.07,824.1 135.15,818.1 135.23,821.0 135.32,817.9 135.40,820.7 135.48,817.9 135.57,817.6 135.65,819.7 135.73,823.6 135.82,819.9 135.90,820.9 135.98,822.1 136.07,820.9 136.15,816.9 136.23,819.4 136.32,819.5 136.40,821.7 136.48,818.1 136.57,820.2 136.65,820.5 136.73,821.0 136.82,821.1 136.90,819.4 136.98,818.5 137.07,820.0 137.15,815.3 137.23,820.6 137.32,820.0 137.40,816.8 137.48,816.9 137.57,814.4 137.65,815.1 137.73,814.0 137.82,817.3 137.90,813.6 137.98,814.3 138.07,813.1 138.15,812.4 138.23,812.9 138.32,811.9 138.40,811.6 138.48,810.2 138.57,811.3 138.65,809.9 138.73,810.6 138.82,809.2 138.90,808.5 138.98,809.3 139.07,808.4 139.15,808.8 139.23,810.3 139.32,809.0 139.40,811.3 139.48,810.4 139.57,810.3 139.65,812.0 139.73,810.8 139.82,811.1 139.90,811.7 139.98,812.7 140.07,815.6 140.15,815.9 140.23,815.3 140.32,817.0 140.40,817.2 140.48,817.2 140.57,815.7 140.65,817.2 140.73,821.0 140.82,820.7 140.90,818.9 140.98,821.4 141.07,820.1 141.15,818.3 141.23,815.8 141.32,823.0 141.40,821.7 141.48,822.4 141.57,821.1 141.65,817.4 141.73,817.8 141.82,823.4 141.90,821.3 141.98,818.3 142.07,821.1 142.15,820.6 142.23,819.6 142.32,819.8 142.40,818.5 142.48,815.9 142.57,818.4 142.65,815.3 142.73,813.5 142.82,814.7 142.90,813.8 142.98,813.3 143.07,815.0 143.15,816.1 143.23,817.6 143.32,817.9 143.40,816.8 143.48,818.5 143.57,818.9 143.65,817.9 143.73,824.0 143.82,822.9 143.90,821.5 143.98,819.1 144.07,821.3 144.15,820.4 144.23,819.0 144.32,819.6 144.40,821.0 144.48,818.5 144.57,822.7 144.65,821.3 144.73,824.2 144.82,825.6 144.90,822.7 144.98,821.9 145.07,820.9 145.15,823.6 145.23,818.4 145.32,823.3 145.40,822.0 145.48,820.6 145.57,820.2 145.65,825.9 145.73,820.9 145.82,821.9 145.90,822.4 145.98,825.5 146.07,820.2 146.15,821.8 146.23,826.3 146.32,822.9 146.40,821.2 146.48,823.4 146.57,820.1 146.65,820.8 146.73,821.3 146.82,820.5 146.90,825.3 146.98,823.0 147.07,820.2 147.15,823.2 147.23,820.0 147.32,821.4 147.40,823.0 147.48,820.1 147.57,821.2 147.65,823.8 147.73,822.0 147.82,821.3 147.90,821.6 147.98,823.4 148.07,822.6 148.15,821.1 148.23,823.5 148.32,823.2 148.40,825.5 148.48,820.9 148.57,823.7 148.65,819.9 148.73,823.4 148.82,823.4 148.90,824.7 148.98,826.2 149.07,823.8 149.15,818.5 149.23,822.1 149.32,824.5 149.40,822.6 149.48,820.7 149.57,822.7 149.65,822.4 149.73,825.3 149.82,821.7 149.90,822.1 149.98,823.8 150.07,822.9 150.15,825.2 150.23,822.1 150.32,821.6 150.40,823.4 150.48,822.7 150.57,819.8 150.65,825.0 150.73,824.8 150.82,821.7 150.90,822.0 150.98,820.9 151.07,823.6 151.15,821.1 151.23,821.8 151.32,819.2 151.40,821.6 151.48,820.3 151.57,823.1 151.65,824.3 151.73,825.7 151.82,822.6 151.90,819.8 151.98,825.4 152.07,822.2 152.15,825.8 152.23,826.4 152.32,823.9 152.40,823.0 152.48,821.3 152.57,821.4 152.65,826.5 152.73,821.7 152.82,824.7 152.90,819.9 152.98,824.7 153.07,821.6 153.15,820.2 153.23,822.6 153.32,821.1 153.40,822.1 153.48,825.3 153.57,824.7 153.65,823.1 153.73,824.8 153.82,826.3 153.90,819.9 153.98,821.5 154.07,821.3 154.15,820.9 154.23,826.8 154.32,824.2 154.40,824.3 154.48,823.5 154.57,820.5 154.65,821.2 154.73,820.1 154.82,819.9 154.90,823.0 154.98,822.4 155.07,823.1 155.15,822.3 155.23,824.0 155.32,822.7 155.40,823.5 155.48,818.3 155.57,820.8 155.65,819.4 155.73,818.3 155.82,821.7 155.90,818.9 155.98,819.7 156.07,819.7 156.15,816.2 156.23,819.4 156.32,817.2 156.40,814.6 156.48,814.0 156.57,812.4 156.65,812.6 156.73,813.7 156.82,814.4 156.90,816.6 156.98,818.5 157.07,819.0 157.15,819.8 157.23,822.5 157.32,823.6 157.40,824.6 157.48,824.9 157.57,823.6 157.65,825.2 157.73,823.5 157.82,824.4 157.90,821.1 157.98,825.5 158.07,827.1 158.15,824.3 158.23,821.8 158.32,821.9 158.40,825.6 158.48,822.6 158.57,826.9 158.65,825.2 158.73,826.9 158.82,823.7 158.90,822.5 158.98,823.8 159.07,822.2 159.15,822.4 159.23,821.3 159.32,823.5 159.40,820.0 159.48,825.9 159.57,823.7 159.65,824.4 159.73,823.7 159.82,820.3 159.90,822.0 159.98,821.4 160.07,826.4 160.15,825.6 160.23,822.2 160.32,821.0 160.40,822.5 160.48,823.2 160.57,824.9 160.65,822.4 160.73,820.1 160.82,823.3 160.90,824.5 160.98,825.9 161.07,823.8 161.15,823.4 161.23,824.3 161.32,826.2 161.40,824.6 161.48,823.4 161.57,826.2 161.65,825.7 161.73,823.7 161.82,821.4 161.90,823.5 161.98,823.6 162.07,824.7 162.15,822.8 162.23,823.7 162.32,825.4 162.40,824.3 162.48,822.1 162.57,821.5 162.65,824.8 162.73,824.4 162.82,823.4 162.90,825.4 162.98,823.9 163.07,823.0 163.15,826.6 163.23,818.6 163.32,820.0 163.40,826.0 163.48,822.6 163.57,820.7 163.65,822.2 163.73,819.9 163.82,823.2 163.90,818.4 163.98,821.6 164.07,821.6 164.15,821.7 164.23,822.1 164.32,819.7 164.40,818.6 164.48,820.7 164.57,821.0 164.65,820.5 164.73,823.9 164.82,819.9 164.90,821.7 164.98,824.8 165.07,820.2 165.15,819.5 165.23,817.5 165.32,817.0 165.40,819.8 165.48,816.6 165.57,816.8 165.65,820.0 165.73,819.2 165.82,817.6 165.90,819.6 165.98,820.8 166.07,819.4 166.15,819.1 166.23,816.6 166.32,814.7 166.40,820.1 166.48,817.1 166.57,818.2 166.65,819.8 166.73,820.3 166.82,817.8 166.90,814.7 166.98,818.4 167.07,820.7 167.15,815.3 167.23,817.7 167.32,820.1 167.40,817.6 167.48,819.5 167.57,820.1 167.65,819.5 167.73,817.1 167.82,817.4 167.90,820.0 167.98,817.9 168.07,822.1 168.15,821.0 168.23,820.2 168.32,816.9 168.40,816.7 168.48,817.3 168.57,815.1 168.65,814.9 168.73,815.5 168.82,812.8 168.90,810.0 168.98,808.3 169.07,808.1 169.15,807.4 169.23,807.9 169.32,808.5 169.40,810.0 169.48,810.0 169.57,811.1 169.65,815.9 169.73,814.5 169.82,818.8 169.90,818.1 169.98,816.8 170.07,818.3 170.15,822.6 170.23,823.0 170.32,821.5 170.40,823.0 170.48,819.8 170.57,822.0 170.65,822.7 170.73,822.6 170.82,822.8 170.90,819.6 170.98,825.2 171.07,825.3 171.15,819.8 171.23,820.6 171.32,820.8 171.40,824.6 171.48,826.3 171.57,823.5 171.65,824.3 171.73,820.6 171.82,819.2 171.90,823.5 171.98,820.6 172.07,820.5 172.15,824.9 172.23,823.0 172.32,825.3 172.40,822.4 172.48,822.3 172.57,822.1 172.65,826.2 172.73,821.3 172.82,819.7 172.90,822.9 172.98,818.3 173.07,818.0 173.15,816.5 173.23,815.2 173.32,814.8 173.40,813.5 173.48,814.3 173.57,811.5 173.65,809.8 173.73,807.6 173.82,807.1 173.90,806.6 173.98,807.2 174.07,808.6 174.15,810.3 174.23,811.4 174.32,813.5 174.40,814.3 174.48,816.6 174.57,820.2 174.65,818.1 174.73,821.0 174.82,818.1 174.90,819.8 174.98,820.7 175.07,822.4 175.15,822.2 175.23,820.2 175.32,823.4 175.40,826.5 175.48,823.5 175.57,822.7 175.65,824.1 175.73,824.7 175.82,821.9 175.90,825.0 175.98,822.9 176.07,823.4 176.15,824.8 176.23,820.0 176.32,820.8 176.40,821.7 176.48,827.0 176.57,826.1 176.65,822.1 176.73,826.5 176.82,823.9 176.90,822.7 176.98,822.0 177.07,822.8 177.15,824.6 177.23,823.5 177.32,824.0 177.40,823.3 177.48,825.3 177.57,822.7 177.65,824.2 177.73,826.4 177.82,825.7 177.90,822.1 177.98,821.0 178.07,821.3 178.15,824.2 178.23,826.3 178.32,825.2 178.40,822.5 178.48,826.8 178.57,822.6 178.65,824.3 178.73,818.7 178.82,823.4 178.90,824.2 178.98,821.0 179.07,824.2 179.15,822.1 179.23,827.0 179.32,820.8 179.40,823.0 179.48,827.0 179.57,820.0 179.65,820.7 179.73,825.7 179.82,823.4 179.90,822.1 179.98,820.1 180.07,823.5 180.15,824.0 180.23,825.3 180.32,821.5 180.40,826.1 180.48,821.4 180.57,822.6 180.65,822.4 180.73,823.9 180.82,823.9 180.90,821.4 180.98,827.7 181.07,827.2 181.15,824.7 181.23,823.3 181.32,819.8 181.40,823.8 181.48,825.6 181.57,822.5 181.65,823.2 181.73,824.7 181.82,826.4 181.90,827.4 181.98,823.0 182.07,824.5 182.15,826.1 182.23,827.2 182.32,825.7 182.40,823.0 182.48,823.8 182.57,823.1 182.65,825.9 182.73,822.0 182.82,819.9 182.90,822.8 182.98,825.8 183.07,823.1 183.15,821.9 183.23,820.6 183.32,823.6 183.40,822.8 183.48,825.9 183.57,825.9 183.65,823.1 183.73,826.8 183.82,822.8 183.90,822.5 183.98,824.3 184.07,820.0 184.15,824.3 184.23,823.4 184.32,823.0 184.40,821.5 184.48,819.6 184.57,822.6 184.65,823.2 184.73,821.7 184.82,821.6 184.90,821.2 184.98,819.8 185.07,820.6 185.15,823.8 185.23,825.3 185.32,820.8 185.40,825.8 185.48,821.0 185.57,819.4 185.65,823.3 185.73,822.5 185.82,823.0 185.90,825.0 185.98,822.4 186.07,821.7 186.15,824.3 186.23,824.7 186.32,822.0 186.40,824.8 186.48,823.9 186.57,822.8 186.65,823.7 186.73,823.5 186.82,825.2 186.90,826.8 186.98,820.4 187.07,825.7 187.15,824.9 187.23,823.5 187.32,822.4 187.40,822.9 187.48,823.6 187.57,825.0 187.65,824.8 187.73,820.2 187.82,821.6 187.90,821.4 187.98,821.3 188.07,822.6 188.15,821.5 188.23,818.3 188.32,821.7 188.40,820.9 188.48,816.8 188.57,817.8 188.65,815.7 188.73,814.0 188.82,811.5 188.90,809.7 188.98,807.9 189.07,807.1 189.15,805.9 189.23,805.3 189.32,806.9 189.40,807.1 189.48,810.0 189.57,810.7 189.65,813.6 189.73,815.2 189.82,816.9 189.90,817.8 189.98,819.8 190.07,820.9 190.15,821.2 190.23,819.9 190.32,819.3 190.40,820.0 190.48,821.5 190.57,821.2 190.65,822.4 190.73,822.3 190.82,819.2 190.90,821.8 190.98,823.0 191.07,824.2 191.15,820.1 191.23,826.3 191.32,823.0 191.40,823.3 191.48,823.0 191.57,824.8 191.65,824.0 191.73,819.3 191.82,824.5 191.90,823.7 191.98,825.0 192.07,822.9 192.15,825.5 192.23,820.4 192.32,824.6 192.40,821.0 192.48,826.2 192.57,822.5 192.65,821.0 192.73,825.7 192.82,821.1 192.90,823.2 192.98,820.1 193.07,824.1 193.15,822.5 193.23,822.4 193.32,819.9 193.40,817.0 193.48,815.7 193.57,816.6 193.65,816.1 193.73,818.7 193.82,817.9 193.90,821.6 193.98,820.3 194.07,819.4 194.15,823.6 194.23,822.6 194.32,824.0 194.40,822.5 194.48,825.8 194.57,821.4 194.65,825.0 194.73,822.2 194.82,822.8 194.90,823.3 194.98,824.0 195.07,820.1 195.15,824.0 195.23,826.9 195.32,824.9 195.40,820.8 195.48,821.2 195.57,821.1 195.65,820.7 195.73,821.5 195.82,822.4 195.90,822.9 195.98,820.2 196.07,822.8 196.15,825.5 196.23,826.0 196.32,820.6 196.40,821.9 196.48,822.0 196.57,822.4 196.65,827.2 196.73,826.2 196.82,822.7 196.90,822.4 196.98,825.8 197.07,822.6 197.15,821.3 197.23,827.0 197.32,825.3 197.40,823.1 197.48,825.2 197.57,823.4 197.65,823.6 197.73,822.8 197.82,824.4 197.90,824.1 197.98,821.2 198.07,825.6 198.15,827.6 198.23,823.8 198.32,824.0 198.40,827.4 198.48,825.1 198.57,826.1 198.65,825.8 198.73,828.0 198.82,825.1 198.90,825.4 198.98,822.7 199.07,826.5 199.15,823.4 199.23,823.2 199.32,826.1 199.40,823.9 199.48,824.3 199.57,823.4 199.65,824.6 199.73,824.3 199.82,824.8 199.90,825.0 199.98,824.8 200.07,823.8 200.15,821.6 200.23,827.8 200.32,822.7 200.40,822.6 200.48,823.1 200.57,821.4 200.65,820.0 200.73,828.3 200.82,821.5 200.90,823.4 200.98,826.9 201.07,823.4 201.15,824.0 201.23,823.2 201.32,826.6 201.40,826.1 201.48,820.3 201.57,822.2 201.65,827.4 201.73,822.2 201.82,822.5 201.90,824.6 201.98,824.9 202.07,824.0 202.15,825.5 202.23,824.5 202.32,822.6 202.40,820.1 202.48,826.2 202.57,822.9 202.65,825.3 202.73,826.1 202.82,826.3 202.90,824.1 202.98,824.4 203.07,823.7 203.15,821.8 203.23,822.1 203.32,823.6 203.40,824.2 203.48,823.8 203.57,821.8 203.65,821.0 203.73,825.0 203.82,826.1 203.90,822.1 203.98,819.2 204.07,820.7 204.15,819.9 204.23,818.9 204.32,818.6 204.40,817.2 204.48,814.8 204.57,814.3 204.65,811.4 204.73,812.0 204.82,812.0 204.90,813.2 204.98,812.9 205.07,814.3 205.15,814.1 205.23,818.1 205.32,820.0 205.40,820.9 205.48,820.2 205.57,821.4 205.65,822.1 205.73,825.5 205.82,822.7 205.90,820.3 205.98,822.9 206.07,823.3 206.15,823.6 206.23,824.1 206.32,822.7 206.40,825.6 206.48,825.7 206.57,827.8 206.65,823.2 206.73,821.2 206.82,826.3 206.90,824.7 206.98,823.4 207.07,823.9 207.15,822.7 207.23,821.5 207.32,821.1 207.40,824.3 207.48,824.6 207.57,827.9 207.65,824.0 207.73,825.1 207.82,824.4 207.90,824.9 207.98,822.3 208.07,825.2 208.15,822.8 208.23,825.5 208.32,823.6 208.40,821.8 208.48,824.3 208.57,823.7 208.65,824.9 208.73,822.9 208.82,821.3 208.90,822.7 208.98,825.8 209.07,822.5 209.15,821.5 209.23,827.4 209.32,822.5 209.40,825.3 209.48,825.9 209.57,822.2 209.65,821.1 209.73,822.2 209.82,824.6 209.90,820.3 209.98,823.3 210.07,822.6 210.15,824.8 210.23,827.2 210.32,823.6 210.40,824.5 210.48,822.6 210.57,825.9 210.65,823.8 210.73,826.6 210.82,827.9 210.90,827.0 210.98,823.4 211.07,825.8 211.15,825.7 211.23,824.1 211.32,826.0 211.40,823.8 211.48,825.4 211.57,825.5 211.65,825.2 211.73,823.9 211.82,825.2 211.90,823.5 211.98,823.2 212.07,824.6 212.15,826.9 212.23,822.3 212.32,823.9 212.40,826.2 212.48,821.4 212.57,823.9 212.65,825.7 212.73,822.9 212.82,823.6 212.90,824.1 212.98,825.4 213.07,822.8 213.15,824.2 213.23,826.2 213.32,825.0 213.40,825.6 213.48,825.1 213.57,823.0 213.65,828.0 213.73,823.4 213.82,826.8 213.90,826.6 213.98,821.0 214.07,823.1 214.15,826.9 214.23,827.6 214.32,824.9 214.40,824.4 214.48,826.2 214.57,823.7 214.65,827.4 214.73,823.4 214.82,823.9 214.90,821.5 214.98,826.2 215.07,823.1 215.15,827.6 215.23,824.6 215.32,827.7 215.40,824.0 215.48,824.7 215.57,824.7 215.65,823.9 215.73,823.4 215.82,822.8 215.90,826.8 215.98,827.5 216.07,822.5 216.15,823.2 216.23,827.3 216.32,825.9 216.40,824.6 216.48,827.6 216.57,822.0 216.65,826.5 216.73,826.7 216.82,823.0 216.90,827.3 216.98,825.4 217.07,823.6 217.15,822.5 217.23,824.9 217.32,823.5 217.40,824.4 217.48,824.8 217.57,823.2 217.65,828.8 217.73,821.3 217.82,822.5 217.90,822.3 217.98,828.5 218.07,828.4 218.15,826.3 218.23,820.8 218.32,821.5 218.40,822.8 218.48,825.2 218.57,822.7 218.65,824.6 218.73,822.5 218.82,823.6 218.90,825.2 218.98,823.2 219.07,821.1 219.15,825.3 219.23,823.3 219.32,821.7 219.40,822.3 219.48,824.5 219.57,826.6 219.65,824.5 219.73,820.3 219.82,824.6 219.90,820.8 219.98,826.5 220.07,823.0 220.15,824.3 220.23,824.1 220.32,824.9 220.40,825.3 220.48,821.2 220.57,825.3 220.65,825.2 220.73,823.9 220.82,824.3 220.90,824.7 220.98,827.0 221.07,824.1 221.15,824.6 221.23,823.3 221.32,819.9 221.40,823.8 221.48,820.9 221.57,822.5 221.65,820.6 221.73,821.6 221.82,820.3 221.90,819.5 221.98,819.2 222.07,818.1 222.15,816.1 222.23,820.7 222.32,821.3 222.40,822.7 222.48,821.5 222.57,821.8 222.65,823.0 222.73,821.8 222.82,826.7 222.90,823.1 222.98,825.0 223.07,822.7 223.15,828.3 223.23,825.5 223.32,825.7 223.40,824.9 223.48,823.9 223.57,823.2 223.65,825.6 223.73,825.3 223.82,826.1 223.90,827.9 223.98,823.4 224.07,824.6 224.15,824.2 224.23,824.5 224.32,828.5 224.40,822.1 224.48,827.5 224.57,824.9 224.65,828.4 224.73,829.2 224.82,825.8 224.90,823.0 224.98,823.8 225.07,825.3 225.15,826.6 225.23,825.6 225.32,823.4 225.40,824.9 225.48,825.9 225.57,822.1 225.65,823.1 225.73,826.3 225.82,826.2 225.90,823.3 225.98,825.6 226.07,826.9 226.15,825.7 226.23,825.2 226.32,824.6 226.40,823.8 226.48,822.4 226.57,824.3 226.65,824.2 226.73,823.1 226.82,827.6 226.90,824.2 226.98,824.0 227.07,823.5 227.15,825.6 227.23,825.1 227.32,824.6 227.40,822.5 227.48,826.2 227.57,821.3 227.65,824.9 227.73,827.3 227.82,823.1 227.90,825.6 227.98,825.9 228.07,826.3 228.15,824.6 228.23,824.8 228.32,824.4 228.40,821.4 228.48,823.9 228.57,823.2 228.65,825.1 228.73,828.5 228.82,821.2 228.90,828.4 228.98,825.9 229.07,827.2 229.15,828.8 229.23,821.9 229.32,824.8 229.40,824.9 229.48,823.6 229.57,823.3 229.65,823.2 229.73,822.3 229.82,822.9 229.90,827.2 229.98,824.1 230.07,822.9 230.15,822.7 230.23,823.4 230.32,828.0 230.40,823.3 230.48,823.3 230.57,821.9 230.65,827.5 230.73,825.1 230.82,822.9 230.90,826.9 230.98,828.2 231.07,822.7 231.15,824.8 231.23,821.4 231.32,824.4 231.40,823.0 231.48,829.2 231.57,822.9 231.65,822.1 231.73,825.3 231.82,824.3 231.90,827.5 231.98,826.9 232.07,828.6 232.15,821.7 232.23,826.4 232.32,825.5 232.40,824.5 232.48,827.3 232.57,822.4 232.65,823.9 232.73,826.8 232.82,824.0 232.90,824.7 232.98,824.0 233.07,822.2 233.15,826.5 233.23,823.0 233.32,824.7 233.40,826.8 233.48,825.6 233.57,821.6 233.65,825.7 233.73,823.0 233.82,825.7 233.90,825.5 233.98,825.5 234.07,824.3 234.15,827.7 234.23,824.2 234.32,827.5 234.40,822.9 234.48,827.1 234.57,825.1 234.65,824.7 234.73,826.3 234.82,826.4 234.90,827.0 234.98,825.5 235.07,823.7 235.15,826.8 235.23,823.2 235.32,827.1 235.40,826.9 235.48,827.8 235.57,823.6 235.65,825.7 235.73,824.8 235.82,826.6 235.90,821.8 235.98,825.2 236.07,826.0 236.15,824.2 236.23,826.0 236.32,823.4 236.40,824.8 236.48,827.5 236.57,826.0 236.65,825.3 236.73,826.0 236.82,825.7 236.90,825.3 236.98,823.3 237.07,826.1 237.15,823.1 237.23,822.6 237.32,824.5 237.40,823.5 237.48,826.6 237.57,827.7 237.65,823.1 237.73,822.3 237.82,820.9 237.90,826.2 237.98,828.3 238.07,825.5 238.15,823.9 238.23,824.5 238.32,823.1 238.40,823.2 238.48,827.5 238.57,821.1 238.65,823.0 238.73,828.2 238.82,825.7 238.90,824.4 238.98,825.8 239.07,822.2 239.15,824.4 239.23,824.8 239.32,824.9 239.40,827.0 239.48,826.1 239.57,823.5 239.65,823.2 239.73,824.5 239.82,825.4 239.90,828.0 239.98,821.7 240.07,828.5 240.15,826.7 240.23,825.7 240.32,823.9 240.40,823.1 240.48,824.6 240.57,826.7 240.65,824.6 240.73,823.1 240.82,826.9 240.90,823.7 240.98,823.7 241.07,828.7 241.15,826.9 241.23,824.9 241.32,828.3 241.40,825.4 241.48,824.9 241.57,821.9 241.65,825.9 241.73,824.9 241.82,822.1 241.90,826.8 241.98,825.2 242.07,822.4 242.15,826.5 242.23,823.9 242.32,821.2 242.40,821.2 242.48,826.6 242.57,823.6 242.65,827.1 242.73,821.0 242.82,826.4 242.90,823.0 242.98,822.7 243.07,824.2 243.15,822.1 243.23,820.7 243.32,818.2 243.40,823.1 243.48,822.0 243.57,818.1 243.65,816.1 243.73,814.9 243.82,813.8 243.90,811.9 243.98,809.9 244.07,807.6 244.15,804.8 244.23,803.8 244.32,803.0 244.40,802.2 244.48,802.7 244.57,804.0 244.65,805.2 244.73,807.2 244.82,809.2 244.90,811.6 244.98,813.4 245.07,815.2 245.15,817.4 245.23,819.5 245.32,818.5 245.40,821.0 245.48,823.0 245.57,820.8 245.65,821.0 245.73,821.0 245.82,822.4 245.90,824.6 245.98,822.4 246.07,820.2 246.15,822.4 246.23,828.0 246.32,824.2 246.40,824.4 246.48,824.0 246.57,820.1 246.65,827.1 246.73,824.9 246.82,822.1 246.90,821.4 246.98,823.8 247.07,821.1 247.15,823.3 247.23,823.8 247.32,824.0 247.40,823.7 247.48,821.4 247.57,821.1 247.65,818.9 247.73,822.0 247.82,821.3 247.90,816.7 247.98,819.0 248.07,815.7 248.15,818.0 248.23,820.3 248.32,820.4 248.40,819.1 248.48,825.9 248.57,824.4 248.65,826.2 248.73,825.1 248.82,823.0 248.90,825.8 248.98,823.7 249.07,825.3 249.15,825.2 249.23,826.0 249.32,823.2 249.40,823.1 249.48,823.6 249.57,821.6 249.65,822.0 249.73,824.8 249.82,827.9 249.90,826.3 249.98,825.1 250.07,824.6 250.15,823.7 250.23,820.6 250.32,827.7 250.40,822.7 250.48,823.0 250.57,827.5 250.65,819.9 250.73,819.5 250.82,823.4 250.90,824.7 250.98,819.6 251.07,822.4 251.15,822.6 251.23,821.0 251.32,821.7 251.40,822.2 251.48,819.5 251.57,824.1 251.65,818.9 251.73,820.2 251.82,820.1 251.90,822.4 251.98,817.6 252.07,821.8 252.15,818.9 252.23,818.1 252.32,822.6 252.40,821.9 252.48,821.9 252.57,819.1 252.65,820.1 252.73,821.5 252.82,820.1 252.90,823.4 252.98,821.9 253.07,819.3 253.15,823.1 253.23,822.6 253.32,825.6 253.40,824.8 253.48,823.9 253.57,825.1 253.65,822.9 253.73,822.3 253.82,826.9 253.90,823.3 253.98,821.8 254.07,825.3 254.15,821.9 254.23,820.7 254.32,825.3 254.40,824.0 254.48,823.9 254.57,822.9 254.65,823.4 254.73,820.9 254.82,825.8 254.90,826.3 254.98,821.9 255.07,825.9 255.15,828.6 255.23,823.9 255.32,827.3 255.40,824.3 255.48,822.7 255.57,824.9 255.65,826.3 255.73,823.9 255.82,824.3 255.90,825.5 255.98,822.3 256.07,823.0 256.15,825.5 256.23,825.8 256.32,826.3 256.40,822.5 256.48,823.4 256.57,825.0 256.65,829.0 256.73,822.5 256.82,826.0 256.90,825.4 256.98,822.9 257.07,824.5 257.15,825.4 257.23,824.0 257.32,824.1 257.40,824.9 257.48,825.2 257.57,824.7 257.65,825.5 257.73,828.8 257.82,826.1 257.90,822.8 257.98,823.1 258.07,828.7 258.15,826.2 258.23,824.5 258.32,824.5 258.40,826.1 258.48,825.5 258.57,822.2 258.65,824.8 258.73,824.2 258.82,826.0 258.90,828.8 258.98,824.7 259.07,828.0 259.15,825.4 259.23,828.4 259.32,827.7 259.40,824.0 259.48,825.7 259.57,821.7 259.65,823.6 259.73,828.4 259.82,828.7 259.90,823.0 259.98,827.4 260.07,823.0 260.15,826.7 260.23,822.8 260.32,827.0 260.40,822.0 260.48,826.0 260.57,823.8 260.65,826.8 260.73,824.6 260.82,823.2 260.90,821.8 260.98,826.2 261.07,822.9 261.15,823.7 261.23,827.0 261.32,826.7 261.40,826.6 261.48,826.2 261.57,823.2 261.65,827.1 261.73,826.1 261.82,826.9 261.90,826.9 261.98,825.9 262.07,823.2 262.15,822.1 262.23,823.3 262.32,825.3 262.40,827.5 262.48,826.6 262.57,823.0 262.65,828.9 262.73,825.6 262.82,823.8 262.90,827.0 262.98,825.8 263.07,826.4 263.15,823.4 263.23,823.7 263.32,826.1 263.40,827.3 263.48,824.2 263.57,825.6 263.65,825.1 263.73,828.8 263.82,824.6 263.90,826.2 263.98,822.9 264.07,826.5 264.15,823.6 264.23,824.2 264.32,824.1 264.40,825.6 264.48,827.3 264.57,827.1 264.65,823.4 264.73,828.2 264.82,824.1 264.90,824.6 264.98,828.5 265.07,826.2 265.15,828.1 265.23,822.0 265.32,823.8 265.40,827.7 265.48,824.7 265.57,823.4 265.65,823.7 265.73,825.8 265.82,822.9 265.90,825.2 265.98,826.4 266.07,826.1 266.15,827.8 266.23,825.7 266.32,823.1 266.40,827.3 266.48,823.1 266.57,823.4 266.65,825.8 266.73,826.4 266.82,823.8 266.90,821.3 266.98,822.2 267.07,825.3 267.15,825.0 267.23,824.8 267.32,825.6 267.40,824.7 267.48,827.3 267.57,825.1 267.65,827.7 267.73,826.9 267.82,823.2 267.90,824.9 267.98,825.4 268.07,822.5 268.15,823.7 268.23,821.4 268.32,818.0 268.40,819.1 268.48,818.0 268.57,816.8 268.65,815.7 268.73,814.2 268.82,815.5 268.90,815.7 268.98,817.5 269.07,818.3 269.15,818.7 269.23,820.6 269.32,821.6 269.40,824.0 269.48,825.9 269.57,822.6 269.65,825.9 269.73,824.5 269.82,826.2 269.90,824.6 269.98,824.2 270.07,823.6 270.15,823.7 270.23,824.5 270.32,827.2 270.40,826.0 270.48,824.1 270.57,821.8 270.65,825.4 270.73,823.0 270.82,825.6 270.90,826.1 270.98,825.1 271.07,822.6 271.15,825.6 271.23,823.6 271.32,827.7 271.40,825.7 271.48,826.9 271.57,825.6 271.65,827.0 271.73,825.2 271.82,825.5 271.90,824.3 271.98,825.8 272.07,823.4 272.15,824.1 272.23,828.0 272.32,828.5 272.40,823.5 272.48,824.2 272.57,823.4 272.65,827.4 272.73,822.0 272.82,822.8 272.90,824.5 272.98,825.9 273.07,824.6 273.15,828.3 273.23,828.3 273.32,829.4 273.40,823.6 273.48,827.0 273.57,824.9 273.65,827.4 273.73,827.1 273.82,823.0 273.90,826.9 273.98,824.3 274.07,824.8 274.15,828.4 274.23,828.2 274.32,825.1 274.40,826.7 274.48,825.9 274.57,824.5 274.65,824.4 274.73,826.7 274.82,823.5 274.90,821.9 274.98,825.5 275.07,824.0 275.15,823.8 275.23,825.1 275.32,828.9 275.40,826.4 275.48,825.2 275.57,826.5 275.65,822.7 275.73,825.6 275.82,824.9 275.90,824.7 275.98,823.8 276.07,824.4 276.15,827.4 276.23,827.5 276.32,823.1 276.40,826.2 276.48,826.9 276.57,826.8 276.65,826.7 276.73,826.9 276.82,824.3 276.90,826.0 276.98,824.6 277.07,828.1 277.15,825.0 277.23,826.4 277.32,826.5 277.40,826.3 277.48,827.0 277.57,823.1 277.65,826.3 277.73,823.2 277.82,824.7 277.90,824.3 277.98,826.1 278.07,825.2 278.15,826.0 278.23,828.0 278.32,824.4 278.40,827.8 278.48,824.9 278.57,823.8 278.65,828.6 278.73,826.3 278.82,828.2 278.90,826.0 278.98,825.9 279.07,825.9 279.15,824.6 279.23,826.3 279.32,825.3 279.40,827.7 279.48,826.4 279.57,825.9 279.65,827.1 279.73,824.8 279.82,826.6 279.90,825.3 279.98,828.2 280.07,823.7 280.15,825.4 280.23,824.5 280.32,825.8 280.40,825.4 280.48,823.6 280.57,825.1 280.65,827.5 280.73,825.0 280.82,827.6 280.90,825.6 280.98,827.1 281.07,826.1 281.15,828.8 281.23,828.4 281.32,827.8 281.40,827.2 281.48,825.1 281.57,827.0 281.65,828.5 281.73,826.4 281.82,825.5 281.90,827.7 281.98,826.1 282.07,824.7 282.15,828.2 282.23,826.1 282.32,827.7 282.40,824.4 282.48,826.7 282.57,826.2 282.65,825.5 282.73,826.6 282.82,827.1 282.90,825.0 282.98,826.7 283.07,824.5 283.15,827.7 283.23,824.5 283.32,824.1 283.40,826.6 283.48,826.3 283.57,825.8 283.65,822.6 283.73,825.1 283.82,823.9 283.90,826.0 283.98,824.1 284.07,829.1 284.15,826.6 284.23,821.7 284.32,826.2 284.40,826.1 284.48,825.8 284.57,824.4 284.65,823.4 284.73,825.0 284.82,824.6 284.90,828.0 284.98,825.4 285.07,828.9 285.15,826.5 285.23,827.7 285.32,822.1 285.40,825.3 285.48,828.0 285.57,827.2 285.65,826.2 285.73,825.6 285.82,824.7 285.90,824.4 285.98,829.0 286.07,825.2 286.15,827.5 286.23,823.6 286.32,821.9 286.40,825.2 286.48,825.7 286.57,823.2 286.65,825.6 286.73,827.4 286.82,826.5 286.90,821.5 286.98,825.8 287.07,828.3 287.15,825.4 287.23,823.1 287.32,826.1 287.40,826.4 287.48,826.1 287.57,824.4 287.65,827.6 287.73,827.4 287.82,829.3 287.90,824.5 287.98,825.7 288.07,825.7 288.15,825.4 288.23,829.6 288.32,825.2 288.40,824.9 288.48,827.6 288.57,823.2 288.65,824.1 288.73,828.1 288.82,822.6 288.90,826.4 288.98,826.6 289.07,826.4 289.15,827.2 289.23,821.9 289.32,825.6 289.40,824.0 289.48,824.0 289.57,825.5 289.65,821.4 289.73,824.4 289.82,828.2 289.90,825.4 289.98,825.1 290.07,825.8 290.15,823.0 290.23,824.2 290.32,824.4 290.40,826.9 290.48,825.6 290.57,825.5 290.65,825.6 290.73,828.5 290.82,827.1 290.90,823.7 290.98,823.7 291.07,827.8 291.15,827.2 291.23,827.5 291.32,820.9 291.40,821.2 291.48,827.4 291.57,825.1 291.65,827.6 291.73,825.1 291.82,822.7 291.90,826.7 291.98,825.1 292.07,825.7 292.15,824.2 292.23,827.0 292.32,824.7 292.40,825.9 292.48,823.3 292.57,825.9 292.65,825.4 292.73,827.8 292.82,827.1 292.90,823.5 292.98,826.3 293.07,827.7 293.15,821.7 293.23,826.8 293.32,827.9 293.40,826.2 293.48,828.5 293.57,826.4 293.65,825.2 293.73,823.8 293.82,822.7 293.90,823.5 293.98,825.8 294.07,822.4 294.15,824.6 294.23,823.7 294.32,820.2 294.40,823.5 294.48,823.9 294.57,821.2 294.65,819.4 294.73,820.7 294.82,818.0 294.90,817.2 294.98,815.2 295.07,812.5 295.15,811.6 295.23,809.8 295.32,809.2 295.40,808.3 295.48,807.9 295.57,807.7 295.65,808.6 295.73,810.0 295.82,811.5 295.90,812.9 295.98,814.0 296.07,815.3 296.15,816.9 296.23,820.3 296.32,817.1 296.40,822.5 296.48,821.1 296.57,824.7 296.65,822.8 296.73,823.7 296.82,825.8 296.90,820.1 296.98,821.2 297.07,827.8 297.15,824.2 297.23,821.0 297.32,824.4 297.40,824.0 297.48,822.4 297.57,827.7 297.65,826.7 297.73,825.3 297.82,825.0 297.90,825.8 297.98,822.2 298.07,827.1 298.15,828.3 298.23,828.8 298.32,825.0 298.40,823.7 298.48,826.6 298.57,828.0 298.65,825.7 298.73,825.3 298.82,826.3 298.90,826.1 298.98,825.8 299.07,826.2 299.15,826.5 299.23,820.6 299.32,825.8 299.40,825.9 299.48,826.7 299.57,826.3 299.65,825.3 299.73,823.5 299.82,826.0 299.90,825.4 299.98,826.4 300.07,826.6 300.15,828.3 300.23,828.9 300.32,823.8 300.40,821.5 300.48,825.0 300.57,823.9 300.65,824.3 300.73,826.7 300.82,827.5 300.90,822.9 300.98,823.2 301.07,826.8 301.15,823.9 301.23,827.1 301.32,825.3 301.40,826.9 301.48,827.3 301.57,822.9 301.65,827.0 301.73,828.9 301.82,825.7 301.90,828.1 301.98,822.9 302.07,822.9 302.15,825.0 302.23,825.3 302.32,825.4 302.40,825.3 302.48,826.6 302.57,827.2 302.65,823.5 302.73,825.3 302.82,829.1 302.90,827.1 302.98,823.5 303.07,825.0 303.15,824.7 303.23,828.0 303.32,826.5 303.40,828.2 303.48,828.2 303.57,825.0 303.65,824.2 303.73,824.6 303.82,822.0 303.90,824.9 303.98,826.7 304.07,826.1 304.15,827.0 304.23,828.9 304.32,823.3 304.40,823.9 304.48,824.4 304.57,828.7 304.65,826.0 304.73,827.4 304.82,825.6 304.90,827.6 304.98,823.5 305.07,826.8 305.15,826.2 305.23,823.6 305.32,826.2 305.40,823.4 305.48,827.5 305.57,827.6 305.65,823.0 305.73,826.3 305.82,825.2 305.90,827.8 305.98,825.6 306.07,823.8 306.15,823.6 306.23,826.6 306.32,825.0 306.40,822.5 306.48,826.2 306.57,822.0 306.65,823.5 306.73,826.1 306.82,827.2 306.90,821.1 306.98,825.5 307.07,828.8 307.15,827.8 307.23,822.8 307.32,825.7 307.40,823.9 307.48,825.7 307.57,828.5 307.65,824.9 307.73,822.0 307.82,823.3 307.90,826.6 307.98,828.5 308.07,824.2 308.15,827.3 308.23,825.7 308.32,828.3 308.40,826.9 308.48,826.7 308.57,825.8 308.65,825.1 308.73,823.9 308.82,827.4 308.90,829.0 308.98,824.1 309.07,827.7 309.15,823.5 309.23,822.0 309.32,823.1 309.40,822.9 309.48,827.4 309.57,826.2 309.65,822.3 309.73,825.3 309.82,824.4 309.90,825.6 309.98,829.0 310.07,823.6 310.15,827.8 310.23,825.1 310.32,824.7 310.40,825.1 310.48,823.4 310.57,828.5 310.65,822.4 310.73,825.4 310.82,821.2 310.90,824.9 310.98,825.4 311.07,828.3 311.15,824.7 311.23,822.5 311.32,826.3 311.40,821.6 311.48,828.5 311.57,825.4 311.65,829.1 311.73,826.2 311.82,825.8 311.90,823.3 311.98,823.3 312.07,823.4 312.15,824.8 312.23,823.5 312.32,824.4 312.40,823.4 312.48,825.0 312.57,825.1 312.65,825.8 312.73,827.0 312.82,824.3 312.90,826.4 312.98,824.7 313.07,825.3 313.15,827.7 313.23,824.1 313.32,825.7 313.40,825.4 313.48,827.3 313.57,822.3 313.65,826.1 313.73,825.9 313.82,824.6 313.90,825.7 313.98,825.0 314.07,823.0 314.15,825.4 314.23,826.0 314.32,823.0 314.40,828.6 314.48,826.1 314.57,823.1 314.65,827.5 314.73,827.8 314.82,824.7 314.90,824.1 314.98,826.8 315.07,827.1 315.15,826.7 315.23,826.4 315.32,822.6 315.40,821.2 315.48,826.3 315.57,823.0 315.65,825.1 315.73,822.9 315.82,822.7 315.90,823.5 315.98,826.2 316.07,821.3 316.15,822.6 316.23,824.1 316.32,825.3 316.40,822.2 316.48,821.3 316.57,825.0 316.65,822.1 316.73,824.4 316.82,824.3 316.90,821.9 316.98,821.3 317.07,826.0 317.15,820.9 317.23,823.3 317.32,825.9 317.40,824.1 317.48,827.6 317.57,828.2 317.65,824.1 317.73,820.8 317.82,822.6 317.90,823.4 317.98,822.1 318.07,823.9 318.15,827.4 318.23,825.4 318.32,822.4 318.40,825.7 318.48,826.2 318.57,825.4 318.65,823.2 318.73,823.7 318.82,822.0 318.90,824.2 318.98,823.8 319.07,823.5 319.15,824.8 319.23,826.3 319.32,826.6 319.40,825.8 319.48,825.4 319.57,824.1 319.65,824.2 319.73,825.0 319.82,827.6 319.90,828.0 319.98,824.2 320.07,824.8 320.15,824.2 320.23,822.7 320.32,824.8 320.40,825.4 320.48,827.8 320.57,827.0 320.65,825.5 320.73,822.0 320.82,824.3 320.90,827.8 320.98,829.9 321.07,829.3 321.15,828.5 321.23,828.3 321.32,822.5 321.40,823.1 321.48,827.0 321.57,827.6 321.65,822.7 321.73,827.0 321.82,825.4 321.90,824.6 321.98,829.8 322.07,828.9 322.15,825.4 322.23,826.1 322.32,823.9 322.40,824.9 322.48,826.6 322.57,824.3 322.65,828.1 322.73,828.2 322.82,824.2 322.90,821.4 322.98,825.9 323.07,825.7 323.15,824.2 323.23,824.4 323.32,823.5 323.40,825.1 323.48,824.8 323.57,823.4 323.65,825.6 323.73,826.0 323.82,829.0 323.90,827.7 323.98,824.5 324.07,824.0 324.15,824.7 324.23,829.5 324.32,826.7 324.40,828.0 324.48,824.7 324.57,824.9 324.65,826.8 324.73,825.1 324.82,826.1 324.90,827.7 324.98,824.6 325.07,826.3 325.15,826.2 325.23,823.5 325.32,828.5 325.40,825.6 325.48,823.8 325.57,824.8 325.65,827.1 325.73,822.7 325.82,826.6 325.90,826.5 325.98,827.2 326.07,822.6 326.15,827.1 326.23,823.4 326.32,827.4 326.40,825.9 326.48,823.9 326.57,826.6 326.65,822.3 326.73,821.7 326.82,824.1 326.90,824.0 326.98,823.6 327.07,821.3 327.15,824.1 327.23,819.9 327.32,825.5 327.40,823.6 327.48,826.3 327.57,825.7 327.65,825.5 327.73,823.8 327.82,824.3 327.90,825.8 327.98,826.1 328.07,822.0 328.15,827.1 328.23,822.2 328.32,825.5 328.40,824.4 328.48,824.0 328.57,824.4 328.65,825.5 328.73,824.8 328.82,824.6 328.90,828.0 328.98,828.6 329.07,826.2 329.15,822.7 329.23,825.9 329.32,821.1 329.40,824.0 329.48,825.6 329.57,823.9 329.65,827.4 329.73,827.3 329.82,826.7 329.90,826.8 329.98,822.5 330.07,823.6 330.15,823.9 330.23,824.0 330.32,826.1 330.40,825.2 330.48,825.0 330.57,827.7 330.65,825.7 330.73,823.5 330.82,822.7 330.90,826.0 330.98,825.9 331.07,822.7 331.15,825.8 331.23,823.6 331.32,825.5 331.40,826.6 331.48,827.0 331.57,825.9 331.65,825.2 331.73,829.9 331.82,821.3 331.90,827.1 331.98,824.9 332.07,825.3 332.15,823.0 332.23,827.1 332.32,827.8 332.40,824.2 332.48,825.1 332.57,823.1 332.65,829.4 332.73,828.4 332.82,824.1 332.90,822.6 332.98,825.3 333.07,830.5 333.15,828.4 333.23,825.4 333.32,825.2 333.40,825.7 333.48,824.4 333.57,826.0 333.65,824.4 333.73,825.8 333.82,825.0 333.90,822.4 333.98,824.6 334.07,824.7 334.15,822.4 334.23,824.2 334.32,821.6 334.40,824.6 334.48,823.6 334.57,823.4 334.65,824.8 334.73,821.1 334.82,823.6 334.90,819.9 334.98,817.8 335.07,818.8 335.15,817.9 335.23,818.2 335.32,815.3 335.40,814.5 335.48,814.2 335.57,814.6 335.65,814.1 335.73,814.6 335.82,814.7 335.90,816.4 335.98,817.8 336.07,816.2 336.15,817.2 336.23,819.7 336.32,821.2 336.40,820.0 336.48,822.5 336.57,820.1 336.65,821.3 336.73,823.2 336.82,819.4 336.90,821.0 336.98,821.4 337.07,820.2 337.15,819.8 337.23,818.8 337.32,817.8 337.40,815.7 337.48,814.6 337.57,816.1 337.65,814.8 337.73,814.6 337.82,815.8 337.90,815.0 337.98,815.1 338.07,816.9 338.15,820.0 338.23,817.7 338.32,820.9 338.40,819.6 338.48,822.2 338.57,822.8 338.65,820.6 338.73,821.4 338.82,822.3 338.90,824.8 338.98,822.0 339.07,826.4 339.15,827.3 339.23,825.1 339.32,821.9 339.40,824.1 339.48,820.8 339.57,823.6 339.65,826.3 339.73,825.2 339.82,827.8 339.90,827.0 339.98,823.7 340.07,827.8 340.15,824.4 340.23,823.1 340.32,827.6 340.40,828.0 340.48,824.8 340.57,827.0 340.65,826.9 340.73,828.6 340.82,827.4 340.90,822.5 340.98,826.4 341.07,828.0 341.15,825.3 341.23,824.7 341.32,828.5 341.40,822.8 341.48,824.7 341.57,823.1 341.65,825.9 341.73,826.0 341.82,824.6 341.90,826.5 341.98,827.1 342.07,827.2 342.15,825.6 342.23,824.2 342.32,824.1 342.40,823.7 342.48,824.6 342.57,825.9 342.65,828.6 342.73,824.0 342.82,826.2 342.90,824.9 342.98,827.1 343.07,823.8 343.15,824.8 343.23,826.3 343.32,821.9 343.40,827.0 343.48,821.6 343.57,822.2 343.65,825.3 343.73,823.4 343.82,829.5 343.90,824.5 343.98,822.6 344.07,827.1 344.15,824.8 344.23,825.8 344.32,824.0 344.40,827.3 344.48,822.3 344.57,826.9 344.65,822.7 344.73,828.6 344.82,827.4 344.90,824.3 344.98,821.6 345.07,823.0 345.15,825.2 345.23,824.9 345.32,825.6 345.40,828.0 345.48,824.3 345.57,825.3 345.65,823.5 345.73,824.5 345.82,829.3 345.90,825.5 345.98,826.4 346.07,824.3 346.15,823.1 346.23,823.8 346.32,824.4 346.40,828.4 346.48,827.1 346.57,825.9 346.65,824.5 346.73,826.5 346.82,825.4 346.90,826.1 346.98,827.1"/>
<polyline points="409.50,801.4 409.58,798.4 409.67,799.4 409.75,799.8 409.83,801.2 409.92,798.7 410.00,801.2 410.08,803.2 410.17,801.2 410.25,800.3 410.33,803.0 410.42,796.2 410.50,800.0 410.58,804.1 410.67,802.9 410.75,802.3 410.83,800.9 410.92,800.2 411.00,805.8 411.08,800.7 411.17,799.7 411.25,802.3 411.33,804.3 411.42,801.8 411.50,799.2 411.58,801.0 411.67,799.1 411.75,804.8 411.83,798.6 411.92,801.4 412.00,804.6 412.08,805.7 412.17,804.7 412.25,805.8 412.33,805.1 412.42,802.4 412.50,802.4 412.58,800.0 412.67,806.8 412.75,802.8 412.83,800.7 412.92,801.1 413.00,801.8 413.08,803.6 413.17,805.1 413.25,803.5 413.33,807.0 413.42,804.8 413.50,805.5 413.58,805.5 413.67,805.3 413.75,803.7 413.83,803.6 413.92,805.3 414.00,800.3 414.08,805.6 414.17,808.8 414.25,801.1 414.33,806.8 414.42,802.7 414.50,806.0 414.58,805.6 414.67,808.3 414.75,807.5 414.83,802.2 414.92,805.2 415.00,803.5 415.08,808.6 415.17,808.6 415.25,802.5 415.33,802.0 415.42,808.9 415.50,802.8 415.58,806.5 415.67,810.3 415.75,805.4 415.83,807.4 415.92,806.1 416.00,805.2 416.08,807.0 416.17,806.4 416.25,804.7 416.33,807.5 416.42,808.8 416.50,803.8 416.58,809.8 416.67,808.4 416.75,808.2 416.83,806.9 416.92,805.2 417.00,804.1 417.08,806.4 417.17,808.1 417.25,801.2 417.33,801.8 417.42,799.4 417.50,801.3 417.58,799.7 417.67,799.5 417.75,801.5 417.83,800.4 417.92,803.1 418.00,802.6 418.08,806.0 418.17,809.5 418.25,805.8 418.33,803.4 418.42,805.5 418.50,807.4 418.58,808.2 418.67,808.3 418.75,808.2 418.83,805.6 418.92,808.5 419.00,807.8 419.08,805.5 419.17,809.5 419.25,809.8 419.33,808.0 419.42,810.6 419.50,812.2 419.58,808.5 419.67,805.3 419.75,809.0 419.83,808.6 419.92,806.2 420.00,811.8 420.08,808.0 420.17,809.2 420.25,812.6 420.33,805.9 420.42,807.1 420.50,809.2 420.58,806.5 420.67,806.3 420.75,810.7 420.83,813.2 420.92,809.0 421.00,809.9 421.08,808.5 421.17,807.9 421.25,807.0 421.33,806.7 421.42,808.9 421.50,807.5 421.58,810.0 421.67,807.1 421.75,813.3 421.83,807.8 421.92,809.0 422.00,811.9 422.08,812.3 422.17,807.9 422.25,811.2 422.33,807.6 422.42,811.6 422.50,809.9 422.58,807.1 422.67,811.5 422.75,812.5 422.83,805.9 422.92,811.8 423.00,814.3 423.08,810.1 423.17,810.2 423.25,809.4 423.33,813.9 423.42,807.8 423.50,809.1 423.58,814.2 423.67,805.3 423.75,809.0 423.83,810.9 423.92,815.0 424.00,807.6 424.08,805.6 424.17,809.8 424.25,806.7 424.33,810.1 424.42,810.0 424.50,810.1 424.58,812.1 424.67,811.4 424.75,810.1 424.83,811.3 424.92,811.1 425.00,809.7 425.08,810.2 425.17,811.2 425.25,807.0 425.33,811.1 425.42,807.4 425.50,809.7 425.58,808.0 425.67,808.3 425.75,810.9 425.83,812.4 425.92,808.6 426.00,814.7 426.08,809.9 426.17,808.1 426.25,809.3 426.33,812.4 426.42,810.1 426.50,807.5 426.58,814.6 426.67,809.3 426.75,810.3 426.83,810.4 426.92,812.5 427.00,810.7 427.08,811.2 427.17,812.2 427.25,809.0 427.33,813.6 427.42,811.3 427.50,809.9 427.58,811.6 427.67,807.6 427.75,808.6 427.83,808.8 427.92,812.2 428.00,812.7 428.08,808.3 428.17,810.1 428.25,814.0 428.33,812.3 428.42,810.3 428.50,808.1 428.58,814.3 428.67,810.2 428.75,806.3 428.83,807.6 428.92,811.8 429.00,810.7 429.08,811.3 429.17,811.4 429.25,814.4 429.33,813.5 429.42,807.2 429.50,808.1 429.58,813.9 429.67,813.2 429.75,811.3 429.83,809.1 429.92,811.4 430.00,810.3 430.08,812.1 430.17,808.2 430.25,811.4 430.33,808.6 430.42,809.3 430.50,814.9 430.58,813.2 430.67,814.9 430.75,814.3 430.83,813.6 430.92,811.3 431.00,807.7 431.08,813.6 431.17,808.7 431.25,811.1 431.33,812.4 431.42,812.2 431.50,811.1 431.58,811.2 431.67,811.0 431.75,805.7 431.83,806.5 431.92,807.3 432.00,805.8 432.08,804.1 432.17,805.0 432.25,806.8 432.33,807.1 432.42,806.8 432.50,813.3 432.58,809.5 432.67,807.8 432.75,813.5 432.83,811.0 432.92,812.1 433.00,807.7 433.08,812.7 433.17,815.0 433.25,808.5 433.33,812.2 433.42,816.2 433.50,811.3 433.58,810.2 433.67,810.8 433.75,812.4 433.83,810.7 433.92,812.4 434.00,813.9 434.08,811.4 434.17,811.2 434.25,812.4 434.33,811.4 434.42,810.5 434.50,812.1 434.58,813.0 434.67,812.8 434.75,813.6 434.83,813.0 434.92,814.9 435.00,813.7 435.08,814.5 435.17,810.4 435.25,812.5 435.33,814.4 435.42,811.2 435.50,812.3 435.58,813.6 435.67,809.2 435.75,810.4 435.83,812.4 435.92,810.4 436.00,814.1 436.08,809.6 436.17,811.8 436.25,814.8 436.33,813.9 436.42,809.2 436.50,814.6 436.58,814.9 436.67,809.9 436.75,812.5 436.83,814.9 436.92,812.8 437.00,814.7 437.08,813.9 437.17,809.9 437.25,808.2 437.33,810.0 437.42,813.3 437.50,812.5 437.58,812.1 437.67,808.7 437.75,810.9 437.83,811.7 437.92,809.6 438.00,812.3 438.08,808.7 438.17,810.3 438.25,811.1 438.33,813.2 438.42,810.8 438.50,809.3 438.58,812.3 438.67,813.3 438.75,814.2 438.83,810.4 438.92,811.8 439.00,809.5 439.08,810.8 439.17,815.0 439.25,812.6 439.33,814.1 439.42,813.2 439.50,815.6 439.58,812.3 439.67,810.8 439.75,812.0 439.83,811.1 439.92,815.2 440.00,813.0 440.08,812.3 440.17,809.6 440.25,813.0 440.33,812.7 440.42,812.5 440.50,810.5 440.58,812.5 440.67,812.5 440.75,811.3 440.83,813.7 440.92,810.8 441.00,813.2 441.08,814.7 441.17,811.8 441.25,811.0 441.33,816.5 441.42,810.0 441.50,813.5 441.58,811.7 441.67,813.6 441.75,815.2 441.83,810.9 441.92,814.1 442.00,816.0 442.08,813.1 442.17,814.4 442.25,812.5 442.33,813.4 442.42,814.5 442.50,813.7 442.58,814.6 442.67,811.1 442.75,814.0 442.83,816.0 442.92,810.8 443.00,813.1 443.08,812.5 443.17,811.3 443.25,812.2 443.33,810.7 443.42,813.4 443.50,810.8 443.58,813.1 443.67,811.5 443.75,811.5 443.83,813.5 443.92,814.7 444.00,815.8 444.08,810.2 444.17,812.7 444.25,812.6 444.33,811.5 444.42,815.3 444.50,815.2 444.58,815.1 444.67,811.3 444.75,813.3 444.83,812.9 444.92,810.8 445.00,813.8 445.08,812.2 445.17,813.7 445.25,811.8 445.33,813.5 445.42,813.2 445.50,812.0 445.58,814.6 445.67,809.1 445.75,816.1 445.83,810.4 445.92,816.7 446.00,810.5 446.08,814.8 446.17,817.3 446.25,813.7 446.33,816.3 446.42,814.3 446.50,816.2 446.58,814.2 446.67,817.6 446.75,812.2 446.83,810.9 446.92,817.1 447.00,815.6 447.08,811.4 447.17,816.8 447.25,813.3 447.33,815.0 447.42,813.1 447.50,812.6 447.58,816.8 447.67,812.6 447.75,814.5 447.83,810.8 447.92,810.8 448.00,814.2 448.08,810.8 448.17,813.8 448.25,809.7 448.33,814.6 448.42,811.8 448.50,813.9 448.58,809.7 448.67,810.4 448.75,814.5 448.83,811.9 448.92,810.6 449.00,814.5 449.08,813.9 449.17,813.8 449.25,815.6 449.33,813.5 449.42,815.0 449.50,811.2 449.58,814.6 449.67,816.0 449.75,815.4 449.83,816.8 449.92,811.9 450.00,812.0 450.08,813.4 450.17,812.1 450.25,812.9 450.33,814.7 450.42,812.2 450.50,812.8 450.58,813.9 450.67,812.6 450.75,811.8 450.83,815.3 450.92,818.3 451.00,812.6 451.08,816.6 451.17,814.5 451.25,813.0 451.33,814.0 451.42,814.9 451.50,816.1 451.58,813.6 451.67,813.7 451.75,812.7 451.83,814.4 451.92,813.7 452.00,814.1 452.08,813.6 452.17,811.4 452.25,814.5 452.33,809.8 452.42,815.5 452.50,817.4 452.58,816.9 452.67,815.1 452.75,814.6 452.83,812.4 452.92,816.2 453.00,813.1 453.08,810.7 453.17,815.5 453.25,815.9 453.33,816.9 453.42,815.6 453.50,816.4 453.58,815.4 453.67,817.2 453.75,814.5 453.83,812.8 453.92,815.7 454.00,817.4 454.08,815.5 454.17,817.3 454.25,815.0 454.33,814.0 454.42,814.2 454.50,813.4 454.58,814.2 454.67,809.6 454.75,813.1 454.83,814.5 454.92,817.1 455.00,812.2 455.08,815.9 455.17,813.9 455.25,816.4 455.33,813.0 455.42,811.2 455.50,814.4 455.58,814.2 455.67,814.5 455.75,814.1 455.83,810.6 455.92,816.2 456.00,814.5 456.08,812.7 456.17,817.9 456.25,818.8 456.33,813.3 456.42,810.9 456.50,809.7 456.58,816.5 456.67,811.3 456.75,814.6 456.83,814.0 456.92,816.5 457.00,815.5 457.08,816.6 457.17,812.7 457.25,815.0 457.33,813.3 457.42,812.8 457.50,810.5 457.58,811.9 457.67,814.5 457.75,813.0 457.83,818.7 457.92,816.1 458.00,812.9 458.08,814.8 458.17,815.4 458.25,815.0 458.33,816.0 458.42,816.8 458.50,815.5 458.58,817.3 458.67,812.4 458.75,816.4 458.83,816.3 458.92,816.4 459.00,814.1 459.08,814.4 459.17,816.5 459.25,818.8 459.33,814.6 459.42,811.8 459.50,812.9 459.58,815.0 459.67,818.8 459.75,818.1 459.83,811.4 459.92,817.2 460.00,814.0 460.08,814.6 460.17,816.7 460.25,814.7 460.33,813.3 460.42,818.0 460.50,816.6 460.58,814.6 460.67,813.8 460.75,815.6 460.83,815.6 460.92,813.3 461.00,817.6 461.08,816.1 461.17,815.3 461.25,811.3 461.33,818.7 461.42,815.3 461.50,814.6 461.58,812.4 461.67,817.6 461.75,816.1 461.83,815.4 461.92,816.2 462.00,813.2 462.08,816.0 462.17,816.3 462.25,814.8 462.33,815.6 462.42,815.5 462.50,816.9 462.58,817.0 462.67,814.5 462.75,817.1 462.83,815.6 462.92,812.5 463.00,815.9 463.08,817.7 463.17,816.4 463.25,814.7 463.33,817.5 463.42,812.7 463.50,816.2 463.58,813.9 463.67,817.2 463.75,815.0 463.83,817.8 463.92,814.7 464.00,815.4 464.08,816.5 464.17,818.2 464.25,815.7 464.33,814.5 464.42,814.9 464.50,816.8 464.58,816.1 464.67,816.4 464.75,815.2 464.83,817.9 464.92,811.8 465.00,814.6 465.08,811.7 465.17,812.9 465.25,814.5 465.33,812.4 465.42,816.2 465.50,812.3 465.58,818.2 465.67,813.6 465.75,813.6 465.83,815.8 465.92,815.5 466.00,814.8 466.08,813.8 466.17,817.7 466.25,816.2 466.33,817.0 466.42,814.9 466.50,817.2 466.58,818.8 466.67,816.4 466.75,815.0 466.83,816.1 466.92,817.6 467.00,814.7 467.08,817.6 467.17,818.0 467.25,819.0 467.33,817.3 467.42,818.0 467.50,819.4 467.58,814.1 467.67,813.5 467.75,814.2 467.83,817.9 467.92,817.9 468.00,816.6 468.08,812.4 468.17,815.4 468.25,812.4 468.33,817.3 468.42,814.1 468.50,815.3 468.58,812.3 468.67,819.0 468.75,814.0 468.83,810.8 468.92,816.3 469.00,815.2 469.08,810.7 469.17,817.0 469.25,815.2 469.33,815.3 469.42,812.2 469.50,817.4 469.58,818.3 469.67,815.3 469.75,814.8 469.83,814.7 469.92,818.6 470.00,812.0 470.08,816.8 470.17,818.9 470.25,811.2 470.33,814.2 470.42,816.0 470.50,815.8 470.58,814.7 470.67,812.4 470.75,819.5 470.83,815.2 470.92,813.8 471.00,814.0 471.08,812.9 471.17,813.0 471.25,813.6 471.33,817.1 471.42,815.1 471.50,816.3 471.58,817.6 471.67,819.7 471.75,819.6 471.83,818.3 471.92,815.0 472.00,811.7 472.08,814.9 472.17,815.5 472.25,815.7 472.33,815.2 472.42,818.5 472.50,812.7 472.58,816.4 472.67,810.7 472.75,817.2 472.83,814.8 472.92,815.0 473.00,811.9 473.08,810.6 473.17,815.1 473.25,814.7 473.33,818.0 473.42,815.3 473.50,814.1 473.58,813.5 473.67,817.3 473.75,814.8 473.83,821.4 473.92,817.0 474.00,815.1 474.08,815.5 474.17,815.0 474.25,815.4 474.33,818.2 474.42,816.8 474.50,814.2 474.58,813.5 474.67,816.9 474.75,814.6 474.83,814.1 474.92,814.6 475.00,816.5 475.08,814.4 475.17,814.8 475.25,816.0 475.33,817.3 475.42,816.1 475.50,812.8 475.58,817.8 475.67,813.0 475.75,813.0 475.83,814.2 475.92,816.5 476.00,817.2 476.08,817.1 476.17,815.9 476.25,815.3 476.33,813.6 476.42,815.7 476.50,817.2 476.58,815.0 476.67,816.5 476.75,816.3 476.83,816.9 476.92,815.0 477.00,818.6 477.08,818.5 477.17,817.6 477.25,814.9 477.33,814.2 477.42,814.3 477.50,814.1 477.58,813.2 477.67,812.6 477.75,818.3 477.83,813.8 477.92,811.7 478.00,815.2 478.08,812.0 478.17,816.7 478.25,813.3 478.33,816.8 478.42,814.0 478.50,815.3 478.58,814.3 478.67,816.5 478.75,815.9 478.83,816.7 478.92,815.5 479.00,817.3 479.08,814.9 479.17,818.1 479.25,815.9 479.33,813.1 479.42,814.1 479.50,811.1 479.58,816.2 479.67,817.4 479.75,813.0 479.83,816.5 479.92,816.5 480.00,816.3 480.08,816.6 480.17,819.9 480.25,810.9 480.33,815.3 480.42,815.8 480.50,812.8 480.58,812.6 480.67,816.8 480.75,813.6 480.83,814.8 480.92,814.1 481.00,813.9 481.08,816.1 481.17,813.8 481.25,817.7 481.33,816.0 481.42,812.6 481.50,812.5 481.58,816.4 481.67,813.9 481.75,817.8 481.83,815.4 481.92,813.4 482.00,812.8 482.08,816.1 482.17,814.6 482.25,816.1 482.33,816.3 482.42,814.8 482.50,817.8 482.58,816.1 482.67,812.8 482.75,814.5 482.83,818.0 482.92,819.1 483.00,810.9 483.08,815.6 483.17,816.0 483.25,812.5 483.33,811.2 483.42,817.3 483.50,815.1 483.58,815.3 483.67,816.8 483.75,814.7 483.83,818.3 483.92,816.2 484.00,816.7 484.08,819.7 484.17,812.0 484.25,811.9 484.33,815.0 484.42,816.2 484.50,811.0 484.58,812.8 484.67,814.0 484.75,812.7 484.83,816.4 484.92,816.1 485.00,814.8 485.08,811.8 485.17,815.0 485.25,817.4 485.33,814.6 485.42,818.4 485.50,812.9 485.58,818.2 485.67,817.5 485.75,813.7 485.83,811.4 485.92,817.6 486.00,814.2 486.08,814.9 486.17,814.8 486.25,811.4 486.33,815.2 486.42,816.9 486.50,816.2 486.58,813.9 486.67,817.7 486.75,818.1 486.83,815.3 486.92,817.0 487.00,814.0 487.08,815.3 487.17,812.2 487.25,812.7 487.33,816.7 487.42,812.9 487.50,816.1 487.58,815.4 487.67,816.5 487.75,815.2 487.83,818.0 487.92,813.3 488.00,816.5 488.08,813.4 488.17,813.4 488.25,817.6 488.33,815.3 488.42,814.8 488.50,816.4 488.58,812.9 488.67,814.0 488.75,817.6 488.83,819.0 488.92,814.8 489.00,813.8 489.08,815.0 489.17,816.9 489.25,813.5 489.33,818.2 489.42,815.4 489.50,817.6 489.58,815.8 489.67,818.4 489.75,815.7 489.83,816.7 489.92,815.1 490.00,815.5 490.08,819.8 490.17,813.5 490.25,816.3 490.33,813.8 490.42,814.5 490.50,812.3 490.58,815.8 490.67,815.4 490.75,811.8 490.83,813.2 490.92,811.3 491.00,814.6 491.08,818.4 491.17,814.5 491.25,814.9 491.33,812.5 491.42,817.0 491.50,815.0 491.58,816.6 491.67,812.7 491.75,814.7 491.83,812.0 491.92,812.9 492.00,815.6 492.08,812.4 492.17,816.8 492.25,814.8 492.33,812.4 492.42,812.4 492.50,816.0 492.58,811.5 492.67,815.7 492.75,818.0 492.83,816.1 492.92,812.2 493.00,818.1 493.08,817.4 493.17,812.2 493.25,818.4 493.33,814.5 493.42,815.0 493.50,817.5 493.58,815.4 493.67,815.3 493.75,813.5 493.83,815.1 493.92,816.4 494.00,811.8 494.08,814.8 494.17,810.8 494.25,811.9 494.33,813.2 494.42,817.9 494.50,815.4 494.58,815.5 494.67,815.2 494.75,812.3 494.83,815.3 494.92,815.2 495.00,815.9 495.08,818.4 495.17,813.4 495.25,815.6 495.33,817.1 495.42,815.8 495.50,816.8 495.58,814.4 495.67,814.5 495.75,812.0 495.83,814.9 495.92,810.8 496.00,811.3 496.08,813.1 496.17,817.4 496.25,814.8 496.33,814.8 496.42,814.5 496.50,812.0 496.58,811.0 496.67,817.9 496.75,816.6 496.83,814.4 496.92,812.6 497.00,812.7 497.08,807.1 497.17,806.8 497.25,805.8 497.33,800.5 497.42,794.7 497.50,787.0 497.58,777.6 497.67,766.9 497.75,755.0 497.83,742.7 497.92,731.0 498.00,720.8 498.08,713.4 498.17,709.7 498.25,710.1 498.33,714.6 498.42,722.7 498.50,733.2 498.58,745.2 498.67,757.5 498.75,769.1 498.83,779.6 498.92,788.8 499.00,795.7 499.08,801.2 499.17,805.4 499.25,808.5 499.33,809.8 499.42,810.8 499.50,812.3 499.58,814.4 499.67,817.3 499.75,816.5 499.83,812.7 499.92,812.1 500.00,810.5 500.08,816.8 500.17,817.3 500.25,814.8 500.33,810.9 500.42,813.9 500.50,815.6 500.58,816.8 500.67,816.4 500.75,814.3 500.83,811.4 500.92,817.5 501.00,818.7 501.08,818.0 501.17,816.8 501.25,815.9 501.33,817.4 501.42,818.6 501.50,813.6 501.58,814.9 501.67,819.2 501.75,813.5 501.83,818.8 501.92,815.5 502.00,811.7 502.08,814.7 502.17,811.5 502.25,815.5 502.33,814.8 502.42,814.2 502.50,816.7 502.58,814.4 502.67,812.0 502.75,817.0 502.83,811.8 502.92,814.3 503.00,815.6 503.08,815.8 503.17,813.5 503.25,813.9 503.33,814.3 503.42,815.5 503.50,814.2 503.58,817.1 503.67,815.0 503.75,813.6 503.83,815.8 503.92,811.7 504.00,817.0 504.08,814.7 504.17,815.5 504.25,814.4 504.33,813.3 504.42,814.5 504.50,816.5 504.58,815.0 504.67,815.8 504.75,815.7 504.83,814.7 504.92,814.7 505.00,814.5 505.08,816.0 505.17,814.8 505.25,816.3 505.33,815.2 505.42,815.3 505.50,816.0 505.58,814.9 505.67,813.7 505.75,819.0 505.83,814.7 505.92,814.5 506.00,810.7 506.08,813.0 506.17,816.2 506.25,814.8 506.33,814.7 506.42,810.5 506.50,814.5 506.58,814.9 506.67,815.0 506.75,814.6 506.83,811.5 506.92,817.7 507.00,812.4 507.08,817.0 507.17,817.4 507.25,815.2 507.33,813.1 507.42,812.4 507.50,817.6 507.58,815.5 507.67,811.3 507.75,813.1 507.83,816.9 507.92,813.1 508.00,817.4 508.08,816.0 508.17,814.1 508.25,816.6 508.33,815.9 508.42,815.7 508.50,816.7 508.58,816.7 508.67,818.7 508.75,818.3 508.83,812.9 508.92,815.4 509.00,814.5 509.08,816.1 509.17,811.4 509.25,819.0 509.33,812.2 509.42,814.2 509.50,813.1 509.58,811.7 509.67,813.8 509.75,815.5 509.83,813.0 509.92,816.7 510.00,813.7 510.08,812.2 510.17,816.3 510.25,814.9 510.33,814.8 510.42,814.8 510.50,816.7 510.58,813.9 510.67,819.6 510.75,816.1 510.83,819.1 510.92,816.0 511.00,813.7 511.08,817.3 511.17,814.3 511.25,814.7 511.33,812.6 511.42,812.3 511.50,815.1 511.58,818.1 511.67,813.0 511.75,815.7 511.83,811.5 511.92,817.4 512.00,813.6 512.08,817.8 512.17,812.3 512.25,813.3 512.33,812.4 512.42,814.2 512.50,815.5 512.58,813.9 512.67,815.5 512.75,818.5 512.83,819.3 512.92,814.8 513.00,816.5 513.08,817.1 513.17,816.2 513.25,813.4 513.33,813.3 513.42,819.4 513.50,815.9 513.58,812.8 513.67,815.8 513.75,814.9 513.83,814.9 513.92,814.4 514.00,816.4 514.08,813.2 514.17,815.1 514.25,811.2 514.33,815.1 514.42,815.4 514.50,814.4 514.58,819.3 514.67,815.1 514.75,817.3 514.83,814.7 514.92,816.0 515.00,814.6 515.08,817.3 515.17,817.5 515.25,811.9 515.33,812.5 515.42,815.9 515.50,813.9 515.58,816.1 515.67,817.6 515.75,817.5 515.83,814.6 515.92,815.6 516.00,813.4 516.08,816.2 516.17,815.3 516.25,820.0 516.33,815.3 516.42,810.9 516.50,813.6 516.58,817.9 516.67,810.8 516.75,813.5 516.83,815.2 516.92,813.7 517.00,817.1 517.08,814.0 517.17,813.4 517.25,815.9 517.33,816.1 517.42,814.0 517.50,811.5 517.58,814.2 517.67,815.9 517.75,819.4 517.83,818.4 517.92,813.0 518.00,819.6 518.08,813.9 518.17,814.7 518.25,815.0 518.33,812.5 518.42,818.0 518.50,813.7 518.58,814.3 518.67,813.5 518.75,813.0 518.83,814.9 518.92,814.1 519.00,815.7 519.08,816.6 519.17,818.5 519.25,816.8 519.33,814.2 519.42,817.4 519.50,814.8 519.58,817.1 519.67,814.0 519.75,817.2 519.83,812.7 519.92,819.3 520.00,819.6 520.08,814.9 520.17,814.3 520.25,813.5 520.33,817.7 520.42,817.3 520.50,812.4 520.58,816.9 520.67,813.7 520.75,816.4 520.83,814.1 520.92,815.3 521.00,813.1 521.08,819.2 521.17,812.4 521.25,814.1 521.33,811.5 521.42,813.4 521.50,817.5 521.58,814.6 521.67,815.8 521.75,815.5 521.83,817.4 521.92,816.5 522.00,813.7 522.08,815.1 522.17,814.4 522.25,818.4 522.33,811.3 522.42,812.2 522.50,812.9 522.58,814.2 522.67,811.7 522.75,810.5 522.83,814.8 522.92,811.4 523.00,810.6 523.08,811.8 523.17,809.1 523.25,809.7 523.33,808.0 523.42,811.7 523.50,810.0 523.58,810.4 523.67,811.4 523.75,810.7 523.83,810.5 523.92,813.3 524.00,813.1 524.08,813.4 524.17,810.9 524.25,812.4 524.33,817.6 524.42,814.6 524.50,817.4 524.58,815.1 524.67,812.5 524.75,813.2 524.83,817.2 524.92,814.5 525.00,815.8 525.08,817.9 525.17,815.7 525.25,813.9 525.33,811.5 525.42,814.0 525.50,814.3 525.58,811.8 525.67,813.5 525.75,810.7 525.83,816.6 525.92,816.7 526.00,812.3 526.08,816.4 526.17,819.1 526.25,816.5 526.33,814.2 526.42,814.5 526.50,813.1 526.58,817.4 526.67,815.3 526.75,810.6 526.83,816.7 526.92,816.5 527.00,811.2 527.08,815.7 527.17,816.0 527.25,815.2 527.33,812.6 527.42,815.9 527.50,816.0 527.58,816.0 527.67,816.9 527.75,811.1 527.83,813.7 527.92,813.4 528.00,815.6 528.08,812.6 528.17,811.8 528.25,814.8 528.33,812.4 528.42,813.9 528.50,813.7 528.58,811.4 528.67,811.1 528.75,809.7 528.83,807.9 528.92,806.8 529.00,805.5 529.08,805.7 529.17,803.6 529.25,801.1 529.33,798.8 529.42,799.0 529.50,795.5 529.58,790.6 529.67,786.2 529.75,773.5 529.83,751.2 529.92,714.2 530.00,657.9 530.08,582.3 530.17,494.8 530.25,411.0 530.33,351.9 530.42,336.8 530.50,371.2 530.58,442.8 530.67,530.5 530.75,614.6 530.83,682.9 530.92,731.2 531.00,761.8 531.08,779.1 531.17,788.8 531.25,795.5 531.33,797.4 531.42,802.3 531.50,799.5 531.58,800.2 531.67,802.7 531.75,809.6 531.83,807.3 531.92,804.6 532.00,809.3 532.08,810.1 532.17,813.3 532.25,809.8 532.33,807.9 532.42,814.1 532.50,812.9 532.58,814.5 532.67,815.3 532.75,814.5 532.83,814.0 532.92,810.4 533.00,813.2 533.08,813.7 533.17,815.4 533.25,814.6 533.33,814.3 533.42,813.5 533.50,813.9 533.58,817.7 533.67,816.1 533.75,812.9 533.83,816.4 533.92,818.7 534.00,818.2 534.08,813.1 534.17,815.8 534.25,817.0 534.33,816.2 534.42,815.6 534.50,816.7 534.58,818.1 534.67,815.4 534.75,816.0 534.83,819.2 534.92,817.2 535.00,814.1 535.08,812.0 535.17,819.1 535.25,819.1 535.33,816.8 535.42,816.3 535.50,814.5 535.58,814.7 535.67,812.2 535.75,813.4 535.83,815.0 535.92,819.0 536.00,812.0 536.08,812.8 536.17,813.6 536.25,814.7 536.33,818.7 536.42,818.9 536.50,819.6 536.58,817.9 536.67,815.6 536.75,819.7 536.83,817.6 536.92,815.3 537.00,818.1 537.08,815.0 537.17,814.9 537.25,819.0 537.33,816.2 537.42,820.3 537.50,820.2 537.58,813.7 537.67,817.4 537.75,816.2 537.83,815.7 537.92,814.5 538.00,818.0 538.08,816.8 538.17,818.6 538.25,815.7 538.33,815.8 538.42,817.0 538.50,819.6 538.58,821.4 538.67,816.9 538.75,818.5 538.83,815.6 538.92,817.1 539.00,814.8 539.08,812.9 539.17,816.4 539.25,815.7 539.33,812.5 539.42,817.3 539.50,817.1 539.58,817.3 539.67,814.8 539.75,814.2 539.83,817.5 539.92,816.6 540.00,815.8 540.08,816.5 540.17,817.3 540.25,817.7 540.33,817.9 540.42,812.4 540.50,817.6 540.58,816.3 540.67,817.6 540.75,813.7 540.83,819.6 540.92,812.3 541.00,816.3 541.08,815.7 541.17,817.9 541.25,817.7 541.33,816.6 541.42,818.7 541.50,818.2 541.58,819.7 541.67,816.4 541.75,813.4 541.83,817.0 541.92,820.6 542.00,816.4 542.08,818.4 542.17,816.9 542.25,812.7 542.33,816.1 542.42,816.3 542.50,819.5 542.58,818.8 542.67,815.2 542.75,815.9 542.83,816.2 542.92,816.1 543.00,814.4 543.08,814.2 543.17,816.4 543.25,815.5 543.33,817.3 543.42,819.6 543.50,816.6 543.58,817.1 543.67,819.1 543.75,816.4 543.83,820.8 543.92,814.4 544.00,817.8 544.08,812.9 544.17,818.2 544.25,815.3 544.33,816.9 544.42,815.8 544.50,816.8 544.58,814.6 544.67,820.1 544.75,814.3 544.83,820.8 544.92,816.3 545.00,815.5 545.08,814.5 545.17,818.8 545.25,815.4 545.33,817.2 545.42,816.3 545.50,813.6 545.58,818.4 545.67,821.5 545.75,816.3 545.83,818.8 545.92,816.1 546.00,815.3 546.08,820.1 546.17,815.8 546.25,814.8 546.33,818.8 546.42,819.2 546.50,817.1 546.58,819.8 546.67,816.8 546.75,818.1 546.83,815.5 546.92,815.9 547.00,817.1 547.08,816.6 547.17,816.8 547.25,816.3 547.33,816.9 547.42,818.1 547.50,817.1 547.58,818.9 547.67,817.6 547.75,815.3 547.83,816.2 547.92,813.9 548.00,817.3 548.08,815.8 548.17,818.9 548.25,820.8 548.33,817.4 548.42,815.3 548.50,819.7 548.58,814.5 548.67,817.6 548.75,815.2 548.83,822.3 548.92,818.1 549.00,819.2 549.08,815.9 549.17,818.0 549.25,818.5 549.33,817.7 549.42,819.8 549.50,820.7 549.58,819.9 549.67,817.5 549.75,816.1 549.83,817.7 549.92,819.8 550.00,819.3 550.08,815.2 550.17,818.6 550.25,818.4 550.33,819.9 550.42,819.0 550.50,818.1 550.58,816.4 550.67,817.8 550.75,817.8 550.83,821.4 550.92,820.9 551.00,817.0 551.08,814.6 551.17,820.0 551.25,818.2 551.33,820.9 551.42,816.5 551.50,816.0 551.58,817.4 551.67,818.4 551.75,815.5 551.83,813.9 551.92,817.0 552.00,816.0 552.08,818.1 552.17,819.7 552.25,816.5 552.33,816.6 552.42,816.3 552.50,816.3 552.58,815.7 552.67,815.6 552.75,819.3 552.83,816.3 552.92,816.7 553.00,819.4 553.08,816.5 553.17,818.6 553.25,814.6 553.33,821.6 553.42,818.4 553.50,816.1 553.58,818.7 553.67,818.5 553.75,820.5 553.83,821.9 553.92,816.6 554.00,816.0 554.08,819.0 554.17,820.1 554.25,816.9 554.33,821.7 554.42,816.4 554.50,816.0 554.58,818.6 554.67,815.3 554.75,818.5 554.83,819.9 554.92,818.9 555.00,817.7 555.08,815.0 555.17,815.2 555.25,818.5 555.33,820.1 555.42,818.9 555.50,821.7 555.58,819.1 555.67,814.9 555.75,818.5 555.83,817.1 555.92,820.4 556.00,820.6 556.08,816.7 556.17,816.5 556.25,819.7 556.33,820.6 556.42,816.5 556.50,814.1 556.58,821.3 556.67,816.1 556.75,815.1 556.83,819.4 556.92,821.9 557.00,815.8 557.08,819.3 557.17,819.3 557.25,819.0 557.33,818.1 557.42,818.9 557.50,821.6 557.58,817.8 557.67,815.8 557.75,818.0 557.83,816.6 557.92,817.2 558.00,818.5 558.08,819.7 558.17,818.2 558.25,819.8 558.33,819.1 558.42,821.5 558.50,818.9 558.58,817.6 558.67,820.7 558.75,818.7 558.83,820.3 558.92,818.1 559.00,819.1 559.08,820.3 559.17,820.5 559.25,817.8 559.33,818.5 559.42,820.4 559.50,822.4 559.58,818.0 559.67,818.0 559.75,818.6 559.83,815.1 559.92,818.3 560.00,814.8 560.08,816.7 560.17,819.6 560.25,821.6 560.33,814.9 560.42,821.6 560.50,817.9 560.58,817.4 560.67,818.9 560.75,821.1 560.83,821.6 560.92,817.6 561.00,820.7 561.08,817.8 561.17,818.6 561.25,816.3 561.33,815.8 561.42,814.4 561.50,816.6 561.58,817.7 561.67,818.2 561.75,816.5 561.83,815.7 561.92,817.1 562.00,816.4 562.08,816.8 562.17,815.2 562.25,818.6 562.33,819.2 562.42,817.8 562.50,817.3 562.58,816.9 562.67,818.0 562.75,818.0 562.83,819.4 562.92,821.4 563.00,817.0 563.08,820.9 563.17,822.9 563.25,818.8 563.33,817.2 563.42,819.0 563.50,817.8 563.58,816.1 563.67,818.5 563.75,818.0 563.83,817.8 563.92,819.1 564.00,817.0 564.08,820.9 564.17,818.2 564.25,818.6 564.33,819.4 564.42,818.8 564.50,817.1 564.58,813.4 564.67,821.5 564.75,816.3 564.83,820.1 564.92,817.5 565.00,820.9 565.08,816.1 565.17,814.4 565.25,816.4 565.33,815.8 565.42,814.3 565.50,815.6 565.58,816.9 565.67,814.6 565.75,814.7 565.83,814.5 565.92,811.9 566.00,811.1 566.08,808.8 566.17,806.9 566.25,804.6 566.33,802.8 566.42,801.1 566.50,799.7 566.58,798.7 566.67,798.2 566.75,798.2 566.83,798.6 566.92,800.3 567.00,802.0 567.08,803.8 567.17,805.9 567.25,806.1 567.33,807.5 567.42,812.9 567.50,816.1 567.58,812.8 567.67,814.6 567.75,813.7 567.83,816.8 567.92,816.7 568.00,813.8 568.08,818.5 568.17,817.7 568.25,816.7 568.33,819.3 568.42,818.4 568.50,818.9 568.58,815.9 568.67,818.3 568.75,816.0 568.83,818.0 568.92,817.6 569.00,817.5 569.08,815.9 569.17,817.0 569.25,815.9 569.33,814.9 569.42,818.5 569.50,819.5 569.58,818.8 569.67,818.3 569.75,819.4 569.83,815.1 569.92,817.2 570.00,815.5 570.08,816.9 570.17,818.9 570.25,821.9 570.33,816.8 570.42,815.7 570.50,821.4 570.58,815.0 570.67,822.7 570.75,820.6 570.83,818.6 570.92,815.7 571.00,816.7 571.08,819.3 571.17,817.4 571.25,817.8 571.33,818.0 571.42,821.0 571.50,818.8 571.58,818.1 571.67,820.2 571.75,818.2 571.83,818.4 571.92,818.5 572.00,819.5 572.08,812.9 572.17,821.0 572.25,819.5 572.33,819.4 572.42,822.4 572.50,813.6 572.58,816.6 572.67,818.5 572.75,817.6 572.83,820.0 572.92,816.4 573.00,817.7 573.08,816.4 573.17,818.5 573.25,818.4 573.33,816.7 573.42,816.3 573.50,814.6 573.58,821.0 573.67,821.9 573.75,822.1 573.83,816.4 573.92,818.9 574.00,817.9 574.08,817.2 574.17,814.2 574.25,819.7 574.33,821.5 574.42,819.6 574.50,819.4 574.58,820.7 574.67,818.2 574.75,817.3 574.83,820.6 574.92,820.4 575.00,814.7 575.08,816.6 575.17,816.8 575.25,819.2 575.33,815.6 575.42,817.5 575.50,819.9 575.58,814.6 575.67,817.8 575.75,815.9 575.83,817.1 575.92,822.0 576.00,818.5 576.08,818.4 576.17,819.1 576.25,818.5 576.33,819.3 576.42,820.5 576.50,818.9 576.58,819.3 576.67,815.0 576.75,817.6 576.83,815.8 576.92,818.4 577.00,818.0 577.08,817.4 577.17,820.7 577.25,815.5 577.33,820.5 577.42,817.9 577.50,819.9 577.58,814.9 577.67,815.7 577.75,818.4 577.83,817.5 577.92,818.9 578.00,816.8 578.08,817.8 578.17,819.2 578.25,815.4 578.33,815.0 578.42,819.5 578.50,817.2 578.58,817.2 578.67,816.8 578.75,819.8 578.83,814.3 578.92,817.8 579.00,816.6 579.08,815.7 579.17,814.3 579.25,814.8 579.33,812.1 579.42,814.0 579.50,811.2 579.58,809.2 579.67,806.8 579.75,804.7 579.83,802.6 579.92,799.8 580.00,799.3 580.08,798.8 580.17,798.8 580.25,799.7 580.33,801.1 580.42,803.6 580.50,805.9 580.58,809.0 580.67,810.0 580.75,812.8 580.83,813.4 580.92,815.5 581.00,817.1 581.08,817.4 581.17,817.4 581.25,814.0 581.33,817.7 581.42,818.2 581.50,818.0 581.58,819.8 581.67,817.8 581.75,813.0 581.83,815.9 581.92,818.2 582.00,815.9 582.08,813.5 582.17,816.6 582.25,815.9 582.33,818.3 582.42,816.2 582.50,817.0 582.58,815.9 582.67,821.1 582.75,820.7 582.83,815.7 582.92,816.1 583.00,817.4 583.08,817.2 583.17,819.9 583.25,818.3 583.33,815.1 583.42,819.9 583.50,818.1 583.58,819.3 583.67,819.2 583.75,815.0 583.83,815.2 583.92,819.9 584.00,816.2 584.08,817.9 584.17,818.9 584.25,814.4 584.33,810.9 584.42,812.6 584.50,810.1 584.58,805.5 584.67,804.4 584.75,801.4 584.83,798.8 584.92,795.6 585.00,792.5 585.08,790.1 585.17,788.7 585.25,787.5 585.33,787.4 585.42,788.3 585.50,790.0 585.58,792.1 585.67,794.7 585.75,798.0 585.83,801.4 585.92,803.5 586.00,805.8 586.08,810.5 586.17,813.0 586.25,809.8 586.33,814.1 586.42,816.7 586.50,815.2 586.58,814.1 586.67,816.2 586.75,819.2 586.83,816.6 586.92,820.7 587.00,817.5 587.08,816.1 587.17,818.1 587.25,817.2 587.33,819.6 587.42,816.8 587.50,820.5 587.58,815.8 587.67,818.2 587.75,819.0 587.83,816.6 587.92,819.9 588.00,820.7 588.08,817.3 588.17,815.9 588.25,815.2 588.33,821.0 588.42,819.9 588.50,822.7 588.58,818.6 588.67,818.6 588.75,817.0 588.83,819.3 588.92,815.8 589.00,819.8 589.08,815.5 589.17,821.3 589.25,817.5 589.33,819.8 589.42,816.4 589.50,818.8 589.58,821.5 589.67,819.3 589.75,820.3 589.83,822.0 589.92,818.5 590.00,817.2 590.08,818.6 590.17,822.7 590.25,815.3 590.33,816.2 590.42,817.3 590.50,820.8 590.58,817.0 590.67,821.5 590.75,818.8 590.83,817.6 590.92,820.0 591.00,816.9 591.08,820.4 591.17,822.2 591.25,814.6 591.33,818.0 591.42,819.4 591.50,818.6 591.58,818.7 591.67,819.7 591.75,821.4 591.83,820.1 591.92,821.4 592.00,819.4 592.08,819.9 592.17,817.2 592.25,818.6 592.33,817.6 592.42,820.6 592.50,817.7 592.58,819.9 592.67,821.6 592.75,817.3 592.83,815.4 592.92,817.1 593.00,819.9 593.08,817.4 593.17,815.6 593.25,819.6 593.33,816.1 593.42,815.9 593.50,817.3 593.58,819.0 593.67,820.7 593.75,821.7 593.83,821.5 593.92,819.2 594.00,822.6 594.08,819.7 594.17,819.2 594.25,816.1 594.33,818.5 594.42,815.4 594.50,820.8 594.58,818.2 594.67,817.8 594.75,816.2 594.83,818.8 594.92,817.6 595.00,817.1 595.08,818.1 595.17,818.7 595.25,822.2 595.33,816.0 595.42,818.6 595.50,818.9 595.58,818.6 595.67,820.4 595.75,817.8 595.83,819.9 595.92,818.0 596.00,815.9 596.08,818.1 596.17,819.5 596.25,816.1 596.33,817.1 596.42,818.1 596.50,818.5 596.58,821.5 596.67,820.3 596.75,821.1 596.83,821.7 596.92,820.2 597.00,820.2 597.08,819.7 597.17,818.2 597.25,820.5 597.33,818.0 597.42,816.7 597.50,819.6 597.58,817.7 597.67,820.4 597.75,820.2 597.83,816.0 597.92,815.9 598.00,819.9 598.08,819.3 598.17,819.6 598.25,819.2 598.33,820.4 598.42,822.9 598.50,816.5 598.58,821.0 598.67,820.0 598.75,820.4 598.83,815.8 598.92,819.2 599.00,818.6 599.08,817.8 599.17,816.7 599.25,822.1 599.33,818.7 599.42,819.0 599.50,817.8 599.58,822.2 599.67,818.5 599.75,820.0 599.83,819.4 599.92,819.7 600.00,822.4 600.08,818.1 600.17,819.6 600.25,818.1 600.33,819.2 600.42,817.8 600.50,816.4 600.58,818.3 600.67,815.3 600.75,814.4 600.83,812.3 600.92,811.2 601.00,807.4 601.08,804.8 601.17,801.6 601.25,797.8 601.33,794.1 601.42,791.6 601.50,789.6 601.58,788.6 601.67,789.3 601.75,790.7 601.83,793.1 601.92,795.9 602.00,799.9 602.08,802.9 602.17,807.5 602.25,809.6 602.33,812.5 602.42,814.4 602.50,816.0 602.58,818.4 602.67,816.5 602.75,815.9 602.83,821.2 602.92,817.9 603.00,816.9 603.08,816.4 603.17,819.2 603.25,813.9 603.33,820.9 603.42,818.8 603.50,821.0 603.58,815.9 603.67,819.9 603.75,815.0 603.83,817.7 603.92,814.7 604.00,820.5 604.08,820.9 604.17,822.8 604.25,814.0 604.33,819.1 604.42,821.5 604.50,817.8 604.58,817.9 604.67,818.1 604.75,822.9 604.83,820.0 604.92,819.6 605.00,817.2 605.08,821.0 605.17,816.0 605.25,817.6 605.33,816.7 605.42,815.2 605.50,816.5 605.58,813.4 605.67,815.2 605.75,811.8 605.83,811.9 605.92,810.6 606.00,806.1 606.08,806.0 606.17,803.5 606.25,803.4 606.33,802.7 606.42,803.8 606.50,804.7 606.58,805.7 606.67,808.3 606.75,809.9 606.83,811.9 606.92,813.2 607.00,814.5 607.08,816.4 607.17,816.6 607.25,813.6 607.33,815.0 607.42,820.5 607.50,816.9 607.58,815.9 607.67,818.2 607.75,819.7 607.83,817.9 607.92,816.8 608.00,820.3 608.08,823.3 608.17,822.6 608.25,817.9 608.33,815.8 608.42,818.5 608.50,819.0 608.58,818.4 608.67,820.3 608.75,818.9 608.83,816.1 608.92,819.2 609.00,816.1 609.08,819.0 609.17,816.3 609.25,817.6 609.33,816.6 609.42,819.2 609.50,819.2 609.58,821.3 609.67,820.3 609.75,819.1 609.83,818.1 609.92,821.8 610.00,819.4 610.08,820.5 610.17,822.1 610.25,816.4 610.33,818.8 610.42,819.1 610.50,821.6 610.58,822.2 610.67,819.5 610.75,821.2 610.83,815.4 610.92,820.6 611.00,818.9 611.08,819.1 611.17,817.7 611.25,819.8 611.33,817.1 611.42,820.8 611.50,819.5 611.58,817.6 611.67,815.8 611.75,816.1 611.83,818.3 611.92,818.5 612.00,821.3 612.08,816.4 612.17,817.3 612.25,818.6 612.33,823.2 612.42,814.9 612.50,817.4 612.58,818.1 612.67,819.6 612.75,820.3 612.83,819.9 612.92,823.3 613.00,816.6 613.08,815.0 613.17,815.4 613.25,818.2 613.33,817.4 613.42,818.3 613.50,818.0 613.58,822.8 613.67,816.2 613.75,817.0 613.83,819.1 613.92,816.5 614.00,817.3 614.08,816.7 614.17,815.6 614.25,818.5 614.33,821.8 614.42,816.6 614.50,815.5 614.58,822.1 614.67,817.8 614.75,821.2 614.83,820.3 614.92,821.2 615.00,820.5 615.08,819.0 615.17,816.3 615.25,819.2 615.33,821.5 615.42,820.1 615.50,819.3 615.58,818.1 615.67,818.4 615.75,820.5 615.83,817.6 615.92,817.5 616.00,816.6 616.08,818.1 616.17,817.2 616.25,816.1 616.33,817.1 616.42,816.1 616.50,813.8 616.58,815.7 616.67,814.3 616.75,815.8 616.83,815.8 616.92,816.8 617.00,815.5 617.08,811.6 617.17,810.4 617.25,809.4 617.33,808.3 617.42,806.2 617.50,803.1 617.58,801.7 617.67,800.1 617.75,798.4 617.83,797.5 617.92,797.5 618.00,798.0 618.08,799.1 618.17,800.5 618.25,802.1 618.33,804.6 618.42,805.1 618.50,808.3 618.58,809.6 618.67,809.4 618.75,813.7 618.83,812.2 618.92,814.7 619.00,817.2 619.08,819.7 619.17,817.4 619.25,817.2 619.33,819.0 619.42,819.2 619.50,815.4 619.58,820.3 619.67,814.6 619.75,816.5 619.83,819.0 619.92,820.4 620.00,822.3 620.08,817.9 620.17,818.7 620.25,818.4 620.33,818.3 620.42,816.4 620.50,819.2 620.58,817.4 620.67,818.3 620.75,821.4 620.83,818.0 620.92,820.1 621.00,820.0 621.08,817.3 621.17,815.6 621.25,818.9 621.33,821.6 621.42,820.2 621.50,823.3 621.58,818.0 621.67,818.3 621.75,819.0 621.83,819.3 621.92,816.2 622.00,817.7 622.08,821.9 622.17,815.9 622.25,821.2 622.33,819.5 622.42,820.4 622.50,816.1 622.58,821.0 622.67,820.4 622.75,821.5 622.83,818.3 622.92,817.1 623.00,819.9 623.08,821.1 623.17,816.6 623.25,818.3 623.33,821.4 623.42,818.9 623.50,818.9 623.58,817.5 623.67,821.2 623.75,819.4 623.83,820.2 623.92,820.4 624.00,817.8 624.08,817.7 624.17,821.1 624.25,818.4 624.33,819.1 624.42,819.3 624.50,816.5 624.58,820.5 624.67,819.3 624.75,823.2 624.83,819.3 624.92,817.2 625.00,820.0 625.08,814.7 625.17,820.3 625.25,816.9 625.33,819.4 625.42,821.5 625.50,820.1 625.58,821.2 625.67,817.0 625.75,819.2 625.83,818.6 625.92,820.1 626.00,819.0 626.08,818.4 626.17,817.1 626.25,816.4 626.33,817.5 626.42,815.4 626.50,812.7 626.58,814.4 626.67,812.2 626.75,811.5 626.83,813.5 626.92,813.3 627.00,814.5 627.08,815.5 627.17,817.7 627.25,816.9 627.33,816.9 627.42,821.7 627.50,821.4 627.58,818.5 627.67,819.0 627.75,818.6 627.83,821.9 627.92,817.3 628.00,822.8 628.08,815.3 628.17,822.5 628.25,820.4 628.33,821.4 628.42,818.8 628.50,819.9 628.58,820.5 628.67,814.8 628.75,817.9 628.83,822.0 628.92,819.3 629.00,818.5 629.08,822.3 629.17,818.1 629.25,822.4 629.33,819.3 629.42,821.2 629.50,816.0 629.58,818.1 629.67,820.4 629.75,820.8 629.83,817.2 629.92,818.6 630.00,816.6 630.08,823.0 630.17,815.9 630.25,816.5 630.33,818.0 630.42,818.5 630.50,820.3 630.58,817.3 630.67,820.5 630.75,822.6 630.83,818.9 630.92,817.6 631.00,818.8 631.08,816.9 631.17,817.4 631.25,820.8 631.33,819.2 631.42,815.8 631.50,818.6 631.58,819.3 631.67,819.2 631.75,818.2 631.83,821.3 631.92,819.6 632.00,820.1 632.08,817.8 632.17,820.8 632.25,816.0 632.33,821.2 632.42,821.5 632.50,820.4 632.58,819.4 632.67,815.2 632.75,821.2 632.83,822.0 632.92,815.9 633.00,820.9 633.08,820.4 633.17,819.6 633.25,822.2 633.33,822.4 633.42,820.1 633.50,819.1 633.58,816.5 633.67,822.4 633.75,820.1 633.83,822.3 633.92,819.5 634.00,821.7 634.08,821.3 634.17,817.4 634.25,821.5 634.33,820.9 634.42,817.5 634.50,815.5 634.58,821.7 634.67,818.6 634.75,815.6 634.83,817.3 634.92,820.4 635.00,819.1 635.08,822.3 635.17,820.3 635.25,816.1 635.33,816.2 635.42,815.9 635.50,820.2 635.58,822.5 635.67,822.2 635.75,820.8 635.83,820.8 635.92,818.3 636.00,815.0 636.08,817.4 636.17,814.0 636.25,814.0 636.33,815.4 636.42,811.6 636.50,810.3 636.58,808.0 636.67,805.4 636.75,804.0 636.83,805.2 636.92,805.8 637.00,807.9 637.08,809.3 637.17,811.3 637.25,812.6 637.33,813.8 637.42,814.8 637.50,815.7 637.58,815.6 637.67,816.6 637.75,819.7 637.83,816.1 637.92,818.2 638.00,821.2 638.08,817.6 638.17,819.6 638.25,820.7 638.33,816.0 638.42,822.7 638.50,816.7 638.58,817.2 638.67,819.8 638.75,821.1 638.83,824.2 638.92,820.4 639.00,821.3 639.08,821.9 639.17,820.9 639.25,821.1 639.33,819.0 639.42,820.9 639.50,823.1 639.58,821.4 639.67,818.8 639.75,817.4 639.83,819.8 639.92,823.7 640.00,820.1 640.08,820.3 640.17,820.0 640.25,822.1 640.33,815.9 640.42,816.4 640.50,815.7 640.58,818.6 640.67,817.8 640.75,817.6 640.83,822.9 640.92,821.6 641.00,823.5 641.08,819.7 641.17,820.5 641.25,816.3 641.33,821.4 641.42,820.5 641.50,819.5 641.58,815.7 641.67,823.5 641.75,816.0 641.83,818.4 641.92,819.6 642.00,822.7 642.08,818.4 642.17,820.7 642.25,820.8 642.33,817.0 642.42,815.9 642.50,818.3 642.58,820.4 642.67,818.2 642.75,818.9 642.83,817.3 642.92,819.1 643.00,818.5 643.08,823.2 643.17,818.7 643.25,819.8 643.33,821.8 643.42,824.3 643.50,822.9 643.58,820.6 643.67,821.8 643.75,823.8 643.83,815.8 643.92,820.1 644.00,820.3 644.08,821.9 644.17,818.7 644.25,822.4 644.33,820.3 644.42,823.9 644.50,821.3 644.58,820.0 644.67,820.3 644.75,823.5 644.83,819.2 644.92,819.9 645.00,816.2 645.08,815.8 645.17,817.8 645.25,819.7 645.33,817.3 645.42,814.9 645.50,817.2 645.58,816.4 645.67,816.5 645.75,821.0 645.83,820.4 645.92,824.0 646.00,819.5 646.08,817.3 646.17,817.0 646.25,820.6 646.33,817.4 646.42,818.4 646.50,818.7 646.58,820.0 646.67,816.4 646.75,821.9 646.83,818.9 646.92,818.4 647.00,822.4 647.08,823.6 647.17,819.4 647.25,819.5 647.33,822.5 647.42,821.8 647.50,820.5 647.58,820.7 647.67,820.0 647.75,820.1 647.83,821.6 647.92,823.5 648.00,819.4 648.08,819.5 648.17,818.3 648.25,817.0 648.33,822.2 648.42,815.8 648.50,821.0 648.58,819.2 648.67,815.2 648.75,820.7 648.83,818.4 648.92,818.1 649.00,822.0 649.08,819.1 649.17,818.3 649.25,821.2 649.33,817.6 649.42,821.8 649.50,820.9 649.58,822.6 649.67,821.6 649.75,820.0 649.83,819.5 649.92,821.9 650.00,818.6 650.08,820.7 650.17,818.3 650.25,816.4 650.33,822.6 650.42,818.0 650.50,819.5 650.58,819.5 650.67,819.4 650.75,819.4 650.83,821.7 650.92,820.1 651.00,821.5 651.08,819.1 651.17,818.6 651.25,817.1 651.33,815.9 651.42,817.5 651.50,816.0 651.58,820.8 651.67,816.4 651.75,820.2 651.83,817.7 651.92,818.9 652.00,818.9 652.08,821.8 652.17,821.8 652.25,818.9 652.33,822.5 652.42,820.3 652.50,817.0 652.58,822.5 652.67,819.9 652.75,819.6 652.83,819.1 652.92,821.0 653.00,822.1 653.08,820.8 653.17,820.4 653.25,820.4 653.33,823.3 653.42,820.2 653.50,817.6 653.58,818.8 653.67,820.8 653.75,819.4 653.83,821.3 653.92,816.8 654.00,819.5 654.08,820.1 654.17,817.2 654.25,821.8 654.33,818.9 654.42,817.6 654.50,820.7 654.58,821.3 654.67,823.2 654.75,822.1 654.83,822.5 654.92,821.0 655.00,818.5 655.08,817.2 655.17,818.7 655.25,819.4 655.33,820.8 655.42,820.0 655.50,822.1 655.58,821.3 655.67,820.1 655.75,823.3 655.83,818.1 655.92,821.1 656.00,818.7 656.08,819.3 656.17,817.1 656.25,816.9 656.33,818.6 656.42,822.7 656.50,821.4 656.58,816.8 656.67,821.3 656.75,818.9 656.83,818.8 656.92,820.0 657.00,819.3 657.08,819.8 657.17,820.3 657.25,819.5 657.33,816.4 657.42,822.6 657.50,819.3 657.58,824.0 657.67,819.2 657.75,821.1 657.83,822.5 657.92,818.5 658.00,818.5 658.08,817.9 658.17,822.2 658.25,817.6 658.33,819.3 658.42,822.5 658.50,823.7 658.58,820.7 658.67,819.1 658.75,817.0 658.83,821.6 658.92,822.4 659.00,817.8 659.08,816.7 659.17,819.8 659.25,818.6 659.33,820.0 659.42,816.5 659.50,820.0 659.58,815.9 659.67,819.5 659.75,816.8 659.83,817.9 659.92,819.9 660.00,815.9 660.08,819.0 660.17,814.9 660.25,812.0 660.33,809.9 660.42,805.9 660.50,800.7 660.58,795.0 660.67,789.4 660.75,783.4 660.83,777.8 660.92,773.1 661.00,769.9 661.08,768.5 661.17,769.0 661.25,771.5 661.33,775.7 661.42,781.3 661.50,787.1 661.58,792.9 661.67,799.0 661.75,803.2 661.83,806.8 661.92,811.4 662.00,814.9 662.08,815.2 662.17,813.7 662.25,817.9 662.33,818.7 662.42,819.2 662.50,818.4 662.58,822.4 662.67,820.7 662.75,820.5 662.83,817.6 662.92,818.9 663.00,819.1 663.08,819.4 663.17,817.8 663.25,818.2 663.33,820.8 663.42,818.1 663.50,821.4 663.58,818.8 663.67,820.0 663.75,815.7 663.83,819.6 663.92,821.3 664.00,820.5 664.08,817.8 664.17,817.0 664.25,819.0 664.33,822.0 664.42,822.1 664.50,820.0 664.58,816.8 664.67,821.5 664.75,821.1 664.83,821.5 664.92,824.3 665.00,816.5 665.08,817.8 665.17,819.7 665.25,821.6 665.33,819.5 665.42,815.6 665.50,816.7 665.58,821.0 665.67,817.2 665.75,821.7 665.83,816.3 665.92,822.6 666.00,817.3 666.08,822.2 666.17,822.2 666.25,821.8 666.33,818.3 666.42,818.4 666.50,818.2 666.58,819.4 666.67,819.9 666.75,821.6 666.83,817.4 666.92,819.9 667.00,817.4 667.08,822.6 667.17,817.8 667.25,822.7 667.33,817.9 667.42,817.9 667.50,821.0 667.58,819.3 667.67,821.7 667.75,818.6 667.83,815.0 667.92,819.0 668.00,819.7 668.08,819.0 668.17,820.1 668.25,824.8 668.33,818.8 668.42,820.5 668.50,816.2 668.58,817.3 668.67,820.8 668.75,817.9 668.83,822.3 668.92,820.1 669.00,821.0 669.08,820.6 669.17,821.3 669.25,820.7 669.33,820.6 669.42,824.6 669.50,820.7 669.58,819.9 669.67,819.0 669.75,821.8 669.83,816.1 669.92,819.6 670.00,818.8 670.08,818.8 670.17,820.1 670.25,819.3 670.33,817.7 670.42,819.4 670.50,823.6 670.58,821.6 670.67,819.5 670.75,819.1 670.83,823.5 670.92,819.3 671.00,817.7 671.08,819.1 671.17,822.4 671.25,817.6 671.33,817.3 671.42,818.7 671.50,822.7 671.58,817.3 671.67,818.4 671.75,823.7 671.83,822.8 671.92,820.6 672.00,820.9 672.08,824.3 672.17,821.6 672.25,815.3 672.33,817.3 672.42,820.8 672.50,817.3 672.58,818.9 672.67,822.4 672.75,818.7 672.83,819.1 672.92,818.7 673.00,815.3 673.08,816.6 673.17,820.9 673.25,822.5 673.33,815.7 673.42,819.2 673.50,819.1 673.58,820.3 673.67,819.9 673.75,822.4 673.83,818.7 673.92,821.5 674.00,819.5 674.08,819.9 674.17,820.2 674.25,819.6 674.33,818.6 674.42,821.9 674.50,819.9 674.58,815.9 674.67,821.2 674.75,819.0 674.83,819.4 674.92,819.7 675.00,819.9 675.08,817.9 675.17,819.5 675.25,817.4 675.33,822.7 675.42,820.1 675.50,818.1 675.58,820.2 675.67,823.4 675.75,822.1 675.83,820.5 675.92,821.0 676.00,821.5 676.08,819.1 676.17,820.9 676.25,818.8 676.33,822.8 676.42,822.8 676.50,821.5 676.58,816.3 676.67,821.9 676.75,820.2 676.83,820.9 676.92,822.1 677.00,821.4 677.08,819.3 677.17,817.4 677.25,821.2 677.33,818.9 677.42,823.6 677.50,816.2 677.58,821.0 677.67,821.3 677.75,821.4 677.83,823.6 677.92,816.1 678.00,823.3 678.08,821.9 678.17,822.5 678.25,816.7 678.33,818.1 678.42,819.6 678.50,816.2 678.58,816.3 678.67,819.0 678.75,821.7 678.83,819.8 678.92,819.5 679.00,821.2 679.08,819.4 679.17,816.8 679.25,817.6 679.33,820.3 679.42,818.3 679.50,819.4 679.58,817.9 679.67,816.0 679.75,817.9 679.83,821.2 679.92,819.5 680.00,822.9 680.08,821.5 680.17,820.4 680.25,820.9 680.33,815.1 680.42,817.6 680.50,817.2 680.58,816.8 680.67,818.6 680.75,819.0 680.83,818.1 680.92,819.2 681.00,818.7 681.08,819.8 681.17,818.0 681.25,814.9 681.33,819.7 681.42,817.3 681.50,817.7 681.58,812.8 681.67,815.2 681.75,818.2 681.83,815.2 681.92,815.1 682.00,813.9 682.08,813.3 682.17,812.0 682.25,814.6 682.33,814.3 682.42,813.4 682.50,812.9 682.58,812.5 682.67,812.4 682.75,814.5 682.83,813.1 682.92,816.4 683.00,812.9 683.08,815.8 683.17,816.7 683.25,815.3 683.33,816.4 683.42,813.6 683.50,814.5 683.58,817.9 683.67,819.3 683.75,822.8 683.83,819.0 683.92,819.8 684.00,823.5 684.08,818.5 684.17,818.9 684.25,817.7 684.33,818.9 684.42,818.4 684.50,818.9 684.58,819.1 684.67,817.7 684.75,820.3 684.83,820.0 684.92,817.5 685.00,816.1 685.08,819.6 685.17,819.1 685.25,820.9 685.33,819.1 685.42,819.1 685.50,820.3 685.58,819.8 685.67,817.9 685.75,817.5 685.83,817.0 685.92,820.2 686.00,815.9 686.08,816.7 686.17,818.5 686.25,819.3 686.33,815.8 686.42,817.2 686.50,815.8 686.58,810.5 686.67,811.9 686.75,808.5 686.83,808.5 686.92,806.6 687.00,805.6 687.08,804.7 687.17,804.9 687.25,806.8 687.33,807.4 687.42,807.8 687.50,810.4 687.58,810.0 687.67,814.6 687.75,813.3 687.83,815.2 687.92,816.4 688.00,816.5 688.08,814.3 688.17,820.3 688.25,813.7 688.33,820.5 688.42,816.6 688.50,815.9 688.58,820.3 688.67,820.3 688.75,817.4 688.83,822.4 688.92,817.9 689.00,814.9 689.08,815.9 689.17,814.6 689.25,814.4 689.33,814.2 689.42,810.6 689.50,812.2 689.58,813.0 689.67,815.3 689.75,814.6 689.83,815.8 689.92,816.4 690.00,818.5 690.08,813.2 690.17,814.7 690.25,822.6 690.33,820.8 690.42,821.8 690.50,820.5 690.58,819.4 690.67,824.0 690.75,820.5 690.83,820.3 690.92,823.0 691.00,819.2 691.08,817.6 691.17,818.1 691.25,823.1 691.33,819.7 691.42,820.0 691.50,819.7 691.58,815.9 691.67,820.6 691.75,821.5 691.83,815.6 691.92,821.0 692.00,819.9 692.08,818.7 692.17,821.3 692.25,816.0 692.33,817.3 692.42,822.3 692.50,819.8 692.58,818.7 692.67,818.7 692.75,821.4 692.83,821.4 692.92,818.6 693.00,815.9 693.08,822.5 693.17,818.1 693.25,817.5 693.33,824.3 693.42,820.0 693.50,818.4 693.58,823.1 693.67,816.4 693.75,817.6 693.83,818.6 693.92,818.4 694.00,821.7 694.08,822.1 694.17,820.9 694.25,818.0 694.33,817.8 694.42,819.4 694.50,819.6 694.58,823.6 694.67,820.9 694.75,822.3 694.83,824.6 694.92,819.1 695.00,820.7 695.08,819.4 695.17,816.3 695.25,821.7 695.33,821.9 695.42,818.4 695.50,819.9 695.58,820.1 695.67,819.0 695.75,819.2 695.83,819.3 695.92,815.7 696.00,821.1 696.08,824.1 696.17,820.8 696.25,821.0 696.33,820.4 696.42,817.4 696.50,821.0 696.58,820.1 696.67,820.5 696.75,818.0 696.83,817.7 696.92,820.2 697.00,820.6 697.08,818.4 697.17,822.1 697.25,817.3 697.33,823.8 697.42,821.7 697.50,821.9 697.58,821.6 697.67,820.8 697.75,818.3 697.83,818.2 697.92,819.2 698.00,824.6 698.08,820.3 698.17,820.0 698.25,819.6 698.33,823.4 698.42,822.5 698.50,822.6 698.58,816.3 698.67,820.9 698.75,820.3 698.83,823.4 698.92,817.3 699.00,820.3 699.08,819.5 699.17,820.8 699.25,819.9 699.33,818.9 699.42,818.1 699.50,819.7 699.58,818.4 699.67,822.6 699.75,822.0 699.83,819.9 699.92,819.8 700.00,819.0 700.08,820.1 700.17,820.5 700.25,820.3 700.33,819.1 700.42,820.3 700.50,818.5 700.58,820.3 700.67,819.7 700.75,817.6 700.83,821.0 700.92,817.5 701.00,822.5 701.08,821.7 701.17,819.4 701.25,816.2 701.33,817.8 701.42,821.7 701.50,824.7 701.58,816.7 701.67,821.8 701.75,822.5 701.83,818.6 701.92,822.1 702.00,819.2 702.08,819.7 702.17,823.3 702.25,819.3 702.33,818.5 702.42,821.2 702.50,821.2 702.58,818.0 702.67,820.5 702.75,821.0 702.83,818.8 702.92,821.3 703.00,818.6 703.08,823.9 703.17,822.6 703.25,819.7 703.33,816.0 703.42,824.5 703.50,818.6 703.58,821.1 703.67,822.4 703.75,817.7 703.83,821.3 703.92,818.4 704.00,818.7 704.08,819.7 704.17,821.0 704.25,820.7 704.33,821.3 704.42,825.0 704.50,814.5 704.58,822.8 704.67,818.5 704.75,818.3 704.83,822.1 704.92,818.8 705.00,819.2 705.08,820.1 705.17,816.0 705.25,820.2 705.33,824.9 705.42,822.5 705.50,818.2 705.58,817.8 705.67,820.2 705.75,818.3 705.83,818.9 705.92,819.1 706.00,819.8 706.08,815.9 706.17,821.3 706.25,819.2 706.33,818.6 706.42,822.8 706.50,817.2 706.58,819.8 706.67,818.8 706.75,820.1 706.83,818.7 706.92,817.7 707.00,821.2 707.08,822.0 707.17,818.3 707.25,819.7 707.33,818.6 707.42,819.2 707.50,820.5 707.58,822.2 707.67,819.4 707.75,819.0 707.83,823.3 707.92,820.1 708.00,819.2 708.08,820.6 708.17,820.1 708.25,820.9 708.33,820.4 708.42,823.4 708.50,818.9 708.58,821.3 708.67,821.6 708.75,821.9 708.83,819.7 708.92,819.0 709.00,821.2 709.08,817.8 709.17,818.5 709.25,819.4 709.33,821.7 709.42,817.4 709.50,816.6 709.58,819.0 709.67,824.8 709.75,819.3 709.83,818.9 709.92,821.5 710.00,827.7 710.08,822.5 710.17,821.1 710.25,820.5 710.33,822.1 710.42,815.5 710.50,820.6 710.58,822.9 710.67,816.9 710.75,820.8 710.83,822.3 710.92,818.7 711.00,821.7 711.08,816.4 711.17,818.6 711.25,819.0 711.33,817.5 711.42,819.9 711.50,819.9 711.58,820.5 711.67,823.9 711.75,818.3 711.83,821.6 711.92,823.9 712.00,821.2 712.08,820.0 712.17,819.1 712.25,821.0 712.33,820.7 712.42,818.5 712.50,821.0 712.58,820.2 712.67,820.1 712.75,818.6 712.83,821.6 712.92,820.7 713.00,816.0 713.08,820.0 713.17,822.6 713.25,818.5 713.33,822.6 713.42,819.6 713.50,820.0 713.58,820.0 713.67,819.6 713.75,820.0 713.83,820.0 713.92,820.2 714.00,819.3 714.08,820.0 714.17,823.2 714.25,819.8 714.33,819.3 714.42,821.1 714.50,819.0 714.58,817.3 714.67,814.1 714.75,811.7 714.83,806.8 714.92,804.4 715.00,800.5 715.08,797.8 715.17,794.1 715.25,792.0 715.33,790.4 715.42,790.0 715.50,791.1 715.58,793.0 715.67,796.0 715.75,799.1 715.83,802.9 715.92,806.4 716.00,809.2 716.08,809.8 716.17,815.1 716.25,817.2 716.33,818.1 716.42,817.9 716.50,819.5 716.58,819.5 716.67,819.7 716.75,821.7 716.83,820.2 716.92,820.7 717.00,818.4 717.08,819.6 717.17,820.2 717.25,817.2 717.33,818.2 717.42,822.8 717.50,815.6 717.58,818.8 717.67,818.5 717.75,819.5 717.83,823.6 717.92,822.4 718.00,821.3 718.08,819.2 718.17,821.2 718.25,818.4 718.33,818.7 718.42,821.3 718.50,820.0 718.58,821.7 718.67,825.2 718.75,822.1 718.83,818.3 718.92,822.8 719.00,818.6 719.08,822.9 719.17,821.0 719.25,818.1 719.33,822.2 719.42,821.8 719.50,817.5 719.58,820.0 719.67,819.9 719.75,822.8 719.83,817.8 719.92,817.9 720.00,822.6 720.08,819.9 720.17,818.9 720.25,822.5 720.33,821.2 720.42,825.4 720.50,821.8 720.58,822.5 720.67,822.7 720.75,821.1 720.83,821.1 720.92,823.9 721.00,821.0 721.08,820.9 721.17,819.9 721.25,821.3 721.33,819.4 721.42,818.8 721.50,818.5 721.58,824.2 721.67,821.4 721.75,818.8 721.83,818.8 721.92,818.5 722.00,821.5 722.08,820.5 722.17,819.5 722.25,823.5 722.33,817.5 722.42,819.2 722.50,819.9 722.58,820.1 722.67,823.3 722.75,819.6 722.83,817.8 722.92,822.4 723.00,821.2 723.08,818.8 723.17,818.1 723.25,819.9 723.33,818.4 723.42,818.9 723.50,819.7 723.58,823.6 723.67,821.0 723.75,821.5 723.83,817.8 723.92,818.1 724.00,818.9 724.08,821.2 724.17,820.3 724.25,821.5 724.33,819.1 724.42,820.9 724.50,820.1 724.58,820.7 724.67,819.7 724.75,820.9 724.83,819.7 724.92,821.3 725.00,821.6 725.08,823.8 725.17,820.0 725.25,822.6 725.33,819.8 725.42,819.3 725.50,821.3 725.58,821.0 725.67,817.6 725.75,820.7 725.83,820.7 725.92,821.8 726.00,819.4 726.08,819.3 726.17,821.9 726.25,820.9 726.33,816.9 726.42,821.0 726.50,818.1 726.58,821.0 726.67,820.0 726.75,819.9 726.83,816.6 726.92,821.9 727.00,817.5 727.08,819.0 727.17,818.3 727.25,816.7 727.33,820.3 727.42,822.5 727.50,822.6 727.58,820.3 727.67,816.8 727.75,816.8 727.83,821.2 727.92,819.1 728.00,818.7 728.08,816.6 728.17,819.8 728.25,819.2 728.33,817.1 728.42,814.2 728.50,818.7 728.58,816.8 728.67,819.2 728.75,815.4 728.83,815.0 728.92,816.2 729.00,815.4 729.08,815.4 729.17,815.8 729.25,815.1 729.33,813.4 729.42,813.6 729.50,816.8 729.58,814.4 729.67,815.9 729.75,816.2 729.83,813.1 729.92,816.0 730.00,815.6 730.08,816.8 730.17,819.9 730.25,818.2 730.33,815.9 730.42,819.5 730.50,823.1 730.58,817.3 730.67,821.3 730.75,817.2 730.83,821.4 730.92,817.6 731.00,818.7 731.08,823.5 731.17,821.3 731.25,821.4 731.33,822.6 731.42,822.8 731.50,822.4 731.58,821.1 731.67,818.6 731.75,817.4 731.83,815.8 731.92,821.3 732.00,821.9 732.08,819.0 732.17,818.8 732.25,815.9 732.33,820.7 732.42,821.8 732.50,822.2 732.58,821.9 732.67,820.7 732.75,816.4 732.83,821.6 732.92,818.9 733.00,821.4 733.08,818.1 733.17,820.9 733.25,818.8 733.33,818.5 733.42,823.3 733.50,817.4 733.58,819.4 733.67,818.0 733.75,818.6 733.83,818.5 733.92,823.8 734.00,823.2 734.08,816.0 734.17,819.2 734.25,821.4 734.33,817.9 734.42,818.9 734.50,821.0 734.58,817.0 734.67,820.6 734.75,819.5 734.83,824.4 734.92,819.0 735.00,821.4 735.08,821.6 735.17,823.7 735.25,821.8 735.33,818.7 735.42,824.6 735.50,819.0 735.58,816.0 735.67,814.5 735.75,818.5 735.83,817.3 735.92,822.3 736.00,818.7 736.08,819.3 736.17,816.8 736.25,818.5 736.33,815.8 736.42,816.5 736.50,822.9 736.58,816.4 736.67,818.3 736.75,815.6 736.83,817.6 736.92,819.9 737.00,817.6 737.08,817.6 737.17,816.1 737.25,815.5 737.33,813.2 737.42,815.5 737.50,816.5 737.58,813.4 737.67,813.6 737.75,814.2 737.83,812.7 737.92,813.3 738.00,811.2 738.08,813.6 738.17,811.4 738.25,812.4 738.33,814.2 738.42,811.0 738.50,815.7 738.58,816.6 738.67,815.2 738.75,816.4 738.83,814.7 738.92,814.8 739.00,819.7 739.08,817.3 739.17,817.6 739.25,818.2 739.33,819.4 739.42,817.8 739.50,817.2 739.58,819.3 739.67,815.5 739.75,815.4 739.83,822.7 739.92,821.4 740.00,821.6 740.08,820.9 740.17,819.1 740.25,820.0 740.33,818.5 740.42,817.3 740.50,821.2 740.58,816.3 740.67,816.5 740.75,819.3 740.83,819.4 740.92,817.5 741.00,818.2 741.08,820.4 741.17,817.8 741.25,818.2 741.33,816.3 741.42,819.8 741.50,817.8 741.58,820.9 741.67,821.9 741.75,820.7 741.83,820.7 741.92,824.4 742.00,821.3 742.08,821.0 742.17,821.3 742.25,817.5 742.33,821.0 742.42,819.0 742.50,819.0 742.58,819.5 742.67,821.5 742.75,819.5 742.83,818.3 742.92,817.2 743.00,820.9 743.08,822.0 743.17,817.1 743.25,819.1 743.33,820.2 743.42,818.9 743.50,819.4 743.58,821.0 743.67,818.9 743.75,819.8 743.83,820.2 743.92,817.5 744.00,819.4 744.08,822.4 744.17,821.7 744.25,821.4 744.33,820.9 744.42,817.5 744.50,821.6 744.58,820.0 744.67,817.3 744.75,820.0 744.83,820.8 744.92,822.5 745.00,818.9 745.08,821.4 745.17,823.5 745.25,823.9 745.33,817.0 745.42,820.1 745.50,820.6 745.58,820.2 745.67,818.1 745.75,819.8 745.83,822.2 745.92,819.7 746.00,819.0 746.08,818.9 746.17,820.4 746.25,816.3 746.33,821.7 746.42,819.1 746.50,818.8 746.58,820.2 746.67,821.6 746.75,822.8 746.83,820.3 746.92,819.5 747.00,822.8 747.08,818.7 747.17,821.1 747.25,821.4 747.33,819.0 747.42,820.9 747.50,825.5 747.58,820.0 747.67,820.9 747.75,819.6 747.83,819.4 747.92,820.4 748.00,823.9 748.08,820.3 748.17,820.5 748.25,824.6 748.33,820.8 748.42,820.9 748.50,821.7 748.58,821.1 748.67,820.6 748.75,820.9 748.83,821.7 748.92,822.4 749.00,822.5 749.08,823.3 749.17,821.4 749.25,822.6 749.33,819.9 749.42,820.9 749.50,816.3 749.58,823.5 749.67,818.1 749.75,821.0 749.83,823.4 749.92,819.4 750.00,821.9 750.08,823.1 750.17,817.0 750.25,823.4 750.33,823.9 750.42,823.7 750.50,823.8 750.58,822.4 750.67,822.2 750.75,818.7 750.83,820.2 750.92,819.7 751.00,820.6 751.08,817.4 751.17,820.1 751.25,820.6 751.33,821.0 751.42,822.1 751.50,819.8 751.58,820.3 751.67,818.8 751.75,819.1 751.83,823.8 751.92,821.4 752.00,822.8 752.08,817.9 752.17,822.4 752.25,823.9 752.33,819.2 752.42,821.4 752.50,816.8 752.58,822.3 752.67,819.9 752.75,821.5 752.83,819.8 752.92,821.2 753.00,823.0 753.08,819.2 753.17,819.3 753.25,819.5 753.33,818.9 753.42,824.1 753.50,824.4 753.58,821.0 753.67,819.0 753.75,820.7 753.83,820.4 753.92,820.0 754.00,818.5 754.08,821.3 754.17,822.5 754.25,820.8 754.33,818.2 754.42,820.9 754.50,823.8 754.58,818.8 754.67,820.7 754.75,822.4 754.83,817.7 754.92,817.8 755.00,824.2 755.08,820.8 755.17,819.9 755.25,820.6 755.33,822.2 755.42,819.8 755.50,824.3 755.58,824.9 755.67,823.7 755.75,821.9 755.83,822.7 755.92,821.1 756.00,822.5 756.08,823.7 756.17,821.0 756.25,817.2 756.33,824.6 756.42,822.0 756.50,818.5 756.58,822.6 756.67,817.2 756.75,818.9 756.83,820.0 756.92,819.0 757.00,817.6 757.08,818.0 757.17,819.8 757.25,823.5 757.33,821.8 757.42,818.7 757.50,823.3 757.58,820.1 757.67,820.5 757.75,817.9 757.83,817.4 757.92,815.7 758.00,818.4 758.08,817.0 758.17,813.8 758.25,812.1 758.33,811.0 758.42,808.8 758.50,806.2 758.58,805.4 758.67,803.1 758.75,802.7 758.83,802.1 758.92,803.2 759.00,805.0 759.08,806.9 759.17,809.1 759.25,809.9 759.33,810.9 759.42,811.1 759.50,813.5 759.58,814.7 759.67,815.3 759.75,815.4 759.83,813.3 759.92,814.0 760.00,813.6 760.08,811.8 760.17,811.0 760.25,807.4 760.33,806.2 760.42,804.1 760.50,801.8 760.58,799.8 760.67,798.3 760.75,796.7 760.83,795.2 760.92,794.3 761.00,794.4 761.08,794.8 761.17,795.7 761.25,797.0 761.33,798.4 761.42,800.6 761.50,802.4 761.58,804.8 761.67,806.5 761.75,808.7 761.83,812.0 761.92,813.1 762.00,811.6 762.08,817.5 762.17,814.8 762.25,817.6 762.33,819.4 762.42,819.4 762.50,823.0 762.58,817.8 762.67,820.6 762.75,818.1 762.83,820.0 762.92,821.7 763.00,823.2 763.08,823.4 763.17,817.7 763.25,822.0 763.33,818.0 763.42,820.1 763.50,816.8 763.58,817.0 763.67,823.6 763.75,823.2 763.83,822.9 763.92,821.9 764.00,817.8 764.08,818.1 764.17,823.5 764.25,819.2 764.33,820.0 764.42,824.5 764.50,820.1 764.58,823.4 764.67,822.3 764.75,824.7 764.83,819.5 764.92,820.6 765.00,816.5 765.08,819.4 765.17,819.0 765.25,823.3 765.33,820.2 765.42,817.3 765.50,821.5 765.58,817.0 765.67,824.7 765.75,819.6 765.83,821.0 765.92,817.6 766.00,823.9 766.08,820.3 766.17,816.7 766.25,822.6 766.33,820.8 766.42,820.6 766.50,823.5 766.58,823.0 766.67,822.1 766.75,821.4 766.83,825.8 766.92,820.1 767.00,820.8 767.08,819.3 767.17,822.4 767.25,819.4 767.33,817.5 767.42,821.0 767.50,820.7 767.58,816.7 767.67,823.0 767.75,820.9 767.83,820.0 767.92,823.4 768.00,824.3 768.08,816.9 768.17,817.9 768.25,820.5 768.33,821.7 768.42,820.8 768.50,822.9 768.58,819.3 768.67,818.5 768.75,821.7 768.83,822.6 768.92,818.0 769.00,823.3 769.08,822.1 769.17,822.9 769.25,816.1 769.33,821.0 769.42,821.7 769.50,818.4 769.58,823.2 769.67,820.7 769.75,817.3 769.83,817.7 769.92,820.3 770.00,819.4 770.08,822.8 770.17,823.8 770.25,819.3 770.33,819.1 770.42,821.8 770.50,822.5 770.58,820.5 770.67,820.3 770.75,819.9 770.83,819.9"/>
</g>
<line x1="10.2" y1="836.5" x2="346.9" y2="836.5" stroke="#000" stroke-width="1.3"/>
<line x1="409.4" y1="836.5" x2="770.6" y2="836.5" stroke="#000" stroke-width="1.3"/>
<g opacity="0.999">
<text transform="translate(16.00,243.00) rotate(-90)" font-size="15.0" textLength="109.10" lengthAdjust="spacing">Montmorillonite</text>
<text transform="translate(40.00,138.50) rotate(-90)" font-size="15.0" textLength="31.94" lengthAdjust="spacing">Quar</text>
<text transform="translate(89.00,262.50) rotate(-90)" font-size="15.0" textLength="108.70" lengthAdjust="spacing">Montmorillonite</text>
<text transform="translate(125.00,151.50) rotate(-90)" font-size="15.0" textLength="44.21" lengthAdjust="spacing">Quartz</text>
<text transform="translate(134.00,243.50) rotate(-90)" font-size="15.0" textLength="37.92" lengthAdjust="spacing">Albite</text>
<text transform="translate(124.00,568.00) rotate(-90)" font-size="15.0" textLength="44.41" lengthAdjust="spacing">Quartz</text>
<text transform="translate(101.00,770.00) rotate(-90)" font-size="15.0" textLength="43.61" lengthAdjust="spacing">Quartz</text>
<text transform="translate(141.00,736.00) rotate(-90)" font-size="15.0" textLength="38.92" lengthAdjust="spacing">Albite</text>
<text transform="translate(437.00,289.00) rotate(-90)" font-size="15.0" textLength="57.34" lengthAdjust="spacing">Kaolinite</text>
<text transform="translate(485.00,268.50) rotate(-90)" font-size="15.0" textLength="54.02" lengthAdjust="spacing">Gibbsite</text>
<text transform="translate(501.00,254.00) rotate(-90)" font-size="15.0" textLength="58.14" lengthAdjust="spacing">Kaolinite</text>
<text transform="translate(567.00,289.00) rotate(-90)" font-size="15.0" textLength="61.02" lengthAdjust="spacing">Hematite</text>
<text transform="translate(673.00,279.00) rotate(-90)" font-size="15.0" textLength="43.61" lengthAdjust="spacing">Quartz</text>
<text transform="translate(726.00,293.00) rotate(-90)" font-size="15.0" textLength="44.21" lengthAdjust="spacing">Quartz</text>
<text transform="translate(776.00,290.50) rotate(-90)" font-size="15.0" textLength="43.41" lengthAdjust="spacing">Quartz</text>
<text transform="translate(526.00,487.00) rotate(-90)" font-size="15.0" textLength="44.21" lengthAdjust="spacing">Quartz</text>
<text transform="translate(501.00,692.50) rotate(-90)" font-size="15.0" textLength="44.21" lengthAdjust="spacing">Quartz</text>
<text transform="translate(567.00,791.50) rotate(-90)" font-size="15.0" textLength="60.42" lengthAdjust="spacing">Hematite</text>
<text transform="translate(666.00,753.00) rotate(-90)" font-size="15.0" textLength="43.21" lengthAdjust="spacing">Quartz</text>
<text transform="translate(720.00,777.50) rotate(-90)" font-size="15.0" textLength="43.61" lengthAdjust="spacing">Quartz</text>
<text transform="translate(764.00,779.50) rotate(-90)" font-size="15.0" textLength="43.41" lengthAdjust="spacing">Quartz</text>
<text x="-2.80" y="25.60" font-size="19">a</text>
<text x="417.50" y="9.60" font-size="19">c</text>
<text x="26.00" y="494.20" font-size="19">b</text>
<text x="427.50" y="492.80" font-size="19">d</text>
<g class="tick" font-size="14">
<text class="tick" x="10" y="862" text-anchor="middle" font-size="14">5</text>
<text class="tick" x="113.7" y="862" text-anchor="middle" font-size="14">25</text>
<text class="tick" x="217.4" y="862" text-anchor="middle" font-size="14">45</text>
<text class="tick" x="321" y="862" text-anchor="middle" font-size="14">65</text>
<text class="tick" x="409.6" y="862" text-anchor="middle" font-size="14">5</text>
<text class="tick" x="520.8" y="862" text-anchor="middle" font-size="14">25</text>
<text class="tick" x="631.9" y="862" text-anchor="middle" font-size="14">45</text>
<text class="tick" x="743.1" y="862" text-anchor="middle" font-size="14">65</text>
</g>
<text x="114.20" y="889.50" font-size="15.5">Angle</text>
<text x="159.00" y="889.50" font-size="15.5">(</text>
<text class="serif" x="165.00" y="889.30" font-size="16.8">°2θ</text>
<text class="serif" x="193.00" y="889.50" font-size="16.8">Cu</text>
<text class="serif" x="218.50" y="889.50" font-size="16.8">K</text>
<text class="serif" x="231.00" y="892.30" font-size="11.5">α</text>
<text x="237.30" y="889.50" font-size="15.5">)</text>
<text x="525.90" y="889.50" font-size="15.5">Angle</text>
<text x="570.70" y="889.50" font-size="15.5">(</text>
<text class="serif" x="576.70" y="889.30" font-size="16.8">°2θ</text>
<text class="serif" x="604.70" y="889.50" font-size="16.8">Cu</text>
<text class="serif" x="630.20" y="889.50" font-size="16.8">K</text>
<text class="serif" x="642.70" y="892.30" font-size="11.5">α</text>
<text x="649.00" y="889.50" font-size="15.5">)</text>
</g>
</svg>
</body></html>
